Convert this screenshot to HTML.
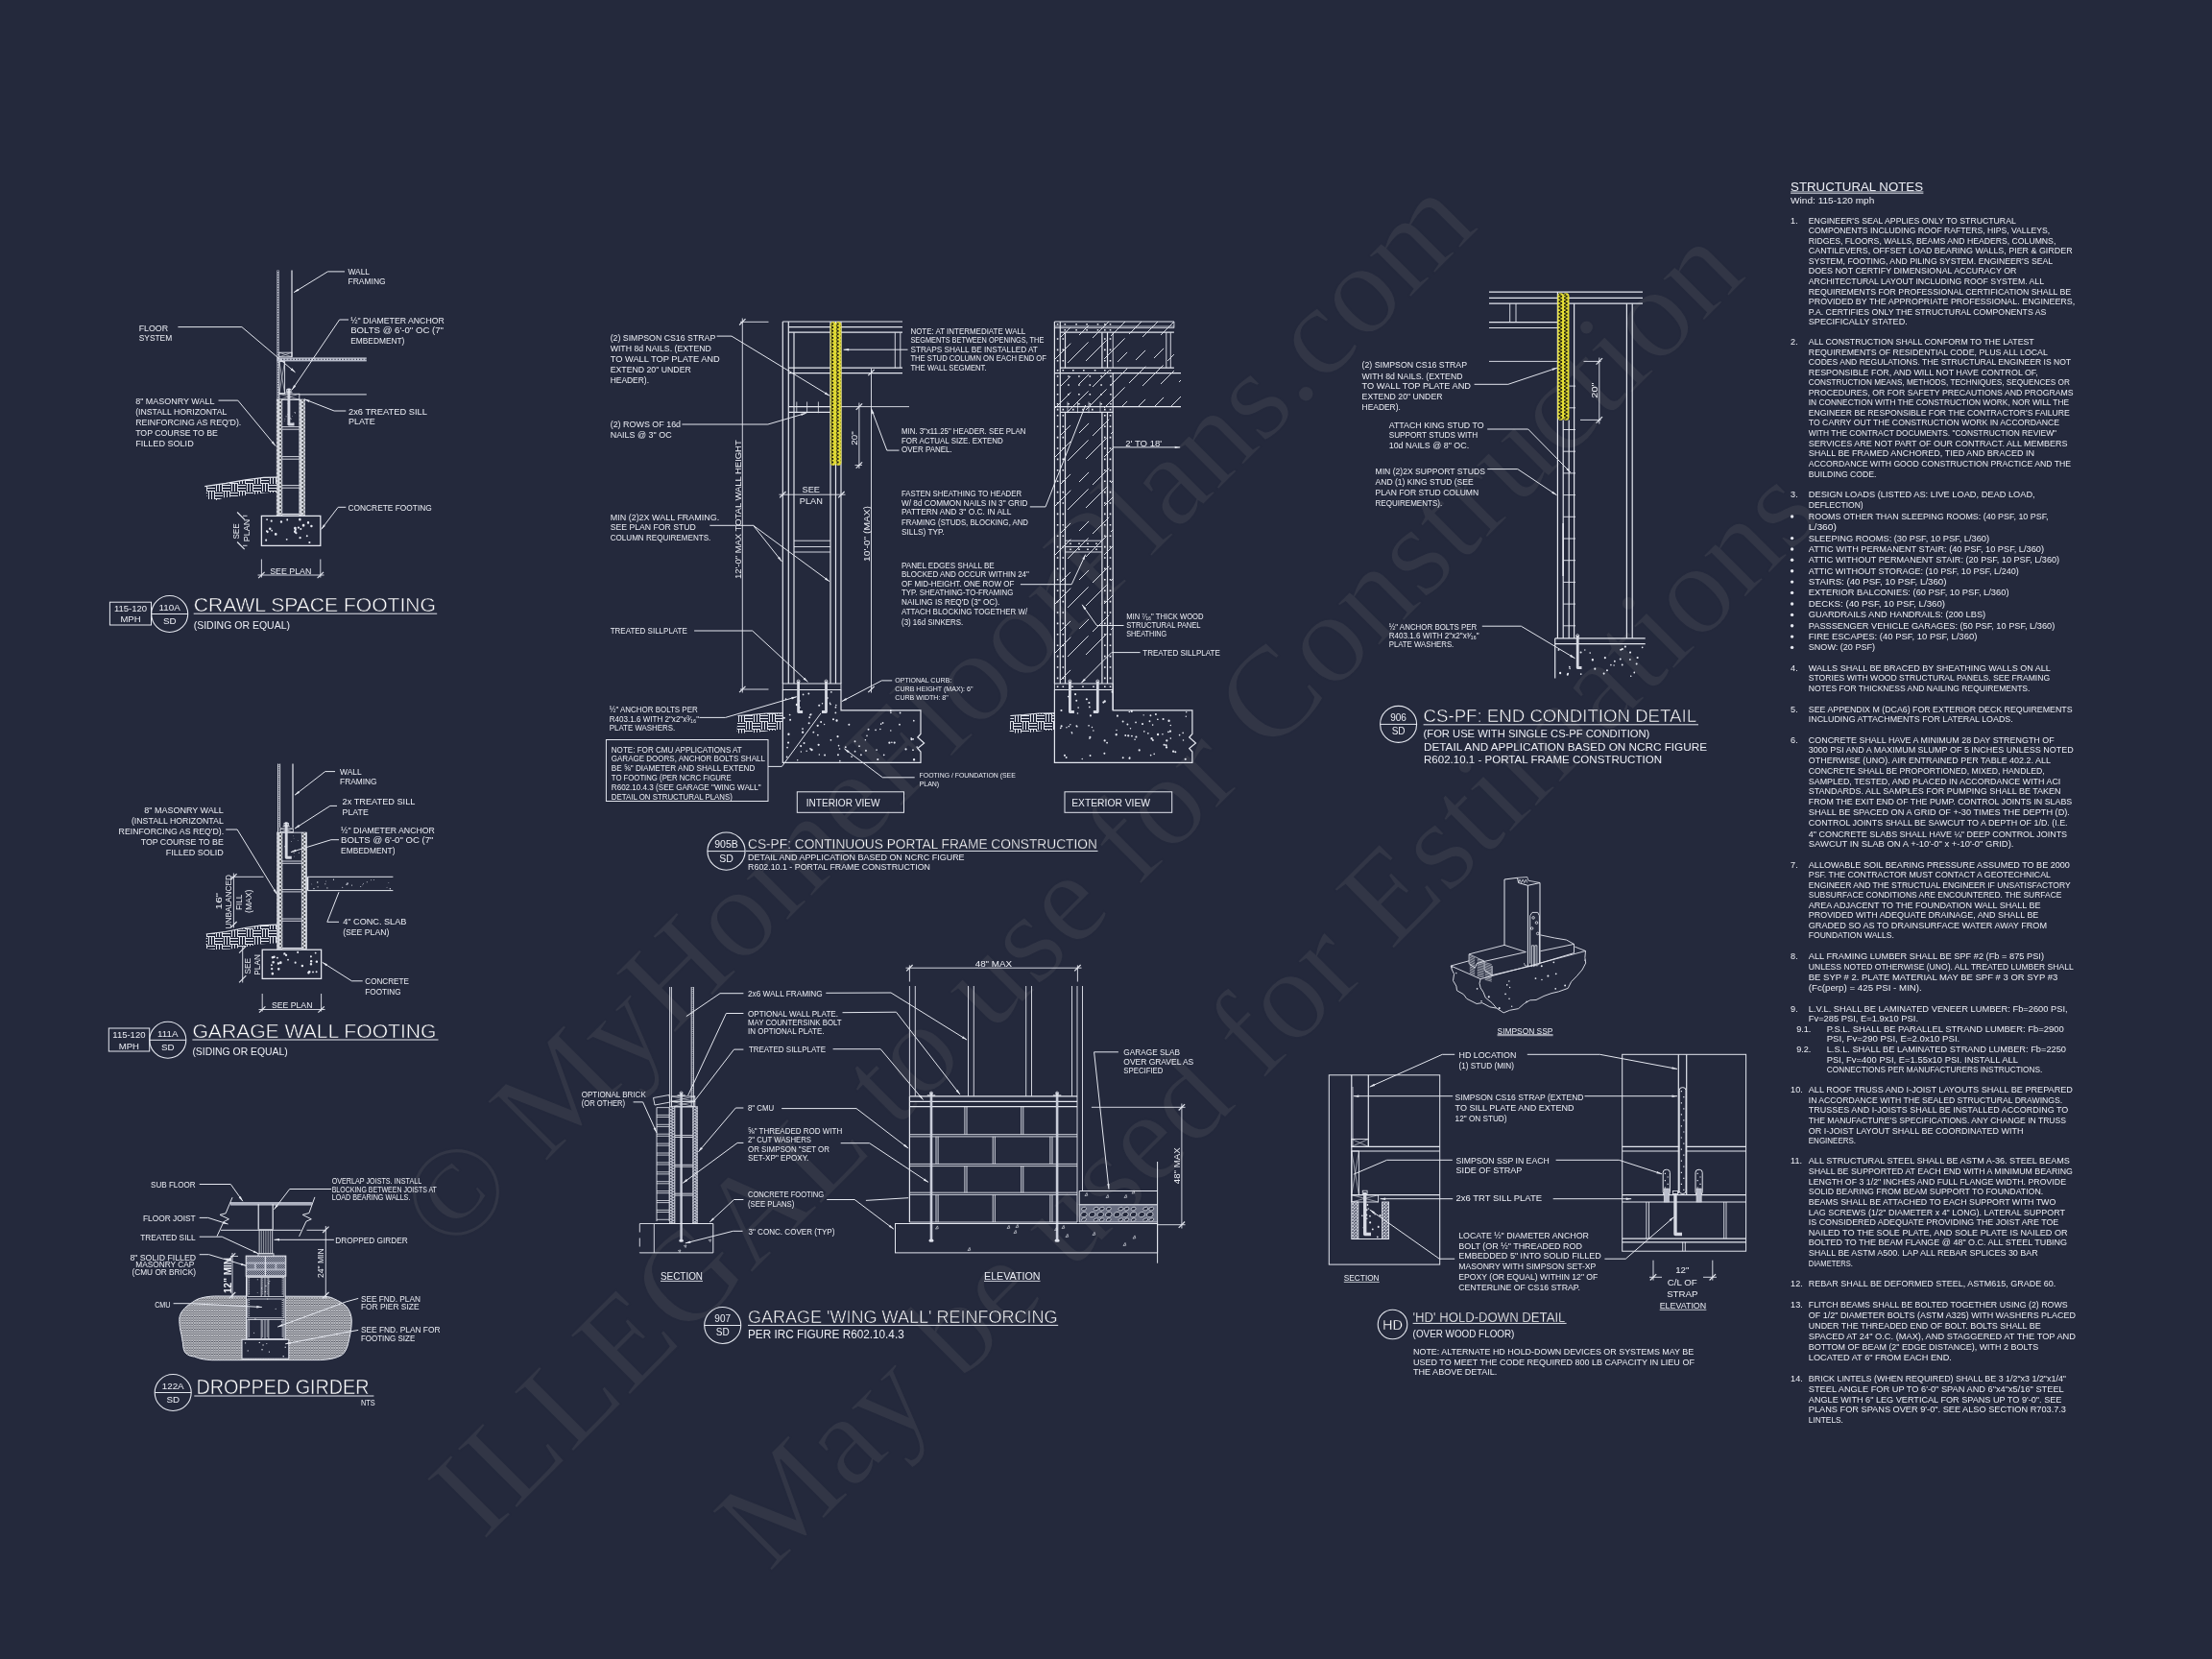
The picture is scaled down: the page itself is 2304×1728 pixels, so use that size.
<!DOCTYPE html>
<html lang="en"><head><meta charset="utf-8"><title>Structural Details</title>
<style>
html,body{margin:0;padding:0;background:#24293c;}
body{width:2304px;height:1728px;overflow:hidden;}
svg{display:block;transform:translateZ(0);will-change:transform;}
svg text{font-family:"Liberation Sans",sans-serif;fill:#eceef5;}
.ti{fill:#ffffff;stroke:#24293c;stroke-width:0.5px;paint-order:fill stroke;}
.ti2{fill:#ffffff;stroke:#24293c;stroke-width:0.28px;paint-order:fill stroke;}
.wm{font-family:"Liberation Serif",serif;fill:#323646;stroke:#24293c;stroke-width:1.5px;}
</style></head><body>
<svg width="2304" height="1728" viewBox="0 0 2304 1728" stroke-linecap="butt" stroke-linejoin="miter">
<rect x="0" y="0" width="2304" height="1728" style="fill:#24293c" stroke="none"/>
<text class="wm" transform="translate(469.5 1309.5) rotate(-45)" x="0" y="0" font-size="134" textLength="1517" lengthAdjust="spacingAndGlyphs">© MyHomeFloorPlans.com</text>
<text class="wm" transform="translate(503 1606) rotate(-45)" x="0" y="0" font-size="134" textLength="1864" lengthAdjust="spacingAndGlyphs">ILLEGAL to use for Construction</text>
<text class="wm" transform="translate(801 1639) rotate(-45)" x="0" y="0" font-size="134" textLength="1555" lengthAdjust="spacingAndGlyphs">May be used for Estimations</text>
<defs>
<pattern id="cmu" width="5.8" height="4" patternUnits="userSpaceOnUse"><rect width="5.8" height="4" fill="#d2d5dc"/><circle cx="2.1" cy="1" r="0.88" fill="#2d3036"/><circle cx="4.1" cy="3" r="0.88" fill="#2d3036"/></pattern>
<pattern id="cmu2" width="5" height="3" patternUnits="userSpaceOnUse"><rect width="5" height="3" fill="#b9bdcb"/><path d="M1.4 -0.2L2.6 0.75L1.4 1.7L0.2 0.75ZM3.7 1.3L4.9 2.25L3.7 3.2L2.5 2.25Z" fill="#24293c"/></pattern>
<pattern id="earth" width="16" height="16" patternUnits="userSpaceOnUse"><path d="M0 1.5H8M0 4.5H8M0 7.5H8M8 9.5H16M8 12.5H16M8 15.5H16M9.5 0V8M12.5 0V8M15.5 0V8M1.5 8V16M4.5 8V16M7.5 8V16" stroke="#e3e6ee" stroke-width="1" fill="none" shape-rendering="crispEdges"/></pattern>
<pattern id="xh" width="2.6" height="2.6" patternUnits="userSpaceOnUse"><rect width="2.6" height="2.6" fill="#2a2c38"/><path d="M0 0L2.6 2.6M2.6 0L0 2.6" stroke="#c4c6cc" stroke-width="0.98"/></pattern>
<pattern id="xh2" width="3.3" height="3.3" patternUnits="userSpaceOnUse"><rect width="3.3" height="3.3" fill="#30354a"/><path d="M0 0L3.3 3.3M3.3 0L0 3.3" stroke="#d5d8e2" stroke-width="0.9"/></pattern>
<pattern id="brickh" width="2" height="2" patternUnits="userSpaceOnUse"><rect width="2" height="2" fill="#3d4256"/><path d="M-0.5 2.5L2.5 -0.5M-0.5 0.5L0.5 -0.5M1.5 2.5L2.5 1.5" stroke="#c9cdd9" stroke-width="0.75"/></pattern>
<pattern id="strap" width="5.5" height="3.6" patternUnits="userSpaceOnUse"><rect width="5.5" height="3.6" fill="#ece534"/><circle cx="1.9" cy="0.9" r="1.2" fill="#17180f"/><circle cx="3.6" cy="2.7" r="1.2" fill="#17180f"/></pattern>
</defs>
<rect x="288.4" y="281.5" width="2.3" height="135" fill="#b9bdcb" stroke="none"/>
<path d="M289.55 282V416" stroke="#24293c" stroke-width="1.1" stroke-dasharray="1 1.6" fill="none"/>
<path d="M304 281.5L304 371.8" stroke="#e4e7ef" stroke-width="1.2"/>
<rect x="290.8" y="367.2" width="13.2" height="4.6" fill="none" stroke="#e4e7ef" stroke-width="0.9"/>
<path d="M290.8 367.2L304 371.8" stroke="#e4e7ef" stroke-width="0.6"/>
<path d="M290.8 371.8L304 367.2" stroke="#e4e7ef" stroke-width="0.6"/>
<rect x="288.4" y="372.4" width="93.4" height="4" fill="#b9bdcb" stroke="none"/>
<path d="M291 374.4H381.5" stroke="#24293c" stroke-width="1.1" stroke-dasharray="0.9 2.3" fill="none"/>
<rect x="290.9" y="376.6" width="5.7" height="33" fill="none" stroke="#e4e7ef" stroke-width="0.9"/>
<path d="M290.9 376.6L296.6 409.6" stroke="#e4e7ef" stroke-width="0.6"/>
<path d="M296.6 376.6L290.9 409.6" stroke="#e4e7ef" stroke-width="0.6"/>
<path d="M311.8 410.9L381.8 410.9" stroke="#e4e7ef" stroke-width="1.0"/>
<rect x="290.9" y="410.3" width="20.9" height="6" fill="none" stroke="#e4e7ef" stroke-width="0.9"/>
<path d="M290.9 410.3L311.8 416.3" stroke="#e4e7ef" stroke-width="0.6"/>
<path d="M290.9 416.3L311.8 410.3" stroke="#e4e7ef" stroke-width="0.6"/>
<rect x="288.2" y="416" width="5.7" height="120.8" fill="url(#cmu)" stroke="#e4e7ef" stroke-width="0.6"/>
<rect x="311.8" y="416" width="5.8" height="120.8" fill="url(#cmu)" stroke="#e4e7ef" stroke-width="0.6"/>
<path d="M293.9 444.6L311.8 444.6" stroke="#e4e7ef" stroke-width="0.9"/>
<path d="M293.9 447.2L311.8 447.2" stroke="#e4e7ef" stroke-width="0.9"/>
<path d="M293.9 475.6L311.8 475.6" stroke="#e4e7ef" stroke-width="0.9"/>
<path d="M293.9 478.2L311.8 478.2" stroke="#e4e7ef" stroke-width="0.9"/>
<path d="M293.9 505.6L311.8 505.6" stroke="#e4e7ef" stroke-width="0.9"/>
<path d="M293.9 508.2L311.8 508.2" stroke="#e4e7ef" stroke-width="0.9"/>
<path d="M293.9 416.2L311.8 416.2" stroke="#e4e7ef" stroke-width="0.9"/>
<path d="M293.9 535.6L311.8 535.6" stroke="#e4e7ef" stroke-width="1.4"/>
<path d="M298.88 431.75a0.40 0.40 0 1 0 0.80 0a0.40 0.40 0 1 0 -0.80 0zM303.99 433.58a0.34 0.34 0 1 0 0.69 0a0.34 0.34 0 1 0 -0.69 0zM295.80 438.34a0.38 0.38 0 1 0 0.76 0a0.38 0.38 0 1 0 -0.76 0zM298.81 441.90a0.42 0.42 0 1 0 0.84 0a0.42 0.42 0 1 0 -0.84 0zM307.09 430.22a0.45 0.45 0 1 0 0.91 0a0.45 0.45 0 1 0 -0.91 0zM297.58 433.78a0.50 0.50 0 1 0 0.99 0a0.50 0.50 0 1 0 -0.99 0zM302.76 436.18a0.46 0.46 0 1 0 0.92 0a0.46 0.46 0 1 0 -0.92 0zM296.44 436.56a0.44 0.44 0 1 0 0.89 0a0.44 0.44 0 1 0 -0.89 0zM299.66 420.20a0.50 0.50 0 1 0 0.99 0a0.50 0.50 0 1 0 -0.99 0zM302.02 435.67a0.50 0.50 0 1 0 1.00 0a0.50 0.50 0 1 0 -1.00 0zM305.45 440.22a0.41 0.41 0 1 0 0.81 0a0.41 0.41 0 1 0 -0.81 0zM306.54 429.50a0.51 0.51 0 1 0 1.02 0a0.51 0.51 0 1 0 -1.02 0z" fill="#e6e9f2" stroke="none"/>
<path d="M300.9 404.4V442H306.5" fill="none" stroke="#d5d8e2" stroke-width="2.9" stroke-linejoin="round"/>
<rect x="298.7" y="405.6" width="4.4" height="2.4" fill="none" stroke="#e4e7ef" stroke-width="0.8"/>
<path d="M297.3 408.8L304.5 408.8" stroke="#e4e7ef" stroke-width="0.9"/>
<rect x="272.4" y="537.4" width="61.4" height="31" fill="none" stroke="#e4e7ef" stroke-width="1.3"/>
<path d="M291.76 543.57a1.20 1.20 0 1 0 2.40 0a1.20 1.20 0 1 0 -2.40 0zM277.57 553.97a1.06 1.06 0 1 0 2.11 0a1.06 1.06 0 1 0 -2.11 0zM276.92 553.20a0.89 0.89 0 1 0 1.78 0a0.89 0.89 0 1 0 -1.78 0zM298.30 541.39a0.92 0.92 0 1 0 1.83 0a0.92 0.92 0 1 0 -1.83 0zM297.76 561.83a0.93 0.93 0 1 0 1.87 0a0.93 0.93 0 1 0 -1.87 0zM285.87 556.44a1.35 1.35 0 1 0 2.70 0a1.35 1.35 0 1 0 -2.70 0zM306.03 550.21a1.37 1.37 0 1 0 2.73 0a1.37 1.37 0 1 0 -2.73 0zM276.14 562.68a1.02 1.02 0 1 0 2.03 0a1.02 1.02 0 1 0 -2.03 0zM281.70 542.68a1.03 1.03 0 1 0 2.05 0a1.03 1.03 0 1 0 -2.05 0zM319.85 544.38a1.17 1.17 0 1 0 2.33 0a1.17 1.17 0 1 0 -2.33 0zM309.77 549.55a1.15 1.15 0 1 0 2.30 0a1.15 1.15 0 1 0 -2.30 0zM277.10 541.11a0.97 0.97 0 1 0 1.95 0a0.97 0.97 0 1 0 -1.95 0zM312.25 551.04a1.03 1.03 0 1 0 2.06 0a1.03 1.03 0 1 0 -2.06 0zM306.85 551.74a1.02 1.02 0 1 0 2.04 0a1.02 1.02 0 1 0 -2.04 0zM318.79 558.37a0.99 0.99 0 1 0 1.99 0a0.99 0.99 0 1 0 -1.99 0zM305.93 553.68a1.31 1.31 0 1 0 2.63 0a1.31 1.31 0 1 0 -2.63 0zM314.71 547.27a1.37 1.37 0 1 0 2.73 0a1.37 1.37 0 1 0 -2.73 0zM279.98 550.79a1.25 1.25 0 1 0 2.51 0a1.25 1.25 0 1 0 -2.51 0zM282.27 552.70a0.89 0.89 0 1 0 1.78 0a0.89 0.89 0 1 0 -1.78 0zM311.43 560.14a1.16 1.16 0 1 0 2.32 0a1.16 1.16 0 1 0 -2.32 0zM323.18 547.97a1.22 1.22 0 1 0 2.45 0a1.22 1.22 0 1 0 -2.45 0zM307.28 555.16a1.10 1.10 0 1 0 2.20 0a1.10 1.10 0 1 0 -2.20 0zM321.27 565.01a1.11 1.11 0 1 0 2.22 0a1.11 1.11 0 1 0 -2.22 0zM311.13 541.14a1.23 1.23 0 1 0 2.45 0a1.23 1.23 0 1 0 -2.45 0z" fill="#e6e9f2" stroke="none"/>
<path d="M213.2 506.6 L235.4 503.4 L255.6 499.9 L274.6 497.4 L288.2 497.1 L288.2 512.9 L276.5 513.2 L260.7 515.6 L246 517 L233.5 518.2 L226 521 L216.4 520.5Z" fill="url(#earth)" stroke="none"/>
<path d="M213.2 506.6 L235.4 503.4 L255.6 499.9 L274.6 497.4 L288.2 497.1" fill="none" stroke="#e4e7ef" stroke-width="1.2"/>
<path d="M247.1 533.5L254.7 541.1" stroke="#e4e7ef" stroke-width="1.2"/>
<path d="M247.1 564.5L254.7 572.1" stroke="#e4e7ef" stroke-width="1.2"/>
<path d="M253 537.3L257.5 537.3" stroke="#e4e7ef" stroke-width="0.9"/>
<path d="M253 568.3L257.5 568.3" stroke="#e4e7ef" stroke-width="0.9"/>
<text transform="translate(245.6 561.6) rotate(-90)" x="0" y="3.3" font-size="9.2" textLength="16.4" lengthAdjust="spacingAndGlyphs">SEE</text>
<text transform="translate(256.4 564.2) rotate(-90)" x="0" y="3.3" font-size="9.2" textLength="23.4" lengthAdjust="spacingAndGlyphs">PLAN</text>
<path d="M272.4 582.5L272.4 601.5" stroke="#e4e7ef" stroke-width="0.9"/>
<path d="M333.8 582.5L333.8 601.5" stroke="#e4e7ef" stroke-width="0.9"/>
<path d="M268.5 599L337.5 599" stroke="#e4e7ef" stroke-width="0.9"/>
<path d="M269.2 602.2L275.6 595.8" stroke="#e4e7ef" stroke-width="1.2"/>
<path d="M330.6 602.2L337 595.8" stroke="#e4e7ef" stroke-width="1.2"/>
<text x="281.2" y="598.1" font-size="9.8" textLength="43.1" lengthAdjust="spacingAndGlyphs">SEE PLAN</text>
<text x="362.5" y="285.8" font-size="9.8" textLength="22.5" lengthAdjust="spacingAndGlyphs">WALL</text>
<text x="362.5" y="296.4" font-size="9.8" textLength="39.1" lengthAdjust="spacingAndGlyphs">FRAMING</text>
<text x="365.2" y="337.1" font-size="9.8" textLength="97.6" lengthAdjust="spacingAndGlyphs">½" DIAMETER ANCHOR</text>
<text x="365.2" y="347.4" font-size="9.8" textLength="96.8" lengthAdjust="spacingAndGlyphs">BOLTS @ 6'-0" OC (7"</text>
<text x="365.2" y="358.2" font-size="9.8" textLength="56.2" lengthAdjust="spacingAndGlyphs">EMBEDMENT)</text>
<text x="144.7" y="344.7" font-size="9.8" textLength="30.4" lengthAdjust="spacingAndGlyphs">FLOOR</text>
<text x="144.7" y="354.7" font-size="9.8" textLength="34.5" lengthAdjust="spacingAndGlyphs">SYSTEM</text>
<text x="141.2" y="420.6" font-size="9.8" textLength="82.2" lengthAdjust="spacingAndGlyphs">8" MASONRY WALL</text>
<text x="141.2" y="432" font-size="9.8" textLength="95.2" lengthAdjust="spacingAndGlyphs">(INSTALL HORIZONTAL</text>
<text x="141.2" y="443.1" font-size="9.8" textLength="110.1" lengthAdjust="spacingAndGlyphs">REINFORCING AS REQ'D).</text>
<text x="141.2" y="454" font-size="9.8" textLength="85.7" lengthAdjust="spacingAndGlyphs">TOP COURSE TO BE</text>
<text x="141.2" y="464.5" font-size="9.8" textLength="60.5" lengthAdjust="spacingAndGlyphs">FILLED SOLID</text>
<text x="363" y="431.5" font-size="9.8" textLength="81.9" lengthAdjust="spacingAndGlyphs">2x6 TREATED SILL</text>
<text x="363" y="441.8" font-size="9.8" textLength="27.7" lengthAdjust="spacingAndGlyphs">PLATE</text>
<text x="362.5" y="531.8" font-size="9.8" textLength="87.3" lengthAdjust="spacingAndGlyphs">CONCRETE FOOTING</text>
<path d="M359 282.9 L341.4 282.9 L306.1 304.6" fill="none" stroke="#e4e7ef" stroke-width="1.0"/>
<path d="M306.1 304.6L310.2 300.7L311.4 302.7Z" fill="#e4e7ef" stroke="none"/>
<path d="M363 333 L353.6 333 L304 406.3" fill="none" stroke="#e4e7ef" stroke-width="1.0"/>
<path d="M304 406.3L306.1 401.1L308.1 402.4Z" fill="#e4e7ef" stroke="none"/>
<path d="M185.4 340.6 L251.9 340.6 L307.5 387.8" fill="none" stroke="#e4e7ef" stroke-width="1.0"/>
<path d="M307.5 387.8L302.5 385.2L304.1 383.3Z" fill="#e4e7ef" stroke="none"/>
<path d="M227.5 417.1 L247.8 417.1 L287.1 464.6" fill="none" stroke="#e4e7ef" stroke-width="1.0"/>
<path d="M287.1 464.6L282.7 461.1L284.5 459.6Z" fill="#e4e7ef" stroke="none"/>
<path d="M360.3 428 L348.1 428 L317 415.8" fill="none" stroke="#e4e7ef" stroke-width="1.0"/>
<path d="M317 415.8L322.6 416.7L321.7 418.9Z" fill="#e4e7ef" stroke="none"/>
<path d="M360.3 528.3 L352.2 528.3 L334.6 551.4" fill="none" stroke="#e4e7ef" stroke-width="1.0"/>
<path d="M334.6 551.4L337 546.3L338.9 547.8Z" fill="#e4e7ef" stroke="none"/>
<rect x="114.4" y="627.2" width="43.1" height="23.8" fill="none" stroke="#e4e7ef" stroke-width="1.0"/>
<text x="136" y="637.4" font-size="9.5" text-anchor="middle">115-120</text>
<text x="136" y="648.4" font-size="9.5" text-anchor="middle">MPH</text>
<circle cx="176.7" cy="639.5" r="19" fill="none" stroke="#e4e7ef" stroke-width="1.1"/>
<path d="M157.7 639.5L195.7 639.5" stroke="#e4e7ef" stroke-width="1.0"/>
<text x="176.7" y="636.2" font-size="9.8" text-anchor="middle">110A</text>
<text x="176.7" y="650.2" font-size="9.8" text-anchor="middle">SD</text>
<text x="201.7" y="637" font-size="21" textLength="252.3" lengthAdjust="spacingAndGlyphs" class="ti">CRAWL SPACE FOOTING</text>
<path d="M201.7 639.2L455.2 639.2" stroke="#e4e7ef" stroke-width="1.0"/>
<text x="201.7" y="655" font-size="10.2" textLength="100.3" lengthAdjust="spacingAndGlyphs">(SIDING OR EQUAL)</text>
<path d="M289.5 795.5L289.5 867" stroke="#e4e7ef" stroke-width="0.9"/>
<path d="M291.6 795.5L291.6 862" stroke="#e4e7ef" stroke-width="0.9"/>
<path d="M305 795.5L305 862" stroke="#e4e7ef" stroke-width="1.2"/>
<path d="M290.5 796V866" stroke="#e4e7ef" stroke-width="1.6" stroke-dasharray="0.7 1.5" fill="none" opacity="0.6"/>
<rect x="292" y="863" width="13.3" height="3.9" fill="none" stroke="#e4e7ef" stroke-width="0.9"/>
<path d="M292 863L305.3 866.9" stroke="#e4e7ef" stroke-width="0.6"/>
<path d="M292 866.9L305.3 863" stroke="#e4e7ef" stroke-width="0.6"/>
<rect x="288.6" y="867" width="5.4" height="121.5" fill="url(#cmu)" stroke="#e4e7ef" stroke-width="0.6"/>
<rect x="314.2" y="867" width="5.4" height="121.5" fill="url(#cmu)" stroke="#e4e7ef" stroke-width="0.6"/>
<path d="M294 867.2L314.2 867.2" stroke="#e4e7ef" stroke-width="0.9"/>
<path d="M294 897L314.2 897" stroke="#e4e7ef" stroke-width="0.9"/>
<path d="M294 899.3L314.2 899.3" stroke="#e4e7ef" stroke-width="0.9"/>
<path d="M294 926.6L314.2 926.6" stroke="#e4e7ef" stroke-width="0.9"/>
<path d="M294 928.9L314.2 928.9" stroke="#e4e7ef" stroke-width="0.9"/>
<path d="M294 957L314.2 957" stroke="#e4e7ef" stroke-width="0.9"/>
<path d="M294 959.3L314.2 959.3" stroke="#e4e7ef" stroke-width="0.9"/>
<path d="M294 987.6L314.2 987.6" stroke="#e4e7ef" stroke-width="1.3"/>
<path d="M305.67 888.30a0.48 0.48 0 1 0 0.97 0a0.48 0.48 0 1 0 -0.97 0zM310.85 888.26a0.51 0.51 0 1 0 1.02 0a0.51 0.51 0 1 0 -1.02 0zM295.96 881.67a0.51 0.51 0 1 0 1.02 0a0.51 0.51 0 1 0 -1.02 0zM306.23 892.12a0.35 0.35 0 1 0 0.70 0a0.35 0.35 0 1 0 -0.70 0zM303.21 876.42a0.43 0.43 0 1 0 0.87 0a0.43 0.43 0 1 0 -0.87 0zM304.98 870.81a0.37 0.37 0 1 0 0.74 0a0.37 0.37 0 1 0 -0.74 0zM300.08 892.49a0.48 0.48 0 1 0 0.95 0a0.48 0.48 0 1 0 -0.95 0zM298.24 889.63a0.36 0.36 0 1 0 0.71 0a0.36 0.36 0 1 0 -0.71 0zM305.73 873.54a0.33 0.33 0 1 0 0.66 0a0.33 0.33 0 1 0 -0.66 0zM309.83 875.53a0.37 0.37 0 1 0 0.74 0a0.37 0.37 0 1 0 -0.74 0z" fill="#e6e9f2" stroke="none"/>
<path d="M298.2 856.3V893.2H303.8" fill="none" stroke="#d5d8e2" stroke-width="2.9" stroke-linejoin="round"/>
<rect x="296" y="857.5" width="4.4" height="2.4" fill="none" stroke="#e4e7ef" stroke-width="0.8"/>
<path d="M294.6 860.7L301.8 860.7" stroke="#e4e7ef" stroke-width="0.9"/>
<path d="M320.5 913.3L409.4 913.3" stroke="#e4e7ef" stroke-width="1.0"/>
<path d="M320.5 927.6L409.4 927.6" stroke="#e4e7ef" stroke-width="1.0"/>
<path d="M320.5 913.3L320.5 927.6" stroke="#e4e7ef" stroke-width="1.6"/>
<path d="M360.40 921.27a0.65 0.65 0 1 0 1.29 0a0.65 0.65 0 1 0 -1.29 0zM361.59 920.73a0.56 0.56 0 1 0 1.13 0a0.56 0.56 0 1 0 -1.13 0zM338.25 920.77a0.57 0.57 0 1 0 1.15 0a0.57 0.57 0 1 0 -1.15 0zM388.82 916.47a0.49 0.49 0 1 0 0.99 0a0.49 0.49 0 1 0 -0.99 0zM330.44 923.84a0.59 0.59 0 1 0 1.18 0a0.59 0.59 0 1 0 -1.18 0zM326.32 925.62a0.66 0.66 0 1 0 1.31 0a0.66 0.66 0 1 0 -1.31 0zM377.32 921.84a0.46 0.46 0 1 0 0.92 0a0.46 0.46 0 1 0 -0.92 0zM324.31 920.94a0.43 0.43 0 1 0 0.87 0a0.43 0.43 0 1 0 -0.87 0zM338.86 917.99a0.43 0.43 0 1 0 0.85 0a0.43 0.43 0 1 0 -0.85 0zM361.38 920.04a0.63 0.63 0 1 0 1.25 0a0.63 0.63 0 1 0 -1.25 0zM366.04 922.10a0.54 0.54 0 1 0 1.08 0a0.54 0.54 0 1 0 -1.08 0zM378.00 920.21a0.49 0.49 0 1 0 0.98 0a0.49 0.49 0 1 0 -0.98 0zM405.68 925.76a0.63 0.63 0 1 0 1.25 0a0.63 0.63 0 1 0 -1.25 0zM381.77 918.75a0.48 0.48 0 1 0 0.95 0a0.48 0.48 0 1 0 -0.95 0zM346.88 916.22a0.61 0.61 0 1 0 1.22 0a0.61 0.61 0 1 0 -1.22 0zM356.22 924.22a0.51 0.51 0 1 0 1.03 0a0.51 0.51 0 1 0 -1.03 0zM402.60 924.23a0.42 0.42 0 1 0 0.84 0a0.42 0.42 0 1 0 -0.84 0zM340.37 924.88a0.54 0.54 0 1 0 1.07 0a0.54 0.54 0 1 0 -1.07 0zM404.43 919.59a0.44 0.44 0 1 0 0.88 0a0.44 0.44 0 1 0 -0.88 0zM375.26 923.52a0.49 0.49 0 1 0 0.97 0a0.49 0.49 0 1 0 -0.97 0zM330.08 918.93a0.66 0.66 0 1 0 1.31 0a0.66 0.66 0 1 0 -1.31 0zM385.94 916.72a0.48 0.48 0 1 0 0.96 0a0.48 0.48 0 1 0 -0.96 0z" fill="#e6e9f2" stroke="none"/>
<rect x="273.2" y="989.2" width="61.4" height="30.2" fill="none" stroke="#e4e7ef" stroke-width="1.3"/>
<path d="M289.05 1009.32a1.22 1.22 0 1 0 2.43 0a1.22 1.22 0 1 0 -2.43 0zM322.93 996.33a0.99 0.99 0 1 0 1.97 0a0.99 0.99 0 1 0 -1.97 0zM282.65 997.35a1.24 1.24 0 1 0 2.49 0a1.24 1.24 0 1 0 -2.49 0zM281.94 1005.31a0.98 0.98 0 1 0 1.96 0a0.98 0.98 0 1 0 -1.96 0zM291.00 1002.72a1.30 1.30 0 1 0 2.59 0a1.30 1.30 0 1 0 -2.59 0zM309.17 991.88a1.01 1.01 0 1 0 2.02 0a1.01 1.01 0 1 0 -2.02 0zM282.58 1014.15a1.28 1.28 0 1 0 2.56 0a1.28 1.28 0 1 0 -2.56 0zM320.20 1012.99a1.25 1.25 0 1 0 2.50 0a1.25 1.25 0 1 0 -2.50 0zM328.61 1012.14a1.00 1.00 0 1 0 2.00 0a1.00 1.00 0 1 0 -2.00 0zM322.69 1004.16a1.25 1.25 0 1 0 2.51 0a1.25 1.25 0 1 0 -2.51 0zM306.60 1002.67a1.05 1.05 0 1 0 2.11 0a1.05 1.05 0 1 0 -2.11 0zM299.07 999.66a0.93 0.93 0 1 0 1.86 0a0.93 0.93 0 1 0 -1.86 0zM320.85 1012.25a1.37 1.37 0 1 0 2.74 0a1.37 1.37 0 1 0 -2.74 0zM313.63 1005.91a1.25 1.25 0 1 0 2.50 0a1.25 1.25 0 1 0 -2.50 0zM282.09 1009.10a1.10 1.10 0 1 0 2.19 0a1.10 1.10 0 1 0 -2.19 0zM284.43 996.77a1.14 1.14 0 1 0 2.27 0a1.14 1.14 0 1 0 -2.27 0zM288.76 1003.45a1.18 1.18 0 1 0 2.35 0a1.18 1.18 0 1 0 -2.35 0zM296.94 994.90a1.12 1.12 0 1 0 2.24 0a1.12 1.12 0 1 0 -2.24 0zM287.95 997.63a0.97 0.97 0 1 0 1.94 0a0.97 0.97 0 1 0 -1.94 0zM295.19 993.41a1.20 1.20 0 1 0 2.40 0a1.20 1.20 0 1 0 -2.40 0zM328.62 1001.63a1.23 1.23 0 1 0 2.47 0a1.23 1.23 0 1 0 -2.47 0zM327.74 992.62a0.94 0.94 0 1 0 1.88 0a0.94 0.94 0 1 0 -1.88 0zM320.25 1013.29a1.19 1.19 0 1 0 2.39 0a1.19 1.19 0 1 0 -2.39 0zM283.30 1002.25a1.31 1.31 0 1 0 2.62 0a1.31 1.31 0 1 0 -2.62 0zM325.04 1012.38a0.97 0.97 0 1 0 1.95 0a0.97 0.97 0 1 0 -1.95 0zM322.92 1001.24a1.23 1.23 0 1 0 2.47 0a1.23 1.23 0 1 0 -2.47 0z" fill="#e6e9f2" stroke="none"/>
<path d="M214.7 973 L235 970.5 L255 966.5 L272 963.8 L288.6 963.2 L288.6 982.2 L270 983.5 L255 986.5 L240 988.5 L225 989 L214.7 988Z" fill="url(#earth)" stroke="none"/>
<path d="M214.7 973 L235 970.5 L255 966.5 L272 963.8 L288.6 963.2" fill="none" stroke="#e4e7ef" stroke-width="1.2"/>
<path d="M243.4 909.5L243.4 966.5" stroke="#e4e7ef" stroke-width="0.9"/>
<path d="M240.2 916.5L246.6 910.1" stroke="#e4e7ef" stroke-width="1.2"/>
<path d="M240.2 966.4L246.6 960" stroke="#e4e7ef" stroke-width="1.2"/>
<path d="M240.5 913.3L274.5 913.3" stroke="#e4e7ef" stroke-width="0.9"/>
<text transform="translate(227.2 947.5) rotate(-90)" x="0" y="3.4" font-size="9.6" textLength="17.5" lengthAdjust="spacingAndGlyphs">16"</text>
<text transform="translate(237.3 967.5) rotate(-90)" x="0" y="3.4" font-size="9.6" textLength="56.5" lengthAdjust="spacingAndGlyphs">UNBALANCED</text>
<text transform="translate(248.6 948) rotate(-90)" x="0" y="3.4" font-size="9.6" textLength="16.4" lengthAdjust="spacingAndGlyphs">FILL</text>
<text transform="translate(258.8 951) rotate(-90)" x="0" y="3.4" font-size="9.6" textLength="24.5" lengthAdjust="spacingAndGlyphs">(MAX)</text>
<path d="M249.1 992.6L256.3 985.4" stroke="#e4e7ef" stroke-width="1.2"/>
<path d="M249.1 1023.4L256.3 1016.2" stroke="#e4e7ef" stroke-width="1.2"/>
<path d="M252.7 985.5L252.7 1023.5" stroke="#e4e7ef" stroke-width="0.9"/>
<text transform="translate(257.8 1014.6) rotate(-90)" x="0" y="3.4" font-size="9.4" textLength="16.6" lengthAdjust="spacingAndGlyphs">SEE</text>
<text transform="translate(268 1015.7) rotate(-90)" x="0" y="3.4" font-size="9.4" textLength="21.7" lengthAdjust="spacingAndGlyphs">PLAN</text>
<path d="M273.2 1035L273.2 1053.5" stroke="#e4e7ef" stroke-width="0.9"/>
<path d="M334.6 1035L334.6 1053.5" stroke="#e4e7ef" stroke-width="0.9"/>
<path d="M269.5 1051.5L338.5 1051.5" stroke="#e4e7ef" stroke-width="0.9"/>
<path d="M270 1054.7L276.4 1048.3" stroke="#e4e7ef" stroke-width="1.2"/>
<path d="M331.4 1054.7L337.8 1048.3" stroke="#e4e7ef" stroke-width="1.2"/>
<text x="283" y="1049.8" font-size="9.8" textLength="42.4" lengthAdjust="spacingAndGlyphs">SEE PLAN</text>
<text x="354.1" y="807.1" font-size="9.8" textLength="22.5" lengthAdjust="spacingAndGlyphs">WALL</text>
<text x="354.1" y="816.9" font-size="9.8" textLength="38.5" lengthAdjust="spacingAndGlyphs">FRAMING</text>
<text x="356.6" y="838.4" font-size="9.8" textLength="75.8" lengthAdjust="spacingAndGlyphs">2x TREATED SILL</text>
<text x="356.6" y="848.7" font-size="9.8" textLength="27.2" lengthAdjust="spacingAndGlyphs">PLATE</text>
<text x="355.1" y="867.9" font-size="9.8" textLength="97.8" lengthAdjust="spacingAndGlyphs">½" DIAMETER ANCHOR</text>
<text x="355.1" y="878.2" font-size="9.8" textLength="96.3" lengthAdjust="spacingAndGlyphs">BOLTS @ 6'-0" OC (7"</text>
<text x="355.1" y="889" font-size="9.8" textLength="56.4" lengthAdjust="spacingAndGlyphs">EMBEDMENT)</text>
<text x="150.2" y="847" font-size="9.8" textLength="82.6" lengthAdjust="spacingAndGlyphs">8" MASONRY WALL</text>
<text x="136.9" y="858.3" font-size="9.8" textLength="95.9" lengthAdjust="spacingAndGlyphs">(INSTALL HORIZONTAL</text>
<text x="123.6" y="869.2" font-size="9.8" textLength="109.6" lengthAdjust="spacingAndGlyphs">REINFORCING AS REQ'D).</text>
<text x="146.7" y="879.8" font-size="9.8" textLength="86.1" lengthAdjust="spacingAndGlyphs">TOP COURSE TO BE</text>
<text x="172.7" y="890.5" font-size="9.8" textLength="60.1" lengthAdjust="spacingAndGlyphs">FILLED SOLID</text>
<text x="357.2" y="962.8" font-size="9.8" textLength="66.2" lengthAdjust="spacingAndGlyphs">4" CONC. SLAB</text>
<text x="357.2" y="974.1" font-size="9.8" textLength="48.1" lengthAdjust="spacingAndGlyphs">(SEE PLAN)</text>
<text x="380.3" y="1025.3" font-size="9.8" textLength="45.5" lengthAdjust="spacingAndGlyphs">CONCRETE</text>
<text x="380.3" y="1035.5" font-size="9.8" textLength="37.3" lengthAdjust="spacingAndGlyphs">FOOTING</text>
<path d="M349 803.6 L338.7 803.6 L307 828.2" fill="none" stroke="#e4e7ef" stroke-width="1.0"/>
<path d="M307 828.2L310.6 823.9L312.1 825.8Z" fill="#e4e7ef" stroke="none"/>
<path d="M351 839.4 L343.9 839.4 L307 863" fill="none" stroke="#e4e7ef" stroke-width="1.0"/>
<path d="M307 863L311 859L312.3 861Z" fill="#e4e7ef" stroke="none"/>
<path d="M353 874.7 L344.9 874.7 L302.9 887.6" fill="none" stroke="#e4e7ef" stroke-width="1.0"/>
<path d="M302.9 887.6L307.8 884.8L308.5 887.1Z" fill="#e4e7ef" stroke="none"/>
<path d="M235.2 864 L247.1 864 L288.5 931.6" fill="none" stroke="#e4e7ef" stroke-width="1.0"/>
<path d="M288.5 931.6L284.6 927.5L286.7 926.3Z" fill="#e4e7ef" stroke="none"/>
<path d="M353 960.3 L340.8 960.3 L353 929.2" fill="none" stroke="#e4e7ef" stroke-width="1.0"/>
<path d="M377.7 1021.8 L366.4 1021.8 L335.7 1002.3" fill="none" stroke="#e4e7ef" stroke-width="1.0"/>
<path d="M335.7 1002.3L341 1004.2L339.7 1006.3Z" fill="#e4e7ef" stroke="none"/>
<rect x="113.3" y="1071" width="42.4" height="24" fill="none" stroke="#e4e7ef" stroke-width="1.0"/>
<text x="134.4" y="1080.6" font-size="9.5" text-anchor="middle">115-120</text>
<text x="134.4" y="1092.6" font-size="9.5" text-anchor="middle">MPH</text>
<circle cx="174.8" cy="1083.3" r="19" fill="none" stroke="#e4e7ef" stroke-width="1.1"/>
<path d="M155.8 1083.3L193.8 1083.3" stroke="#e4e7ef" stroke-width="1.0"/>
<text x="174.8" y="1080" font-size="9.8" text-anchor="middle">111A</text>
<text x="174.8" y="1094" font-size="9.8" text-anchor="middle">SD</text>
<text x="200.4" y="1080.5" font-size="20.5" textLength="254.1" lengthAdjust="spacingAndGlyphs" class="ti">GARAGE WALL FOOTING</text>
<path d="M200.4 1083L456.5 1083" stroke="#e4e7ef" stroke-width="1.0"/>
<text x="200.4" y="1098.8" font-size="10.2" textLength="99.4" lengthAdjust="spacingAndGlyphs">(SIDING OR EQUAL)</text>
<path d="M223.4 1350 L338.2 1350.3 C343 1350.6 345.5 1351.6 347.3 1352.5 C353 1355 358 1358 360.8 1360.7 C364.5 1365 366.3 1370.5 366.3 1376.1 C366.3 1385 364 1393 362.6 1399.6 C361.5 1404.5 359.5 1408.5 356.3 1411.3 C350 1415 342 1416.3 333.7 1416.6 L220.7 1416.7 C214 1416.4 208 1415.5 202.6 1413.1 C197 1412.5 193 1410.5 191.8 1406.8 C190.8 1404 190.6 1401.5 190.4 1398.7 C189.8 1395.8 189.4 1393.2 189 1390.5 C187.6 1385 186.8 1380 186.8 1374.2 C186.8 1367.5 192 1361.5 200.8 1356.2 C205 1352.6 213 1350.4 223.4 1350 Z" fill="url(#xh)" stroke="#e4e7ef" stroke-width="1"/>
<rect x="239.9" y="1252" width="85" height="3.6" fill="#aeb2c1" stroke="none"/>
<path d="M229.9 1281.3L313.4 1281.3" stroke="#e4e7ef" stroke-width="1.0"/>
<path d="M319.5 1281.3L338.4 1281.3" stroke="#e4e7ef" stroke-width="0.9"/>
<path d="M242 1247.2 L235.1 1263.8 L229 1265.3 L238.4 1269.8 L233 1272.6 L226 1287.6" fill="none" stroke="#e4e7ef" stroke-width="1.0"/>
<path d="M327.9 1246.9 L321.9 1263.5 L315.2 1265.3 L324.3 1269.8 L318.9 1272.2 L311.6 1287.9" fill="none" stroke="#e4e7ef" stroke-width="1.0"/>
<path d="M269.2 1254.3L269.2 1280.8" stroke="#e4e7ef" stroke-width="1.2"/>
<path d="M284.2 1254.3L284.2 1280.8" stroke="#e4e7ef" stroke-width="1.2"/>
<rect x="270.1" y="1280.8" width="13.6" height="25" fill="none" stroke="#e4e7ef" stroke-width="0.9"/>
<path d="M272.3 1281.5L272.3 1305.2" stroke="#e4e7ef" stroke-width="0.6"/>
<path d="M274.6 1281.5L274.6 1305.2" stroke="#e4e7ef" stroke-width="0.6"/>
<path d="M276.9 1281.5L276.9 1305.2" stroke="#e4e7ef" stroke-width="0.6"/>
<path d="M279.2 1281.5L279.2 1305.2" stroke="#e4e7ef" stroke-width="0.6"/>
<path d="M281.5 1281.5L281.5 1305.2" stroke="#e4e7ef" stroke-width="0.6"/>
<rect x="269" y="1305.8" width="16" height="2.7" fill="none" stroke="#e4e7ef" stroke-width="0.9"/>
<rect x="256.2" y="1308.1" width="41.6" height="21.1" fill="#aeb2c1" stroke="#e4e7ef" stroke-width="1.0"/>
<rect x="257.2" y="1309.2" width="18.5" height="5.4" fill="url(#brickh)"/>
<rect x="257.2" y="1323.4" width="18.5" height="4.8" fill="url(#brickh)"/>
<rect x="277.1" y="1309.2" width="19.7" height="5.4" fill="url(#brickh)"/>
<rect x="277.1" y="1323.4" width="19.7" height="4.8" fill="url(#brickh)"/>
<rect x="257.2" y="1316.6" width="7.6" height="4.8" fill="url(#brickh)"/>
<rect x="267" y="1316.6" width="8.4" height="4.8" fill="url(#brickh)"/>
<rect x="277.5" y="1316.6" width="8.8" height="4.8" fill="url(#brickh)"/>
<rect x="288.4" y="1316.6" width="8.4" height="4.8" fill="url(#brickh)"/>
<path d="M276.4 1308.1L276.4 1329.2" stroke="#e4e7ef" stroke-width="0.9"/>
<rect x="256.5" y="1329.3" width="40.7" height="66" fill="#24293c" stroke="#e4e7ef" stroke-width="1.0"/>
<rect x="257.8" y="1330.5" width="38.1" height="20" fill="none" stroke="#e4e7ef" stroke-width="0.8"/>
<path d="M259.4 1331.5V1349.5M294.3 1331.5V1349.5" stroke="#e4e7ef" stroke-width="1.4" stroke-dasharray="0.8 1.2" fill="none"/>
<path d="M272.2 1330.5L272.2 1350.5" stroke="#e4e7ef" stroke-width="0.8"/>
<path d="M276 1330.5L276 1350.5" stroke="#e4e7ef" stroke-width="0.8"/>
<path d="M279.8 1330.5L279.8 1350.5" stroke="#e4e7ef" stroke-width="0.8"/>
<path d="M273.6 1331.5V1349.5M278.3 1331.5V1349.5" stroke="#e4e7ef" stroke-width="1.1" stroke-dasharray="0.8 1.2" fill="none"/>
<rect x="257.8" y="1353" width="38.1" height="19.8" fill="none" stroke="#e4e7ef" stroke-width="0.8"/>
<path d="M259.4 1354V1371.8M294.3 1354V1371.8" stroke="#e4e7ef" stroke-width="1.4" stroke-dasharray="0.8 1.2" fill="none"/>
<rect x="257.8" y="1374.6" width="38.1" height="19.9" fill="none" stroke="#e4e7ef" stroke-width="0.8"/>
<path d="M259.4 1375.6V1393.5M294.3 1375.6V1393.5" stroke="#e4e7ef" stroke-width="1.4" stroke-dasharray="0.8 1.2" fill="none"/>
<path d="M272.2 1374.6L272.2 1394.5" stroke="#e4e7ef" stroke-width="0.8"/>
<path d="M276 1374.6L276 1394.5" stroke="#e4e7ef" stroke-width="0.8"/>
<path d="M279.8 1374.6L279.8 1394.5" stroke="#e4e7ef" stroke-width="0.8"/>
<path d="M273.6 1375.6V1393.5M278.3 1375.6V1393.5" stroke="#e4e7ef" stroke-width="1.1" stroke-dasharray="0.8 1.2" fill="none"/>
<path d="M265.37 1373.89a0.58 0.58 0 1 0 1.15 0a0.58 0.58 0 1 0 -1.15 0zM275.70 1345.46a0.61 0.61 0 1 0 1.23 0a0.61 0.61 0 1 0 -1.23 0zM286.62 1363.25a0.54 0.54 0 1 0 1.09 0a0.54 0.54 0 1 0 -1.09 0zM267.78 1332.69a0.51 0.51 0 1 0 1.02 0a0.51 0.51 0 1 0 -1.02 0zM279.20 1336.66a0.61 0.61 0 1 0 1.23 0a0.61 0.61 0 1 0 -1.23 0zM267.73 1346.46a0.43 0.43 0 1 0 0.86 0a0.43 0.43 0 1 0 -0.86 0zM292.79 1376.82a0.63 0.63 0 1 0 1.27 0a0.63 0.63 0 1 0 -1.27 0zM280.32 1334.54a0.50 0.50 0 1 0 1.00 0a0.50 0.50 0 1 0 -1.00 0zM276.27 1339.45a0.65 0.65 0 1 0 1.31 0a0.65 0.65 0 1 0 -1.31 0zM272.04 1341.79a0.62 0.62 0 1 0 1.24 0a0.62 0.62 0 1 0 -1.24 0zM264.09 1388.18a0.53 0.53 0 1 0 1.06 0a0.53 0.53 0 1 0 -1.06 0zM278.18 1353.08a0.54 0.54 0 1 0 1.08 0a0.54 0.54 0 1 0 -1.08 0z" fill="#e6e9f2" stroke="none"/>
<rect x="252" y="1395.3" width="48.8" height="19.9" fill="#24293c" stroke="#e4e7ef" stroke-width="1.0"/>
<path d="M294.46 1412.68a0.73 0.73 0 1 0 1.46 0a0.73 0.73 0 1 0 -1.46 0zM257.58 1406.97a0.60 0.60 0 1 0 1.20 0a0.60 0.60 0 1 0 -1.20 0zM277.29 1399.58a0.53 0.53 0 1 0 1.07 0a0.53 0.53 0 1 0 -1.07 0zM273.45 1401.04a0.61 0.61 0 1 0 1.21 0a0.61 0.61 0 1 0 -1.21 0zM254.91 1398.87a0.68 0.68 0 1 0 1.36 0a0.68 0.68 0 1 0 -1.36 0zM272.35 1405.70a0.69 0.69 0 1 0 1.37 0a0.69 0.69 0 1 0 -1.37 0zM269.60 1398.42a0.70 0.70 0 1 0 1.40 0a0.70 0.70 0 1 0 -1.40 0zM279.77 1408.03a0.65 0.65 0 1 0 1.31 0a0.65 0.65 0 1 0 -1.31 0zM296.52 1403.30a0.69 0.69 0 1 0 1.39 0a0.69 0.69 0 1 0 -1.39 0z" fill="#e6e9f2" stroke="none"/>
<path d="M242 1305L242 1352.5" stroke="#e4e7ef" stroke-width="0.9"/>
<path d="M238.8 1311.7L245.2 1305.3" stroke="#e4e7ef" stroke-width="1.2"/>
<path d="M238.8 1352.4L245.2 1346" stroke="#e4e7ef" stroke-width="1.2"/>
<path d="M240 1308.5L248 1308.5" stroke="#e4e7ef" stroke-width="0.8"/>
<text transform="translate(237.6 1347) rotate(-90)" x="0" y="3.6" font-size="10" font-weight="bold" textLength="37" lengthAdjust="spacingAndGlyphs">12" MIN</text>
<path d="M339.3 1277L339.3 1352.5" stroke="#e4e7ef" stroke-width="0.9"/>
<path d="M336.1 1284L342.5 1277.6" stroke="#e4e7ef" stroke-width="1.2"/>
<path d="M336.1 1352.4L342.5 1346" stroke="#e4e7ef" stroke-width="1.2"/>
<text transform="translate(333.4 1331) rotate(-90)" x="0" y="3.5" font-size="9.8" textLength="30.6" lengthAdjust="spacingAndGlyphs">24" MIN</text>
<text x="157.1" y="1237" font-size="9.8" textLength="46.6" lengthAdjust="spacingAndGlyphs">SUB FLOOR</text>
<text x="148.9" y="1272.2" font-size="9.8" textLength="54.8" lengthAdjust="spacingAndGlyphs">FLOOR JOIST</text>
<text x="146.2" y="1292.1" font-size="9.8" textLength="57.5" lengthAdjust="spacingAndGlyphs">TREATED SILL</text>
<text x="135.4" y="1312.5" font-size="9.8" textLength="68.7" lengthAdjust="spacingAndGlyphs">8" SOLID FILLED</text>
<text x="141.3" y="1320.3" font-size="9.8" textLength="61" lengthAdjust="spacingAndGlyphs">MASONRY CAP</text>
<text x="137.5" y="1328.3" font-size="9.8" textLength="66.6" lengthAdjust="spacingAndGlyphs">(CMU OR BRICK)</text>
<text x="161.2" y="1361.7" font-size="9.8" textLength="16.3" lengthAdjust="spacingAndGlyphs">CMU</text>
<text x="345.7" y="1233.3" font-size="8.7" textLength="93.5" lengthAdjust="spacingAndGlyphs">OVERLAP JOISTS. INSTALL</text>
<text x="345.7" y="1241.6" font-size="8.7" textLength="109.2" lengthAdjust="spacingAndGlyphs">BLOCKING BETWEEN JOISTS AT</text>
<text x="345.7" y="1250.1" font-size="8.7" textLength="81.7" lengthAdjust="spacingAndGlyphs">LOAD BEARING WALLS.</text>
<text x="349.3" y="1294.5" font-size="9.8" textLength="75.4" lengthAdjust="spacingAndGlyphs">DROPPED GIRDER</text>
<text x="375.9" y="1355.8" font-size="9.8" textLength="62" lengthAdjust="spacingAndGlyphs">SEE FND. PLAN</text>
<text x="375.9" y="1363.5" font-size="9.8" textLength="60.6" lengthAdjust="spacingAndGlyphs">FOR PIER SIZE</text>
<text x="375.9" y="1388.3" font-size="9.8" textLength="82.6" lengthAdjust="spacingAndGlyphs">SEE FND. PLAN FOR</text>
<text x="375.9" y="1396.6" font-size="9.8" textLength="56.4" lengthAdjust="spacingAndGlyphs">FOOTING SIZE</text>
<path d="M207.7 1233.5 L240.3 1233.5 L252.9 1251.2" fill="none" stroke="#e4e7ef" stroke-width="1.0"/>
<path d="M252.9 1251.2L248.7 1247.4L250.7 1246Z" fill="#e4e7ef" stroke="none"/>
<path d="M345.1 1238.5 L301.7 1238.5 L285.5 1259.7" fill="none" stroke="#e4e7ef" stroke-width="1.0"/>
<path d="M285.5 1259.7L287.9 1254.6L289.8 1256.1Z" fill="#e4e7ef" stroke="none"/>
<path d="M207.7 1268.4 L216.7 1268.4 L237.5 1275" fill="none" stroke="#e4e7ef" stroke-width="1.0"/>
<path d="M237.5 1275L231.9 1274.5L232.6 1272.2Z" fill="#e4e7ef" stroke="none"/>
<path d="M207.7 1288.2 L231.2 1288.2 L269.2 1305.8" fill="none" stroke="#e4e7ef" stroke-width="1.0"/>
<path d="M269.2 1305.8L263.7 1304.6L264.7 1302.4Z" fill="#e4e7ef" stroke="none"/>
<path d="M347.9 1291.3 L285.5 1291.3" fill="none" stroke="#e4e7ef" stroke-width="1.0"/>
<path d="M285.5 1291.3L291 1290.1L291 1292.5Z" fill="#e4e7ef" stroke="none"/>
<path d="M207.7 1306.7 L217.6 1306.7 L256.5 1318.4" fill="none" stroke="#e4e7ef" stroke-width="1.0"/>
<path d="M256.5 1318.4L250.9 1318L251.6 1315.7Z" fill="#e4e7ef" stroke="none"/>
<path d="M180.6 1357.7 L197.8 1357.7 L272.8 1361.5" fill="none" stroke="#e4e7ef" stroke-width="1.0"/>
<path d="M272.8 1361.5L267.2 1362.4L267.4 1360Z" fill="#e4e7ef" stroke="none"/>
<path d="M373.2 1352.4 L360.5 1355.9 L289.1 1382.1" fill="none" stroke="#e4e7ef" stroke-width="1.0"/>
<path d="M289.1 1382.1L293.8 1379.1L294.7 1381.3Z" fill="#e4e7ef" stroke="none"/>
<path d="M373.2 1385.4 L358.7 1388 L297.2 1399.8" fill="none" stroke="#e4e7ef" stroke-width="1.0"/>
<path d="M297.2 1399.8L302.4 1397.6L302.8 1399.9Z" fill="#e4e7ef" stroke="none"/>
<circle cx="180.2" cy="1450.5" r="19" fill="none" stroke="#e4e7ef" stroke-width="1.1"/>
<path d="M161.2 1450.5L199.2 1450.5" stroke="#e4e7ef" stroke-width="1.0"/>
<text x="180.2" y="1447.2" font-size="9.8" text-anchor="middle">122A</text>
<text x="180.2" y="1461.2" font-size="9.8" text-anchor="middle">SD</text>
<text x="204.4" y="1452.3" font-size="21.5" textLength="180.2" lengthAdjust="spacingAndGlyphs" class="ti">DROPPED GIRDER</text>
<path d="M202.3 1454L389.4 1454" stroke="#e4e7ef" stroke-width="1.0"/>
<text x="375.9" y="1463.5" font-size="8.6" textLength="14.8" lengthAdjust="spacingAndGlyphs">NTS</text>
<path d="M815.3 335L940 335" stroke="#e4e7ef" stroke-width="1.2"/>
<path d="M821.3 340.7L940 340.7" stroke="#e4e7ef" stroke-width="1.2"/>
<path d="M821.3 346.2L940 346.2" stroke="#e4e7ef" stroke-width="1.2"/>
<path d="M821.3 383.2L940 383.2" stroke="#e4e7ef" stroke-width="1.2"/>
<path d="M821.3 388.7L940 388.7" stroke="#e4e7ef" stroke-width="1.2"/>
<path d="M932.3 346.2L932.3 383.2" stroke="#e4e7ef" stroke-width="0.9"/>
<path d="M937.8 346.2L937.8 383.2" stroke="#e4e7ef" stroke-width="0.9"/>
<path d="M815.3 335L815.3 712" stroke="#e4e7ef" stroke-width="1.2"/>
<path d="M821.3 335L821.3 712" stroke="#e4e7ef" stroke-width="1.2"/>
<path d="M827 346.2L827 712" stroke="#e4e7ef" stroke-width="1.2"/>
<path d="M821.3 423.6L865 423.6" stroke="#e4e7ef" stroke-width="1.2"/>
<path d="M821.3 429.4L865 429.4" stroke="#e4e7ef" stroke-width="1.2"/>
<path d="M876 423.6L947 423.6" stroke="#e4e7ef" stroke-width="0.9"/>
<path d="M829.8 418.5L829.8 430.2" stroke="#e4e7ef" stroke-width="0.8"/>
<path d="M840.6 418.5L840.6 430.2" stroke="#e4e7ef" stroke-width="0.8"/>
<path d="M852.4 418.5L852.4 430.2" stroke="#e4e7ef" stroke-width="0.8"/>
<path d="M865 335L865 712" stroke="#e4e7ef" stroke-width="1.2"/>
<path d="M870.5 335L870.5 712" stroke="#e4e7ef" stroke-width="1.2"/>
<path d="M876 335L876 712" stroke="#e4e7ef" stroke-width="1.2"/>
<rect x="865.2" y="335.6" width="5.2" height="148.9" rx="2.4" fill="url(#strap)" stroke="#e9e23a" stroke-width="0.9"/>
<rect x="870.7" y="335.6" width="5.2" height="148.9" rx="2.4" fill="url(#strap)" stroke="#e9e23a" stroke-width="0.9"/>
<path d="M827 563.2L865 563.2" stroke="#e4e7ef" stroke-width="0.9"/>
<path d="M827 569.5L865 569.5" stroke="#e4e7ef" stroke-width="0.9"/>
<path d="M827 575L865 575" stroke="#e4e7ef" stroke-width="0.9"/>
<rect x="815.3" y="712" width="60.7" height="6.5" fill="none" stroke="#e4e7ef" stroke-width="1.0"/>
<path d="M815.3 718.5 L815.3 794.4 L959 794.4 L959 783 L955.8 779.5 L962.6 774 L955.8 768 L959 764.5 L959 739.8 L876 739.8 L876 718.5" fill="none" stroke="#e4e7ef" stroke-width="1.2"/>
<path d="M817.64 728.19a0.88 0.88 0 1 0 1.77 0a0.88 0.88 0 1 0 -1.77 0zM831.58 736.90a1.04 1.04 0 1 0 2.08 0a1.04 1.04 0 1 0 -2.08 0zM836.54 773.99a1.00 1.00 0 1 0 2.00 0a1.00 1.00 0 1 0 -2.00 0zM835.11 759.05a0.91 0.91 0 1 0 1.82 0a0.91 0.91 0 1 0 -1.82 0zM874.09 792.63a0.76 0.76 0 1 0 1.52 0a0.76 0.76 0 1 0 -1.52 0zM818.78 788.51a0.89 0.89 0 1 0 1.78 0a0.89 0.89 0 1 0 -1.78 0zM843.86 744.08a0.87 0.87 0 1 0 1.75 0a0.87 0.87 0 1 0 -1.75 0zM846.37 762.64a0.95 0.95 0 1 0 1.90 0a0.95 0.95 0 1 0 -1.90 0zM950.12 781.14a0.87 0.87 0 1 0 1.74 0a0.87 0.87 0 1 0 -1.74 0zM844.35 780.97a1.14 1.14 0 1 0 2.27 0a1.14 1.14 0 1 0 -2.27 0zM819.99 773.58a1.08 1.08 0 1 0 2.17 0a1.08 1.08 0 1 0 -2.17 0zM928.08 773.20a0.80 0.80 0 1 0 1.60 0a0.80 0.80 0 1 0 -1.60 0zM821.77 744.50a0.86 0.86 0 1 0 1.72 0a0.86 0.86 0 1 0 -1.72 0zM871.47 767.15a1.07 1.07 0 1 0 2.14 0a1.07 1.07 0 1 0 -2.14 0zM950.92 791.18a1.14 1.14 0 1 0 2.27 0a1.14 1.14 0 1 0 -2.27 0zM927.14 742.33a0.79 0.79 0 1 0 1.59 0a0.79 0.79 0 1 0 -1.59 0zM903.56 759.79a1.00 1.00 0 1 0 2.01 0a1.00 1.00 0 1 0 -2.01 0zM828.85 734.05a1.11 1.11 0 1 0 2.21 0a1.11 1.11 0 1 0 -2.21 0zM900.66 770.69a0.76 0.76 0 1 0 1.52 0a0.76 0.76 0 1 0 -1.52 0zM871.97 786.35a0.99 0.99 0 1 0 1.99 0a0.99 0.99 0 1 0 -1.99 0zM879.88 778.36a0.91 0.91 0 1 0 1.81 0a0.91 0.91 0 1 0 -1.81 0zM927.03 760.95a0.77 0.77 0 1 0 1.54 0a0.77 0.77 0 1 0 -1.54 0zM829.94 791.66a0.77 0.77 0 1 0 1.54 0a0.77 0.77 0 1 0 -1.54 0zM843.09 744.44a1.02 1.02 0 1 0 2.04 0a1.02 1.02 0 1 0 -2.04 0zM936.04 754.68a0.93 0.93 0 1 0 1.86 0a0.93 0.93 0 1 0 -1.86 0zM926.86 740.27a0.88 0.88 0 1 0 1.75 0a0.88 0.88 0 1 0 -1.75 0zM902.27 766.38a0.74 0.74 0 1 0 1.47 0a0.74 0.74 0 1 0 -1.47 0zM831.54 730.06a1.02 1.02 0 1 0 2.05 0a1.02 1.02 0 1 0 -2.05 0zM913.25 790.94a1.04 1.04 0 1 0 2.08 0a1.04 1.04 0 1 0 -2.08 0zM851.51 775.80a1.13 1.13 0 1 0 2.27 0a1.13 1.13 0 1 0 -2.27 0zM864.98 720.82a0.88 0.88 0 1 0 1.76 0a0.88 0.88 0 1 0 -1.76 0zM855.81 732.84a0.74 0.74 0 1 0 1.48 0a0.74 0.74 0 1 0 -1.48 0zM833.63 783.07a0.74 0.74 0 1 0 1.48 0a0.74 0.74 0 1 0 -1.48 0zM843.15 779.83a0.85 0.85 0 1 0 1.69 0a0.85 0.85 0 1 0 -1.69 0zM841.65 753.16a1.01 1.01 0 1 0 2.02 0a1.01 1.01 0 1 0 -2.02 0zM889.69 782.67a0.89 0.89 0 1 0 1.78 0a0.89 0.89 0 1 0 -1.78 0zM889.62 772.28a0.91 0.91 0 1 0 1.83 0a0.91 0.91 0 1 0 -1.83 0zM916.91 754.04a0.78 0.78 0 1 0 1.55 0a0.78 0.78 0 1 0 -1.55 0zM833.14 777.09a1.03 1.03 0 1 0 2.07 0a1.03 1.03 0 1 0 -2.07 0zM948.48 770.31a0.96 0.96 0 1 0 1.93 0a0.96 0.96 0 1 0 -1.93 0zM839.41 782.19a0.77 0.77 0 1 0 1.54 0a0.77 0.77 0 1 0 -1.54 0zM869.47 742.39a0.90 0.90 0 1 0 1.80 0a0.90 0.90 0 1 0 -1.80 0zM916.03 759.48a0.82 0.82 0 1 0 1.64 0a0.82 0.82 0 1 0 -1.64 0zM925.31 773.59a1.07 1.07 0 1 0 2.13 0a1.07 1.07 0 1 0 -2.13 0zM820.34 764.81a1.10 1.10 0 1 0 2.19 0a1.10 1.10 0 1 0 -2.19 0zM852.16 734.74a1.06 1.06 0 1 0 2.12 0a1.06 1.06 0 1 0 -2.12 0zM866.94 749.25a1.06 1.06 0 1 0 2.13 0a1.06 1.06 0 1 0 -2.13 0zM870.04 734.47a0.81 0.81 0 1 0 1.62 0a0.81 0.81 0 1 0 -1.62 0zM864.55 770.87a0.87 0.87 0 1 0 1.75 0a0.87 0.87 0 1 0 -1.75 0zM850.92 765.56a0.92 0.92 0 1 0 1.84 0a0.92 0.92 0 1 0 -1.84 0zM886.29 788.19a0.84 0.84 0 1 0 1.67 0a0.84 0.84 0 1 0 -1.67 0zM841.42 722.46a0.92 0.92 0 1 0 1.85 0a0.92 0.92 0 1 0 -1.85 0zM857.89 754.54a0.72 0.72 0 1 0 1.44 0a0.72 0.72 0 1 0 -1.44 0zM815.79 747.68a1.04 1.04 0 1 0 2.08 0a1.04 1.04 0 1 0 -2.08 0zM858.11 786.53a0.96 0.96 0 1 0 1.93 0a0.96 0.96 0 1 0 -1.93 0zM872.75 776.65a0.82 0.82 0 1 0 1.64 0a0.82 0.82 0 1 0 -1.64 0zM901.00 781.71a0.95 0.95 0 1 0 1.89 0a0.95 0.95 0 1 0 -1.89 0zM860.83 727.00a0.96 0.96 0 1 0 1.92 0a0.96 0.96 0 1 0 -1.92 0zM842.25 747.21a0.95 0.95 0 1 0 1.90 0a0.95 0.95 0 1 0 -1.90 0zM948.28 769.09a0.94 0.94 0 1 0 1.88 0a0.94 0.94 0 1 0 -1.88 0zM936.69 742.50a0.88 0.88 0 1 0 1.77 0a0.88 0.88 0 1 0 -1.77 0zM911.27 760.40a0.81 0.81 0 1 0 1.63 0a0.81 0.81 0 1 0 -1.63 0zM873.76 780.03a0.82 0.82 0 1 0 1.64 0a0.82 0.82 0 1 0 -1.64 0zM950.26 769.87a0.86 0.86 0 1 0 1.71 0a0.86 0.86 0 1 0 -1.71 0zM954.39 778.07a0.75 0.75 0 1 0 1.49 0a0.75 0.75 0 1 0 -1.49 0zM850.59 755.84a1.14 1.14 0 1 0 2.28 0a1.14 1.14 0 1 0 -2.28 0zM835.74 723.47a0.85 0.85 0 1 0 1.70 0a0.85 0.85 0 1 0 -1.70 0zM822.16 749.81a0.95 0.95 0 1 0 1.89 0a0.95 0.95 0 1 0 -1.89 0zM819.15 778.53a0.90 0.90 0 1 0 1.81 0a0.90 0.90 0 1 0 -1.81 0zM883.33 754.85a1.01 1.01 0 1 0 2.02 0a1.01 1.01 0 1 0 -2.02 0zM942.51 780.30a1.03 1.03 0 1 0 2.05 0a1.03 1.03 0 1 0 -2.05 0zM863.72 732.30a0.76 0.76 0 1 0 1.52 0a0.76 0.76 0 1 0 -1.52 0zM896.04 786.32a0.86 0.86 0 1 0 1.71 0a0.86 0.86 0 1 0 -1.71 0zM870.44 750.47a1.12 1.12 0 1 0 2.23 0a1.12 1.12 0 1 0 -2.23 0zM912.33 781.15a0.74 0.74 0 1 0 1.47 0a0.74 0.74 0 1 0 -1.47 0zM918.68 752.88a0.89 0.89 0 1 0 1.78 0a0.89 0.89 0 1 0 -1.78 0zM930.59 773.60a1.10 1.10 0 1 0 2.20 0a1.10 1.10 0 1 0 -2.20 0zM919.81 786.34a0.90 0.90 0 1 0 1.80 0a0.90 0.90 0 1 0 -1.80 0zM894.13 777.21a0.91 0.91 0 1 0 1.82 0a0.91 0.91 0 1 0 -1.82 0zM835.03 762.68a1.09 1.09 0 1 0 2.17 0a1.09 1.09 0 1 0 -2.17 0zM869.56 736.66a0.86 0.86 0 1 0 1.73 0a0.86 0.86 0 1 0 -1.73 0zM950.95 750.70a0.85 0.85 0 1 0 1.70 0a0.85 0.85 0 1 0 -1.70 0zM854.15 752.10a1.00 1.00 0 1 0 2.00 0a1.00 1.00 0 1 0 -2.00 0zM864.18 733.58a0.81 0.81 0 1 0 1.63 0a0.81 0.81 0 1 0 -1.63 0zM852.58 786.06a0.79 0.79 0 1 0 1.58 0a0.79 0.79 0 1 0 -1.58 0z" fill="#e6e9f2" stroke="none"/>
<path d="M831.6 709.6V741.5H836.1" fill="none" stroke="#d5d8e2" stroke-width="2.8" stroke-linejoin="round"/>
<circle cx="831.6" cy="709.6" r="1.5" fill="none" stroke="#e4e7ef" stroke-width="0.8"/>
<path d="M860.5 709.6V741.5H856" fill="none" stroke="#d5d8e2" stroke-width="2.8" stroke-linejoin="round"/>
<circle cx="860.5" cy="709.6" r="1.5" fill="none" stroke="#e4e7ef" stroke-width="0.8"/>
<path d="M768.5 745.5 L782.5 744.5 L798.5 743 L815.3 742.9 L815.3 760.5 L802.5 761 L788.5 763 L767.5 763.7Z" fill="url(#earth)" stroke="none"/>
<path d="M768.5 745.5 L782.5 744.5 L798.5 743 L815.3 742.9" fill="none" stroke="#e4e7ef" stroke-width="1.1"/>
<path d="M773.3 331.5L773.3 721.5" stroke="#e4e7ef" stroke-width="0.9"/>
<path d="M770.1 338.5L776.5 332.1" stroke="#e4e7ef" stroke-width="1.2"/>
<path d="M770.1 721.2L776.5 714.8" stroke="#e4e7ef" stroke-width="1.2"/>
<path d="M771 335.3L800.5 335.3" stroke="#e4e7ef" stroke-width="0.9"/>
<path d="M771 718L800.5 718" stroke="#e4e7ef" stroke-width="0.9"/>
<text transform="translate(768.3 603) rotate(-90)" x="0" y="3.5" font-size="9.8" textLength="144.7" lengthAdjust="spacingAndGlyphs">12'-0" MAX TOTAL WALL HEIGHT</text>
<path d="M907.5 384L907.5 721.5" stroke="#e4e7ef" stroke-width="0.9"/>
<path d="M904.3 391.2L910.7 384.8" stroke="#e4e7ef" stroke-width="1.2"/>
<path d="M904.3 721.2L910.7 714.8" stroke="#e4e7ef" stroke-width="1.2"/>
<text transform="translate(902.1 584.9) rotate(-90)" x="0" y="3.5" font-size="9.8" textLength="57.9" lengthAdjust="spacingAndGlyphs">10'-0" (MAX)</text>
<path d="M894.9 419.5L894.9 488" stroke="#e4e7ef" stroke-width="0.9"/>
<path d="M891.7 426.8L898.1 420.4" stroke="#e4e7ef" stroke-width="1.2"/>
<path d="M891.7 487.7L898.1 481.3" stroke="#e4e7ef" stroke-width="1.2"/>
<path d="M890.5 484.5L898 484.5" stroke="#e4e7ef" stroke-width="0.8"/>
<text transform="translate(889.6 463.7) rotate(-90)" x="0" y="3.5" font-size="9.8" textLength="14.5" lengthAdjust="spacingAndGlyphs">20"</text>
<path d="M811.5 515.2L880.5 515.2" stroke="#e4e7ef" stroke-width="0.9"/>
<path d="M812.1 518.4L818.5 512" stroke="#e4e7ef" stroke-width="1.2"/>
<path d="M873.2 518.4L879.6 512" stroke="#e4e7ef" stroke-width="1.2"/>
<text x="844.8" y="513.1" font-size="9.2" text-anchor="middle">SEE</text>
<text x="844.8" y="524.7" font-size="9.2" text-anchor="middle">PLAN</text>
<text x="635.7" y="355.1" font-size="9.8" textLength="109.6" lengthAdjust="spacingAndGlyphs">(2) SIMPSON CS16 STRAP</text>
<text x="635.7" y="366.3" font-size="9.8" textLength="105.1" lengthAdjust="spacingAndGlyphs">WITH 8d NAILS. (EXTEND</text>
<text x="635.7" y="376.8" font-size="9.8" textLength="114.1" lengthAdjust="spacingAndGlyphs">TO WALL TOP PLATE AND</text>
<text x="635.7" y="387.6" font-size="9.8" textLength="84.1" lengthAdjust="spacingAndGlyphs">EXTEND 20" UNDER</text>
<text x="635.7" y="398.5" font-size="9.8" textLength="40.3" lengthAdjust="spacingAndGlyphs">HEADER).</text>
<text x="635.7" y="445.1" font-size="9.8" textLength="73.4" lengthAdjust="spacingAndGlyphs">(2) ROWS OF 16d</text>
<text x="635.7" y="456.4" font-size="9.8" textLength="63.9" lengthAdjust="spacingAndGlyphs">NAILS @ 3" OC</text>
<text x="635.7" y="541.7" font-size="9.8" textLength="113.6" lengthAdjust="spacingAndGlyphs">MIN (2)2X WALL FRAMING.</text>
<text x="635.7" y="552.2" font-size="9.8" textLength="89.2" lengthAdjust="spacingAndGlyphs">SEE PLAN FOR STUD</text>
<text x="635.7" y="563" font-size="9.8" textLength="104.6" lengthAdjust="spacingAndGlyphs">COLUMN REQUIREMENTS.</text>
<text x="635.7" y="660.2" font-size="8.8" textLength="80.1" lengthAdjust="spacingAndGlyphs">TREATED SILLPLATE</text>
<text x="634.8" y="742.1" font-size="8.8" textLength="91.9" lengthAdjust="spacingAndGlyphs">½" ANCHOR BOLTS PER</text>
<text x="634.8" y="751.8" font-size="8.8" textLength="93.3" lengthAdjust="spacingAndGlyphs">R403.1.6 WITH 2"x2"x³⁄₁₆"</text>
<text x="634.8" y="760.5" font-size="8.8" textLength="68.4" lengthAdjust="spacingAndGlyphs">PLATE WASHERS.</text>
<path d="M746.6 350.1 L762 350.1 L864.1 412.2" fill="none" stroke="#e4e7ef" stroke-width="1.0"/>
<path d="M864.1 412.2L858.8 410.4L860 408.3Z" fill="#e4e7ef" stroke="none"/>
<path d="M710.4 442 L799.9 442 L839.7 430.3" fill="none" stroke="#e4e7ef" stroke-width="1.0"/>
<path d="M839.7 430.3L834.8 433L834.1 430.7Z" fill="#e4e7ef" stroke="none"/>
<path d="M739.3 547.3 L784.6 547.3 L814.4 584.9" fill="none" stroke="#e4e7ef" stroke-width="1.0"/>
<path d="M814.4 584.9L810 581.3L811.9 579.8Z" fill="#e4e7ef" stroke="none"/>
<path d="M784.6 547.3 L864.1 605.7" fill="none" stroke="#e4e7ef" stroke-width="1.0"/>
<path d="M864.1 605.7L859 603.4L860.4 601.5Z" fill="#e4e7ef" stroke="none"/>
<path d="M945.5 364.2 L878.6 364.2" fill="none" stroke="#e4e7ef" stroke-width="1.0"/>
<path d="M878.6 364.2L884.1 363L884.1 365.4Z" fill="#e4e7ef" stroke="none"/>
<path d="M936.5 469.1 L923.8 469.1 L907.5 425.7" fill="none" stroke="#e4e7ef" stroke-width="1.0"/>
<path d="M907.5 425.7L910.6 430.4L908.3 431.3Z" fill="#e4e7ef" stroke="none"/>
<path d="M723.1 657 L783.7 657 L841.5 710.3" fill="none" stroke="#e4e7ef" stroke-width="1.0"/>
<path d="M841.5 710.3L836.6 707.5L838.3 705.7Z" fill="#e4e7ef" stroke="none"/>
<path d="M728.5 747.4 L755.6 747.4 L829.8 725.7" fill="none" stroke="#e4e7ef" stroke-width="1.0"/>
<path d="M829.8 725.7L824.9 728.4L824.2 726.1Z" fill="#e4e7ef" stroke="none"/>
<path d="M929.2 708.9 L918.4 708.9 L876.8 730.6" fill="none" stroke="#e4e7ef" stroke-width="1.0"/>
<path d="M876.8 730.6L881.1 727L882.2 729.1Z" fill="#e4e7ef" stroke="none"/>
<path d="M952.7 809.8 L919.3 809.8 L879.5 779.9" fill="none" stroke="#e4e7ef" stroke-width="1.0"/>
<path d="M879.5 779.9L884.6 782.2L883.2 784.2Z" fill="#e4e7ef" stroke="none"/>
<rect x="631.4" y="770.5" width="168.6" height="64" fill="none" stroke="#e4e7ef" stroke-width="1.0"/>
<text x="636.8" y="783.5" font-size="8.8" textLength="136" lengthAdjust="spacingAndGlyphs">NOTE: FOR CMU APPLICATIONS AT</text>
<text x="636.8" y="793.1" font-size="8.8" textLength="160.1" lengthAdjust="spacingAndGlyphs">GARAGE DOORS, ANCHOR BOLTS SHALL</text>
<text x="636.8" y="803.4" font-size="8.8" textLength="149.6" lengthAdjust="spacingAndGlyphs">BE ⅝" DIAMETER AND SHALL EXTEND</text>
<text x="636.8" y="813" font-size="8.8" textLength="124.8" lengthAdjust="spacingAndGlyphs">TO FOOTING (PER NCRC FIGURE</text>
<text x="636.8" y="823.3" font-size="8.8" textLength="155.9" lengthAdjust="spacingAndGlyphs">R602.10.4.3 (SEE GARAGE "WING WALL"</text>
<text x="636.8" y="833.4" font-size="8.8" textLength="126.1" lengthAdjust="spacingAndGlyphs">DETAIL ON STRUCTURAL PLANS)</text>
<path d="M800 798.4 L814.4 798.4 L855 742.9" fill="none" stroke="#e4e7ef" stroke-width="1.0"/>
<text x="948.4" y="347.6" font-size="8.8" textLength="119.9" lengthAdjust="spacingAndGlyphs">NOTE: AT INTERMEDIATE WALL</text>
<text x="948.4" y="357.1" font-size="8.8" textLength="138.9" lengthAdjust="spacingAndGlyphs">SEGMENTS BETWEEN OPENINGS, THE</text>
<text x="948.4" y="366.5" font-size="8.8" textLength="132.5" lengthAdjust="spacingAndGlyphs">STRAPS SHALL BE INSTALLED AT</text>
<text x="948.4" y="376.1" font-size="8.8" textLength="141.6" lengthAdjust="spacingAndGlyphs">THE STUD COLUMN ON EACH END OF</text>
<text x="948.4" y="385.9" font-size="8.8" textLength="79.2" lengthAdjust="spacingAndGlyphs">THE WALL SEGMENT.</text>
<text x="939" y="451.9" font-size="8.8" textLength="129.3" lengthAdjust="spacingAndGlyphs">MIN. 3"x11.25" HEADER. SEE PLAN</text>
<text x="939" y="461.5" font-size="8.8" textLength="105.8" lengthAdjust="spacingAndGlyphs">FOR ACTUAL SIZE. EXTEND</text>
<text x="939" y="470.9" font-size="8.8" textLength="52.8" lengthAdjust="spacingAndGlyphs">OVER PANEL.</text>
<text x="939" y="517" font-size="8.8" textLength="125.1" lengthAdjust="spacingAndGlyphs">FASTEN SHEATHING TO HEADER</text>
<text x="939" y="526.6" font-size="8.8" textLength="131.5" lengthAdjust="spacingAndGlyphs">W/ 8d COMMON NAILS IN 3" GRID</text>
<text x="939" y="536.2" font-size="8.8" textLength="114.3" lengthAdjust="spacingAndGlyphs">PATTERN AND 3" O.C. IN ALL</text>
<text x="939" y="546.5" font-size="8.8" textLength="132" lengthAdjust="spacingAndGlyphs">FRAMING (STUDS, BLOCKING, AND</text>
<text x="939" y="557" font-size="8.8" textLength="44.7" lengthAdjust="spacingAndGlyphs">SILLS) TYP.</text>
<text x="939" y="591.7" font-size="8.8" textLength="96.7" lengthAdjust="spacingAndGlyphs">PANEL EDGES SHALL BE</text>
<text x="939" y="601.1" font-size="8.8" textLength="132.9" lengthAdjust="spacingAndGlyphs">BLOCKED AND OCCUR WITHIN 24"</text>
<text x="939" y="610.7" font-size="8.8" textLength="117.5" lengthAdjust="spacingAndGlyphs">OF MID-HEIGHT.  ONE ROW OF</text>
<text x="939" y="620.4" font-size="8.8" textLength="116.3" lengthAdjust="spacingAndGlyphs">TYP. SHEATHING-TO-FRAMING</text>
<text x="939" y="630.3" font-size="8.8" textLength="102.2" lengthAdjust="spacingAndGlyphs">NAILING IS REQ'D (3" OC).</text>
<text x="939" y="640.3" font-size="8.8" textLength="131.1" lengthAdjust="spacingAndGlyphs">ATTACH BLOCKING TOGETHER W/</text>
<text x="939" y="650.6" font-size="8.8" textLength="64.2" lengthAdjust="spacingAndGlyphs">(3) 16d SINKERS.</text>
<text x="932.3" y="711.2" font-size="7.6" textLength="58.8" lengthAdjust="spacingAndGlyphs">OPTIONAL CURB:</text>
<text x="932.3" y="720.2" font-size="7.6" textLength="81.2" lengthAdjust="spacingAndGlyphs">CURB HEIGHT (MAX): 6"</text>
<text x="932.3" y="728.9" font-size="7.6" textLength="55.5" lengthAdjust="spacingAndGlyphs">CURB WIDTH: 8"</text>
<text x="957.6" y="810.3" font-size="7.6" textLength="100.2" lengthAdjust="spacingAndGlyphs">FOOTING / FOUNDATION (SEE</text>
<text x="957.6" y="819.3" font-size="7.6" textLength="20.6" lengthAdjust="spacingAndGlyphs">PLAN)</text>
<rect x="830.3" y="824.8" width="111.2" height="21.5" fill="none" stroke="#e4e7ef" stroke-width="1.0"/>
<text x="839.7" y="839.9" font-size="10.9" textLength="76.9" lengthAdjust="spacingAndGlyphs">INTERIOR VIEW</text>
<path d="M1098.4 335L1222.9 335" stroke="#e4e7ef" stroke-width="1.2"/>
<path d="M1098.4 340L1222.9 340" stroke="#e4e7ef" stroke-width="0.8"/>
<path d="M1098.4 341.6L1222.9 341.6" stroke="#e4e7ef" stroke-width="0.8"/>
<path d="M1104.3 346.2L1222.9 346.2" stroke="#e4e7ef" stroke-width="1.2"/>
<path d="M1104.3 383.2L1222.9 383.2" stroke="#e4e7ef" stroke-width="1.2"/>
<path d="M1098.4 388.7L1230 388.7" stroke="#e4e7ef" stroke-width="1.2"/>
<path d="M1214.8 346.2L1214.8 383.2" stroke="#e4e7ef" stroke-width="0.9"/>
<path d="M1219.3 346.2L1219.3 383.2" stroke="#e4e7ef" stroke-width="0.9"/>
<path d="M1222.9 335L1222.9 341.6" stroke="#e4e7ef" stroke-width="0.9"/>
<path d="M1098.4 423.6L1230 423.6" stroke="#e4e7ef" stroke-width="1.2"/>
<path d="M1104.3 429.3L1159.2 429.3" stroke="#e4e7ef" stroke-width="1.2"/>
<path d="M1098.4 335L1098.4 712" stroke="#e4e7ef" stroke-width="1.2"/>
<path d="M1104.3 335L1104.3 712" stroke="#e4e7ef" stroke-width="1.2"/>
<path d="M1109.5 346.2L1109.5 383.2" stroke="#e4e7ef" stroke-width="1.2"/>
<path d="M1109.5 429.3L1109.5 712" stroke="#e4e7ef" stroke-width="1.2"/>
<path d="M1147.9 346.2L1147.9 383.2" stroke="#e4e7ef" stroke-width="1.2"/>
<path d="M1153.5 346.2L1153.5 383.2" stroke="#e4e7ef" stroke-width="1.2"/>
<path d="M1159.2 346.2L1159.2 383.2" stroke="#e4e7ef" stroke-width="0.9"/>
<path d="M1147.9 429.3L1147.9 712" stroke="#e4e7ef" stroke-width="1.2"/>
<path d="M1153.5 429.3L1153.5 712" stroke="#e4e7ef" stroke-width="1.2"/>
<path d="M1159.2 388.7L1159.2 739.8" stroke="#e4e7ef" stroke-width="1.2"/>
<path d="M1109.5 563.2L1147.9 563.2" stroke="#e4e7ef" stroke-width="0.9"/>
<path d="M1109.5 569.5L1147.9 569.5" stroke="#e4e7ef" stroke-width="0.9"/>
<path d="M1109.5 575L1147.9 575" stroke="#e4e7ef" stroke-width="0.9"/>
<clipPath id="c1"><path d="M1098.4 335 L1222.9 335 L1222.9 388.7 L1230 388.7 L1230 423.6 L1159.2 423.6 L1159.2 712 L1098.4 712Z"/></clipPath><g clip-path="url(#c1)">
<path d="M1105 708L1115.1 697.9" stroke="#e4e7ef" stroke-width="0.95"/>
<path d="M1131 682L1152.6 660.4" stroke="#e4e7ef" stroke-width="0.95"/>
<path d="M1157 656L1174.3 638.7" stroke="#e4e7ef" stroke-width="0.95"/>
<path d="M1183 630L1193.1 619.9" stroke="#e4e7ef" stroke-width="0.95"/>
<path d="M1209 604L1230.6 582.4" stroke="#e4e7ef" stroke-width="0.95"/>
<path d="M1235 578L1252.3 560.7" stroke="#e4e7ef" stroke-width="0.95"/>
<path d="M1112 684L1133.6 662.4" stroke="#e4e7ef" stroke-width="0.95"/>
<path d="M1138 658L1155.3 640.7" stroke="#e4e7ef" stroke-width="0.95"/>
<path d="M1164 632L1174.1 621.9" stroke="#e4e7ef" stroke-width="0.95"/>
<path d="M1190 606L1211.6 584.4" stroke="#e4e7ef" stroke-width="0.95"/>
<path d="M1216 580L1233.3 562.7" stroke="#e4e7ef" stroke-width="0.95"/>
<path d="M1242 554L1252.1 543.9" stroke="#e4e7ef" stroke-width="0.95"/>
<path d="M1098 681L1115.3 663.7" stroke="#e4e7ef" stroke-width="0.95"/>
<path d="M1124 655L1134.1 644.9" stroke="#e4e7ef" stroke-width="0.95"/>
<path d="M1150 629L1171.6 607.4" stroke="#e4e7ef" stroke-width="0.95"/>
<path d="M1176 603L1193.3 585.7" stroke="#e4e7ef" stroke-width="0.95"/>
<path d="M1202 577L1212.1 566.9" stroke="#e4e7ef" stroke-width="0.95"/>
<path d="M1228 551L1249.6 529.4" stroke="#e4e7ef" stroke-width="0.95"/>
<path d="M1105 657L1115.1 646.9" stroke="#e4e7ef" stroke-width="0.95"/>
<path d="M1131 631L1152.6 609.4" stroke="#e4e7ef" stroke-width="0.95"/>
<path d="M1157 605L1174.3 587.7" stroke="#e4e7ef" stroke-width="0.95"/>
<path d="M1183 579L1193.1 568.9" stroke="#e4e7ef" stroke-width="0.95"/>
<path d="M1209 553L1230.6 531.4" stroke="#e4e7ef" stroke-width="0.95"/>
<path d="M1235 527L1252.3 509.7" stroke="#e4e7ef" stroke-width="0.95"/>
<path d="M1112 633L1133.6 611.4" stroke="#e4e7ef" stroke-width="0.95"/>
<path d="M1138 607L1155.3 589.7" stroke="#e4e7ef" stroke-width="0.95"/>
<path d="M1164 581L1174.1 570.9" stroke="#e4e7ef" stroke-width="0.95"/>
<path d="M1190 555L1211.6 533.4" stroke="#e4e7ef" stroke-width="0.95"/>
<path d="M1216 529L1233.3 511.7" stroke="#e4e7ef" stroke-width="0.95"/>
<path d="M1242 503L1252.1 492.9" stroke="#e4e7ef" stroke-width="0.95"/>
<path d="M1098 630L1115.3 612.7" stroke="#e4e7ef" stroke-width="0.95"/>
<path d="M1124 604L1134.1 593.9" stroke="#e4e7ef" stroke-width="0.95"/>
<path d="M1150 578L1171.6 556.4" stroke="#e4e7ef" stroke-width="0.95"/>
<path d="M1176 552L1193.3 534.7" stroke="#e4e7ef" stroke-width="0.95"/>
<path d="M1202 526L1212.1 515.9" stroke="#e4e7ef" stroke-width="0.95"/>
<path d="M1228 500L1249.6 478.4" stroke="#e4e7ef" stroke-width="0.95"/>
<path d="M1105 606L1115.1 595.9" stroke="#e4e7ef" stroke-width="0.95"/>
<path d="M1131 580L1152.6 558.4" stroke="#e4e7ef" stroke-width="0.95"/>
<path d="M1157 554L1174.3 536.7" stroke="#e4e7ef" stroke-width="0.95"/>
<path d="M1183 528L1193.1 517.9" stroke="#e4e7ef" stroke-width="0.95"/>
<path d="M1209 502L1230.6 480.4" stroke="#e4e7ef" stroke-width="0.95"/>
<path d="M1235 476L1252.3 458.7" stroke="#e4e7ef" stroke-width="0.95"/>
<path d="M1112 582L1133.6 560.4" stroke="#e4e7ef" stroke-width="0.95"/>
<path d="M1138 556L1155.3 538.7" stroke="#e4e7ef" stroke-width="0.95"/>
<path d="M1164 530L1174.1 519.9" stroke="#e4e7ef" stroke-width="0.95"/>
<path d="M1190 504L1211.6 482.4" stroke="#e4e7ef" stroke-width="0.95"/>
<path d="M1216 478L1233.3 460.7" stroke="#e4e7ef" stroke-width="0.95"/>
<path d="M1242 452L1252.1 441.9" stroke="#e4e7ef" stroke-width="0.95"/>
<path d="M1098 579L1115.3 561.7" stroke="#e4e7ef" stroke-width="0.95"/>
<path d="M1124 553L1134.1 542.9" stroke="#e4e7ef" stroke-width="0.95"/>
<path d="M1150 527L1171.6 505.4" stroke="#e4e7ef" stroke-width="0.95"/>
<path d="M1176 501L1193.3 483.7" stroke="#e4e7ef" stroke-width="0.95"/>
<path d="M1202 475L1212.1 464.9" stroke="#e4e7ef" stroke-width="0.95"/>
<path d="M1228 449L1249.6 427.4" stroke="#e4e7ef" stroke-width="0.95"/>
<path d="M1105 555L1115.1 544.9" stroke="#e4e7ef" stroke-width="0.95"/>
<path d="M1131 529L1152.6 507.4" stroke="#e4e7ef" stroke-width="0.95"/>
<path d="M1157 503L1174.3 485.7" stroke="#e4e7ef" stroke-width="0.95"/>
<path d="M1183 477L1193.1 466.9" stroke="#e4e7ef" stroke-width="0.95"/>
<path d="M1209 451L1230.6 429.4" stroke="#e4e7ef" stroke-width="0.95"/>
<path d="M1235 425L1252.3 407.7" stroke="#e4e7ef" stroke-width="0.95"/>
<path d="M1112 531L1133.6 509.4" stroke="#e4e7ef" stroke-width="0.95"/>
<path d="M1138 505L1155.3 487.7" stroke="#e4e7ef" stroke-width="0.95"/>
<path d="M1164 479L1174.1 468.9" stroke="#e4e7ef" stroke-width="0.95"/>
<path d="M1190 453L1211.6 431.4" stroke="#e4e7ef" stroke-width="0.95"/>
<path d="M1216 427L1233.3 409.7" stroke="#e4e7ef" stroke-width="0.95"/>
<path d="M1242 401L1252.1 390.9" stroke="#e4e7ef" stroke-width="0.95"/>
<path d="M1098 528L1115.3 510.7" stroke="#e4e7ef" stroke-width="0.95"/>
<path d="M1124 502L1134.1 491.9" stroke="#e4e7ef" stroke-width="0.95"/>
<path d="M1150 476L1171.6 454.4" stroke="#e4e7ef" stroke-width="0.95"/>
<path d="M1176 450L1193.3 432.7" stroke="#e4e7ef" stroke-width="0.95"/>
<path d="M1202 424L1212.1 413.9" stroke="#e4e7ef" stroke-width="0.95"/>
<path d="M1228 398L1249.6 376.4" stroke="#e4e7ef" stroke-width="0.95"/>
<path d="M1105 504L1115.1 493.9" stroke="#e4e7ef" stroke-width="0.95"/>
<path d="M1131 478L1152.6 456.4" stroke="#e4e7ef" stroke-width="0.95"/>
<path d="M1157 452L1174.3 434.7" stroke="#e4e7ef" stroke-width="0.95"/>
<path d="M1183 426L1193.1 415.9" stroke="#e4e7ef" stroke-width="0.95"/>
<path d="M1209 400L1230.6 378.4" stroke="#e4e7ef" stroke-width="0.95"/>
<path d="M1235 374L1252.3 356.7" stroke="#e4e7ef" stroke-width="0.95"/>
<path d="M1112 480L1133.6 458.4" stroke="#e4e7ef" stroke-width="0.95"/>
<path d="M1138 454L1155.3 436.7" stroke="#e4e7ef" stroke-width="0.95"/>
<path d="M1164 428L1174.1 417.9" stroke="#e4e7ef" stroke-width="0.95"/>
<path d="M1190 402L1211.6 380.4" stroke="#e4e7ef" stroke-width="0.95"/>
<path d="M1216 376L1233.3 358.7" stroke="#e4e7ef" stroke-width="0.95"/>
<path d="M1242 350L1252.1 339.9" stroke="#e4e7ef" stroke-width="0.95"/>
<path d="M1098 477L1115.3 459.7" stroke="#e4e7ef" stroke-width="0.95"/>
<path d="M1124 451L1134.1 440.9" stroke="#e4e7ef" stroke-width="0.95"/>
<path d="M1150 425L1171.6 403.4" stroke="#e4e7ef" stroke-width="0.95"/>
<path d="M1176 399L1193.3 381.7" stroke="#e4e7ef" stroke-width="0.95"/>
<path d="M1202 373L1212.1 362.9" stroke="#e4e7ef" stroke-width="0.95"/>
<path d="M1228 347L1249.6 325.4" stroke="#e4e7ef" stroke-width="0.95"/>
<path d="M1105 453L1115.1 442.9" stroke="#e4e7ef" stroke-width="0.95"/>
<path d="M1131 427L1152.6 405.4" stroke="#e4e7ef" stroke-width="0.95"/>
<path d="M1157 401L1174.3 383.7" stroke="#e4e7ef" stroke-width="0.95"/>
<path d="M1183 375L1193.1 364.9" stroke="#e4e7ef" stroke-width="0.95"/>
<path d="M1209 349L1230.6 327.4" stroke="#e4e7ef" stroke-width="0.95"/>
<path d="M1112 429L1133.6 407.4" stroke="#e4e7ef" stroke-width="0.95"/>
<path d="M1138 403L1155.3 385.7" stroke="#e4e7ef" stroke-width="0.95"/>
<path d="M1164 377L1174.1 366.9" stroke="#e4e7ef" stroke-width="0.95"/>
<path d="M1190 351L1211.6 329.4" stroke="#e4e7ef" stroke-width="0.95"/>
<path d="M1098 426L1115.3 408.7" stroke="#e4e7ef" stroke-width="0.95"/>
<path d="M1124 400L1134.1 389.9" stroke="#e4e7ef" stroke-width="0.95"/>
<path d="M1150 374L1171.6 352.4" stroke="#e4e7ef" stroke-width="0.95"/>
<path d="M1176 348L1193.3 330.7" stroke="#e4e7ef" stroke-width="0.95"/>
<path d="M1105 402L1115.1 391.9" stroke="#e4e7ef" stroke-width="0.95"/>
<path d="M1131 376L1152.6 354.4" stroke="#e4e7ef" stroke-width="0.95"/>
<path d="M1157 350L1174.3 332.7" stroke="#e4e7ef" stroke-width="0.95"/>
<path d="M1112 378L1133.6 356.4" stroke="#e4e7ef" stroke-width="0.95"/>
<path d="M1138 352L1155.3 334.7" stroke="#e4e7ef" stroke-width="0.95"/>
<path d="M1098 375L1115.3 357.7" stroke="#e4e7ef" stroke-width="0.95"/>
<path d="M1124 349L1134.1 338.9" stroke="#e4e7ef" stroke-width="0.95"/>
<path d="M1105 351L1115.1 340.9" stroke="#e4e7ef" stroke-width="0.95"/>
</g>
<path d="M1100.8 352.2h1.6v1.6h-1.6zM1106.5 352.2h1.6v1.6h-1.6zM1150 352.2h1.6v1.6h-1.6zM1155.7 352.2h1.6v1.6h-1.6zM1100.8 363.6h1.6v1.6h-1.6zM1106.5 363.6h1.6v1.6h-1.6zM1150 363.6h1.6v1.6h-1.6zM1155.7 363.6h1.6v1.6h-1.6zM1100.8 375h1.6v1.6h-1.6zM1106.5 375h1.6v1.6h-1.6zM1150 375h1.6v1.6h-1.6zM1155.7 375h1.6v1.6h-1.6zM1100.8 432h1.6v1.6h-1.6zM1106.5 432h1.6v1.6h-1.6zM1150 432h1.6v1.6h-1.6zM1155.7 432h1.6v1.6h-1.6zM1100.8 443.4h1.6v1.6h-1.6zM1106.5 443.4h1.6v1.6h-1.6zM1150 443.4h1.6v1.6h-1.6zM1155.7 443.4h1.6v1.6h-1.6zM1100.8 454.8h1.6v1.6h-1.6zM1106.5 454.8h1.6v1.6h-1.6zM1150 454.8h1.6v1.6h-1.6zM1155.7 454.8h1.6v1.6h-1.6zM1100.8 466.2h1.6v1.6h-1.6zM1106.5 466.2h1.6v1.6h-1.6zM1150 466.2h1.6v1.6h-1.6zM1155.7 466.2h1.6v1.6h-1.6zM1100.8 477.6h1.6v1.6h-1.6zM1106.5 477.6h1.6v1.6h-1.6zM1150 477.6h1.6v1.6h-1.6zM1155.7 477.6h1.6v1.6h-1.6zM1100.8 489h1.6v1.6h-1.6zM1106.5 489h1.6v1.6h-1.6zM1150 489h1.6v1.6h-1.6zM1155.7 489h1.6v1.6h-1.6zM1100.8 500.4h1.6v1.6h-1.6zM1106.5 500.4h1.6v1.6h-1.6zM1150 500.4h1.6v1.6h-1.6zM1155.7 500.4h1.6v1.6h-1.6zM1100.8 511.8h1.6v1.6h-1.6zM1106.5 511.8h1.6v1.6h-1.6zM1150 511.8h1.6v1.6h-1.6zM1155.7 511.8h1.6v1.6h-1.6zM1100.8 523.2h1.6v1.6h-1.6zM1106.5 523.2h1.6v1.6h-1.6zM1150 523.2h1.6v1.6h-1.6zM1155.7 523.2h1.6v1.6h-1.6zM1100.8 534.6h1.6v1.6h-1.6zM1106.5 534.6h1.6v1.6h-1.6zM1150 534.6h1.6v1.6h-1.6zM1155.7 534.6h1.6v1.6h-1.6zM1100.8 546h1.6v1.6h-1.6zM1106.5 546h1.6v1.6h-1.6zM1150 546h1.6v1.6h-1.6zM1155.7 546h1.6v1.6h-1.6zM1100.8 557.4h1.6v1.6h-1.6zM1106.5 557.4h1.6v1.6h-1.6zM1150 557.4h1.6v1.6h-1.6zM1155.7 557.4h1.6v1.6h-1.6zM1100.8 568.8h1.6v1.6h-1.6zM1106.5 568.8h1.6v1.6h-1.6zM1150 568.8h1.6v1.6h-1.6zM1155.7 568.8h1.6v1.6h-1.6zM1100.8 580.2h1.6v1.6h-1.6zM1106.5 580.2h1.6v1.6h-1.6zM1150 580.2h1.6v1.6h-1.6zM1155.7 580.2h1.6v1.6h-1.6zM1100.8 591.6h1.6v1.6h-1.6zM1106.5 591.6h1.6v1.6h-1.6zM1150 591.6h1.6v1.6h-1.6zM1155.7 591.6h1.6v1.6h-1.6zM1100.8 603h1.6v1.6h-1.6zM1106.5 603h1.6v1.6h-1.6zM1150 603h1.6v1.6h-1.6zM1155.7 603h1.6v1.6h-1.6zM1100.8 614.4h1.6v1.6h-1.6zM1106.5 614.4h1.6v1.6h-1.6zM1150 614.4h1.6v1.6h-1.6zM1155.7 614.4h1.6v1.6h-1.6zM1100.8 625.8h1.6v1.6h-1.6zM1106.5 625.8h1.6v1.6h-1.6zM1150 625.8h1.6v1.6h-1.6zM1155.7 625.8h1.6v1.6h-1.6zM1100.8 637.2h1.6v1.6h-1.6zM1106.5 637.2h1.6v1.6h-1.6zM1150 637.2h1.6v1.6h-1.6zM1155.7 637.2h1.6v1.6h-1.6zM1100.8 648.6h1.6v1.6h-1.6zM1106.5 648.6h1.6v1.6h-1.6zM1150 648.6h1.6v1.6h-1.6zM1155.7 648.6h1.6v1.6h-1.6zM1100.8 660h1.6v1.6h-1.6zM1106.5 660h1.6v1.6h-1.6zM1150 660h1.6v1.6h-1.6zM1155.7 660h1.6v1.6h-1.6zM1100.8 671.4h1.6v1.6h-1.6zM1106.5 671.4h1.6v1.6h-1.6zM1150 671.4h1.6v1.6h-1.6zM1155.7 671.4h1.6v1.6h-1.6zM1100.8 682.8h1.6v1.6h-1.6zM1106.5 682.8h1.6v1.6h-1.6zM1150 682.8h1.6v1.6h-1.6zM1155.7 682.8h1.6v1.6h-1.6zM1100.8 694.2h1.6v1.6h-1.6zM1106.5 694.2h1.6v1.6h-1.6zM1150 694.2h1.6v1.6h-1.6zM1155.7 694.2h1.6v1.6h-1.6zM1100.8 705.6h1.6v1.6h-1.6zM1106.5 705.6h1.6v1.6h-1.6zM1150 705.6h1.6v1.6h-1.6zM1155.7 705.6h1.6v1.6h-1.6zM1100.8 336.9h1.6v1.6h-1.6zM1108.5 336.9h1.6v1.6h-1.6zM1120.3 336.9h1.6v1.6h-1.6zM1131.3 336.9h1.6v1.6h-1.6zM1142.7 336.9h1.6v1.6h-1.6zM1150 336.9h1.6v1.6h-1.6zM1155.7 336.9h1.6v1.6h-1.6zM1108.5 343h1.6v1.6h-1.6zM1120.3 343h1.6v1.6h-1.6zM1131.3 343h1.6v1.6h-1.6zM1142.7 343h1.6v1.6h-1.6zM1150 343h1.6v1.6h-1.6zM1155.7 343h1.6v1.6h-1.6zM1100.8 384.9h1.6v1.6h-1.6zM1106.5 384.9h1.6v1.6h-1.6zM1117 384.9h1.6v1.6h-1.6zM1128 384.9h1.6v1.6h-1.6zM1139.8 384.9h1.6v1.6h-1.6zM1150 384.9h1.6v1.6h-1.6zM1155.7 384.9h1.6v1.6h-1.6zM1100.8 391.2h1.6v1.6h-1.6zM1112.2 391.2h1.6v1.6h-1.6zM1123.1 391.2h1.6v1.6h-1.6zM1134.5 391.2h1.6v1.6h-1.6zM1146.3 391.2h1.6v1.6h-1.6zM1156.1 391.2h1.6v1.6h-1.6zM1100.8 400.2h1.6v1.6h-1.6zM1112.2 400.2h1.6v1.6h-1.6zM1123.1 400.2h1.6v1.6h-1.6zM1134.5 400.2h1.6v1.6h-1.6zM1146.3 400.2h1.6v1.6h-1.6zM1156.1 400.2h1.6v1.6h-1.6zM1100.8 409.9h1.6v1.6h-1.6zM1112.2 409.9h1.6v1.6h-1.6zM1123.1 409.9h1.6v1.6h-1.6zM1134.5 409.9h1.6v1.6h-1.6zM1146.3 409.9h1.6v1.6h-1.6zM1156.1 409.9h1.6v1.6h-1.6zM1100.8 419.9h1.6v1.6h-1.6zM1112.2 419.9h1.6v1.6h-1.6zM1123.1 419.9h1.6v1.6h-1.6zM1134.5 419.9h1.6v1.6h-1.6zM1146.3 419.9h1.6v1.6h-1.6zM1156.1 419.9h1.6v1.6h-1.6zM1100.8 425.8h1.6v1.6h-1.6zM1106.5 425.8h1.6v1.6h-1.6zM1117 425.8h1.6v1.6h-1.6zM1127.2 425.8h1.6v1.6h-1.6zM1137 425.8h1.6v1.6h-1.6zM1150 425.8h1.6v1.6h-1.6zM1155.7 425.8h1.6v1.6h-1.6zM1114.2 565.5h1.6v1.6h-1.6zM1123.2 565.5h1.6v1.6h-1.6zM1132.2 565.5h1.6v1.6h-1.6zM1141.2 565.5h1.6v1.6h-1.6zM1114.2 571.4h1.6v1.6h-1.6zM1123.2 571.4h1.6v1.6h-1.6zM1132.2 571.4h1.6v1.6h-1.6zM1141.2 571.4h1.6v1.6h-1.6zM1100.8 714.4h1.6v1.6h-1.6zM1106.5 714.4h1.6v1.6h-1.6zM1116.2 714.4h1.6v1.6h-1.6zM1127.2 714.4h1.6v1.6h-1.6zM1138.2 714.4h1.6v1.6h-1.6zM1150 714.4h1.6v1.6h-1.6zM1155.7 714.4h1.6v1.6h-1.6z" fill="#eef0f6" stroke="none"/>
<path d="M1112 418.5L1112 430.2" stroke="#e4e7ef" stroke-width="0.7"/>
<path d="M1122.5 418.5L1122.5 430.2" stroke="#e4e7ef" stroke-width="0.7"/>
<path d="M1134 418.5L1134 430.2" stroke="#e4e7ef" stroke-width="0.7"/>
<path d="M1146 418.5L1146 430.2" stroke="#e4e7ef" stroke-width="0.7"/>
<rect x="1098.4" y="712" width="60.8" height="6.5" fill="none" stroke="#e4e7ef" stroke-width="1.0"/>
<path d="M1098.4 718.5 L1098.4 794.4 L1241.9 794.4 L1241.9 783 L1238.7 779.5 L1245.5 774 L1238.7 768 L1241.9 764.5 L1241.9 739.8 L1159.2 739.8 L1159.2 718.5" fill="none" stroke="#e4e7ef" stroke-width="1.2"/>
<path d="M1185.63 781.38a1.07 1.07 0 1 0 2.14 0a1.07 1.07 0 1 0 -2.14 0zM1171.38 766.00a0.88 0.88 0 1 0 1.75 0a0.88 0.88 0 1 0 -1.75 0zM1195.02 763.79a0.84 0.84 0 1 0 1.68 0a0.84 0.84 0 1 0 -1.68 0zM1152.18 773.66a0.91 0.91 0 1 0 1.81 0a0.91 0.91 0 1 0 -1.81 0zM1233.65 790.80a1.07 1.07 0 1 0 2.14 0a1.07 1.07 0 1 0 -2.14 0zM1111.85 725.48a0.84 0.84 0 1 0 1.68 0a0.84 0.84 0 1 0 -1.68 0zM1149.57 771.39a1.07 1.07 0 1 0 2.13 0a1.07 1.07 0 1 0 -2.13 0zM1177.99 766.60a0.96 0.96 0 1 0 1.92 0a0.96 0.96 0 1 0 -1.92 0zM1103.88 758.39a0.81 0.81 0 1 0 1.62 0a0.81 0.81 0 1 0 -1.62 0zM1157.49 720.64a1.00 1.00 0 1 0 1.99 0a1.00 1.00 0 1 0 -1.99 0zM1148.26 731.61a1.08 1.08 0 1 0 2.16 0a1.08 1.08 0 1 0 -2.16 0zM1201.38 785.36a0.81 0.81 0 1 0 1.62 0a0.81 0.81 0 1 0 -1.62 0zM1199.97 770.99a0.93 0.93 0 1 0 1.87 0a0.93 0.93 0 1 0 -1.87 0zM1227.79 765.56a0.84 0.84 0 1 0 1.68 0a0.84 0.84 0 1 0 -1.68 0zM1199.84 755.08a0.81 0.81 0 1 0 1.62 0a0.81 0.81 0 1 0 -1.62 0zM1162.27 760.59a0.72 0.72 0 1 0 1.44 0a0.72 0.72 0 1 0 -1.44 0zM1190.46 744.87a0.73 0.73 0 1 0 1.46 0a0.73 0.73 0 1 0 -1.46 0zM1121.04 756.87a0.82 0.82 0 1 0 1.65 0a0.82 0.82 0 1 0 -1.65 0zM1173.46 754.56a0.96 0.96 0 1 0 1.92 0a0.96 0.96 0 1 0 -1.92 0zM1175.47 741.45a0.81 0.81 0 1 0 1.62 0a0.81 0.81 0 1 0 -1.62 0zM1196.55 751.27a0.94 0.94 0 1 0 1.88 0a0.94 0.94 0 1 0 -1.88 0zM1138.12 761.07a0.74 0.74 0 1 0 1.49 0a0.74 0.74 0 1 0 -1.49 0zM1204.98 749.26a0.85 0.85 0 1 0 1.71 0a0.85 0.85 0 1 0 -1.71 0zM1126.48 790.48a0.74 0.74 0 1 0 1.48 0a0.74 0.74 0 1 0 -1.48 0zM1214.22 771.36a1.10 1.10 0 1 0 2.19 0a1.10 1.10 0 1 0 -2.19 0zM1197.47 745.29a0.95 0.95 0 1 0 1.90 0a0.95 0.95 0 1 0 -1.90 0zM1218.52 769.09a0.80 0.80 0 1 0 1.61 0a0.80 0.80 0 1 0 -1.61 0zM1235.01 741.84a0.72 0.72 0 1 0 1.44 0a0.72 0.72 0 1 0 -1.44 0zM1136.75 757.56a0.73 0.73 0 1 0 1.46 0a0.73 0.73 0 1 0 -1.46 0zM1182.18 752.41a0.86 0.86 0 1 0 1.72 0a0.86 0.86 0 1 0 -1.72 0zM1204.95 765.08a1.13 1.13 0 1 0 2.25 0a1.13 1.13 0 1 0 -2.25 0zM1220.98 782.70a1.11 1.11 0 1 0 2.22 0a1.11 1.11 0 1 0 -2.22 0zM1218.57 755.48a0.75 0.75 0 1 0 1.50 0a0.75 0.75 0 1 0 -1.50 0zM1161.59 765.17a1.13 1.13 0 1 0 2.25 0a1.13 1.13 0 1 0 -2.25 0zM1191.02 761.86a0.76 0.76 0 1 0 1.51 0a0.76 0.76 0 1 0 -1.51 0zM1119.03 723.15a1.03 1.03 0 1 0 2.06 0a1.03 1.03 0 1 0 -2.06 0zM1231.40 763.32a0.76 0.76 0 1 0 1.51 0a0.76 0.76 0 1 0 -1.51 0zM1198.46 769.31a1.12 1.12 0 1 0 2.23 0a1.12 1.12 0 1 0 -2.23 0zM1122.29 737.00a0.85 0.85 0 1 0 1.71 0a0.85 0.85 0 1 0 -1.71 0zM1109.67 788.92a0.98 0.98 0 1 0 1.96 0a0.98 0.98 0 1 0 -1.96 0zM1114.07 754.84a0.76 0.76 0 1 0 1.52 0a0.76 0.76 0 1 0 -1.52 0zM1234.57 746.21a0.72 0.72 0 1 0 1.44 0a0.72 0.72 0 1 0 -1.44 0zM1202.91 744.10a0.99 0.99 0 1 0 1.99 0a0.99 0.99 0 1 0 -1.99 0zM1175.85 789.27a0.82 0.82 0 1 0 1.63 0a0.82 0.82 0 1 0 -1.63 0zM1134.20 769.13a0.74 0.74 0 1 0 1.49 0a0.74 0.74 0 1 0 -1.49 0zM1213.97 778.47a1.12 1.12 0 1 0 2.24 0a1.12 1.12 0 1 0 -2.24 0zM1216.06 762.31a0.91 0.91 0 1 0 1.83 0a0.91 0.91 0 1 0 -1.83 0zM1174.09 766.37a1.13 1.13 0 1 0 2.26 0a1.13 1.13 0 1 0 -2.26 0zM1120.40 756.05a0.91 0.91 0 1 0 1.82 0a0.91 0.91 0 1 0 -1.82 0zM1133.36 731.95a1.05 1.05 0 1 0 2.10 0a1.05 1.05 0 1 0 -2.10 0zM1181.26 770.25a0.83 0.83 0 1 0 1.66 0a0.83 0.83 0 1 0 -1.66 0zM1120.25 729.83a0.99 0.99 0 1 0 1.99 0a0.99 0.99 0 1 0 -1.99 0zM1217.94 761.65a1.05 1.05 0 1 0 2.10 0a1.05 1.05 0 1 0 -2.10 0zM1110.18 757.78a0.78 0.78 0 1 0 1.56 0a0.78 0.78 0 1 0 -1.56 0zM1134.61 786.97a0.95 0.95 0 1 0 1.90 0a0.95 0.95 0 1 0 -1.90 0zM1133.23 755.73a0.84 0.84 0 1 0 1.68 0a0.84 0.84 0 1 0 -1.68 0zM1210.52 748.98a1.07 1.07 0 1 0 2.15 0a1.07 1.07 0 1 0 -2.15 0zM1182.45 767.49a0.98 0.98 0 1 0 1.95 0a0.98 0.98 0 1 0 -1.95 0zM1210.13 764.77a0.81 0.81 0 1 0 1.63 0a0.81 0.81 0 1 0 -1.63 0zM1168.73 789.34a0.99 0.99 0 1 0 1.99 0a0.99 0.99 0 1 0 -1.99 0zM1176.74 758.67a0.75 0.75 0 1 0 1.50 0a0.75 0.75 0 1 0 -1.50 0zM1168.65 751.56a0.99 0.99 0 1 0 1.98 0a0.99 0.99 0 1 0 -1.98 0zM1149.69 730.50a1.08 1.08 0 1 0 2.15 0a1.08 1.08 0 1 0 -2.15 0zM1133.91 736.44a0.90 0.90 0 1 0 1.81 0a0.90 0.90 0 1 0 -1.81 0zM1231.73 770.99a0.78 0.78 0 1 0 1.56 0a0.78 0.78 0 1 0 -1.56 0zM1112.58 756.48a0.75 0.75 0 1 0 1.49 0a0.75 0.75 0 1 0 -1.49 0zM1130.77 728.26a1.08 1.08 0 1 0 2.17 0a1.08 1.08 0 1 0 -2.17 0zM1223.32 783.35a0.99 0.99 0 1 0 1.99 0a0.99 0.99 0 1 0 -1.99 0zM1104.40 740.05a1.07 1.07 0 1 0 2.14 0a1.07 1.07 0 1 0 -2.14 0zM1104.58 756.33a1.05 1.05 0 1 0 2.11 0a1.05 1.05 0 1 0 -2.11 0zM1134.95 745.29a0.99 0.99 0 1 0 1.97 0a0.99 0.99 0 1 0 -1.97 0zM1121.67 742.96a0.80 0.80 0 1 0 1.61 0a0.80 0.80 0 1 0 -1.61 0zM1162.91 745.63a1.02 1.02 0 1 0 2.05 0a1.02 1.02 0 1 0 -2.05 0zM1213.54 776.26a1.08 1.08 0 1 0 2.16 0a1.08 1.08 0 1 0 -2.16 0zM1134.34 767.90a1.05 1.05 0 1 0 2.10 0a1.05 1.05 0 1 0 -2.10 0zM1216.47 750.68a1.10 1.10 0 1 0 2.19 0a1.10 1.10 0 1 0 -2.19 0zM1149.36 784.86a1.00 1.00 0 1 0 2.00 0a1.00 1.00 0 1 0 -2.00 0zM1107.92 786.84a1.04 1.04 0 1 0 2.09 0a1.04 1.04 0 1 0 -2.09 0zM1175.44 789.81a1.09 1.09 0 1 0 2.18 0a1.09 1.09 0 1 0 -2.18 0zM1211.52 775.68a1.02 1.02 0 1 0 2.04 0a1.02 1.02 0 1 0 -2.04 0zM1115.52 762.74a0.72 0.72 0 1 0 1.45 0a0.72 0.72 0 1 0 -1.45 0zM1197.83 786.70a0.81 0.81 0 1 0 1.61 0a0.81 0.81 0 1 0 -1.61 0zM1177.61 740.88a1.13 1.13 0 1 0 2.26 0a1.13 1.13 0 1 0 -2.26 0zM1189.09 753.99a0.94 0.94 0 1 0 1.87 0a0.94 0.94 0 1 0 -1.87 0zM1115.84 763.84a0.77 0.77 0 1 0 1.55 0a0.77 0.77 0 1 0 -1.55 0z" fill="#e6e9f2" stroke="none"/>
<path d="M1114.4 709.6V741.5H1118.9" fill="none" stroke="#d5d8e2" stroke-width="2.8" stroke-linejoin="round"/>
<circle cx="1114.4" cy="709.6" r="1.5" fill="none" stroke="#e4e7ef" stroke-width="0.8"/>
<path d="M1143.3 709.6V741.5H1138.8" fill="none" stroke="#d5d8e2" stroke-width="2.8" stroke-linejoin="round"/>
<circle cx="1143.3" cy="709.6" r="1.5" fill="none" stroke="#e4e7ef" stroke-width="0.8"/>
<path d="M1052.5 745.5 L1066.5 744.5 L1082.5 743 L1098.4 742.9 L1098.4 760.5 L1086.5 761 L1072.5 763 L1051.5 763.7Z" fill="url(#earth)" stroke="none"/>
<path d="M1052.5 745.5 L1066.5 744.5 L1082.5 743 L1098.4 742.9" fill="none" stroke="#e4e7ef" stroke-width="1.1"/>
<path d="M1159.2 465.9 L1229.2 465.9" fill="none" stroke="#e4e7ef" stroke-width="1.0"/>
<path d="M1229.2 465.9L1223.7 467.1L1223.7 464.7Z" fill="#e4e7ef" stroke="none"/>
<text x="1172.3" y="464.5" font-size="9.8" textLength="37.9" lengthAdjust="spacingAndGlyphs">2' TO 18'</text>
<text x="1173.2" y="645.3" font-size="8.8" textLength="80.4" lengthAdjust="spacingAndGlyphs">MIN ⁷⁄₁₆" THICK WOOD</text>
<text x="1173.2" y="654.4" font-size="8.8" textLength="77.4" lengthAdjust="spacingAndGlyphs">STRUCTURAL PANEL</text>
<text x="1173.2" y="663.2" font-size="8.8" textLength="41.9" lengthAdjust="spacingAndGlyphs">SHEATHING</text>
<text x="1190.3" y="683.1" font-size="8.8" textLength="80.5" lengthAdjust="spacingAndGlyphs">TREATED SILLPLATE</text>
<path d="M1072.8 527.9 L1089 527.9 L1130.7 422" fill="none" stroke="#e4e7ef" stroke-width="1.0"/>
<path d="M1062.9 608.7 L1116.2 608.7 L1130.7 577.6" fill="none" stroke="#e4e7ef" stroke-width="1.0"/>
<path d="M1130.7 577.6L1129.5 583.1L1127.3 582.1Z" fill="#e4e7ef" stroke="none"/>
<path d="M1170.5 651.5 L1142.4 651.5 L1127.1 629.8" fill="none" stroke="#e4e7ef" stroke-width="1.0"/>
<path d="M1127.1 629.8L1131.3 633.6L1129.3 635Z" fill="#e4e7ef" stroke="none"/>
<path d="M1187.6 679.6 L1157.8 679.6 L1126.1 711.4" fill="none" stroke="#e4e7ef" stroke-width="1.0"/>
<path d="M1126.1 711.4L1129.1 706.7L1130.8 708.4Z" fill="#e4e7ef" stroke="none"/>
<rect x="1109" y="824.8" width="111.7" height="21.5" fill="none" stroke="#e4e7ef" stroke-width="1.0"/>
<text x="1116.2" y="839.9" font-size="10.9" textLength="81.9" lengthAdjust="spacingAndGlyphs">EXTERIOR VIEW</text>
<circle cx="756.5" cy="886.6" r="19.6" fill="none" stroke="#e4e7ef" stroke-width="1.1"/>
<path d="M736.9 886.6L776.1 886.6" stroke="#e4e7ef" stroke-width="1.0"/>
<text x="756.5" y="883.3" font-size="10.5" text-anchor="middle">905B</text>
<text x="756.5" y="897.8" font-size="10.5" text-anchor="middle">SD</text>
<text x="779" y="884.4" font-size="14.4" textLength="363.8" lengthAdjust="spacingAndGlyphs" class="ti2">CS-PF: CONTINUOUS PORTAL FRAME CONSTRUCTION</text>
<path d="M777 886.4L1143.5 886.4" stroke="#e4e7ef" stroke-width="1.0"/>
<text x="779.1" y="896.4" font-size="9.6" textLength="225.5" lengthAdjust="spacingAndGlyphs">DETAIL AND APPLICATION BASED ON NCRC FIGURE</text>
<text x="779.1" y="906.4" font-size="9.6" textLength="189.9" lengthAdjust="spacingAndGlyphs">R602.10.1 - PORTAL FRAME CONSTRUCTION</text>
<path d="M1551 304.1L1711 304.1" stroke="#e4e7ef" stroke-width="1.2"/>
<path d="M1551 310.3L1711 310.3" stroke="#e4e7ef" stroke-width="1.2"/>
<path d="M1551 316.2L1711 316.2" stroke="#e4e7ef" stroke-width="1.2"/>
<path d="M1551 335.7L1622.4 335.7" stroke="#e4e7ef" stroke-width="1.2"/>
<path d="M1551 341.5L1622.4 341.5" stroke="#e4e7ef" stroke-width="1.2"/>
<path d="M1572.7 316.2L1572.7 335.7" stroke="#e4e7ef" stroke-width="0.9"/>
<path d="M1579 316.2L1579 335.7" stroke="#e4e7ef" stroke-width="0.9"/>
<path d="M1551 376.4L1622.4 376.4" stroke="#e4e7ef" stroke-width="0.9"/>
<path d="M1622.4 304.1L1622.4 664.9" stroke="#e4e7ef" stroke-width="1.2"/>
<path d="M1628.2 437.4L1628.2 664.9" stroke="#e4e7ef" stroke-width="1.2"/>
<path d="M1634.2 437.4L1634.2 664.9" stroke="#e4e7ef" stroke-width="1.2"/>
<path d="M1639.6 316.2L1639.6 664.9" stroke="#e4e7ef" stroke-width="1.2"/>
<path d="M1694.4 316.2L1694.4 664.9" stroke="#e4e7ef" stroke-width="1.2"/>
<path d="M1700.2 316.2L1700.2 664.9" stroke="#e4e7ef" stroke-width="1.2"/>
<rect x="1622.8" y="305.6" width="5.5" height="131.8" rx="2.4" fill="url(#strap)" stroke="#e9e23a" stroke-width="0.9"/>
<rect x="1628.5" y="305.6" width="5.5" height="131.8" rx="2.4" fill="url(#strap)" stroke="#e9e23a" stroke-width="0.9"/>
<path d="M1634.2 402.1L1641 402.1" stroke="#e4e7ef" stroke-width="0.9"/>
<path d="M1634.2 424.8L1641 424.8" stroke="#e4e7ef" stroke-width="0.9"/>
<path d="M1628.2 447.5L1641 447.5" stroke="#e4e7ef" stroke-width="0.9"/>
<path d="M1628.2 470.2L1641 470.2" stroke="#e4e7ef" stroke-width="0.9"/>
<path d="M1628.2 492.9L1641 492.9" stroke="#e4e7ef" stroke-width="0.9"/>
<path d="M1628.2 515.6L1641 515.6" stroke="#e4e7ef" stroke-width="0.9"/>
<path d="M1628.2 538.3L1641 538.3" stroke="#e4e7ef" stroke-width="0.9"/>
<path d="M1628.2 561L1641 561" stroke="#e4e7ef" stroke-width="0.9"/>
<path d="M1628.2 583.7L1641 583.7" stroke="#e4e7ef" stroke-width="0.9"/>
<path d="M1628.2 606.4L1641 606.4" stroke="#e4e7ef" stroke-width="0.9"/>
<path d="M1628.2 629.1L1641 629.1" stroke="#e4e7ef" stroke-width="0.9"/>
<path d="M1628.2 651.8L1641 651.8" stroke="#e4e7ef" stroke-width="0.9"/>
<path d="M1628.2 545L1628.2 600" stroke="#e4e7ef" stroke-width="1.6"/>
<path d="M1649.5 376.4L1667.5 376.4" stroke="#e4e7ef" stroke-width="0.9"/>
<path d="M1646 437.4L1667.5 437.4" stroke="#e4e7ef" stroke-width="0.9"/>
<path d="M1665.8 372.5L1665.8 441.5" stroke="#e4e7ef" stroke-width="0.9"/>
<path d="M1662.6 379.6L1669 373.2" stroke="#e4e7ef" stroke-width="1.2"/>
<path d="M1662.6 440.6L1669 434.2" stroke="#e4e7ef" stroke-width="1.2"/>
<text transform="translate(1660.4 414.8) rotate(-90)" x="0" y="3.5" font-size="9.8" textLength="16.3" lengthAdjust="spacingAndGlyphs">20"</text>
<path d="M1619.7 664.9L1713.7 664.9" stroke="#e4e7ef" stroke-width="1.2"/>
<path d="M1619.7 670.7L1713.7 670.7" stroke="#e4e7ef" stroke-width="1.2"/>
<path d="M1619.7 664.9L1619.7 706.5" stroke="#e4e7ef" stroke-width="1.2"/>
<path d="M1655.38 680.11a0.79 0.79 0 1 0 1.58 0a0.79 0.79 0 1 0 -1.58 0zM1703.65 691.57a1.01 1.01 0 1 0 2.02 0a1.01 1.01 0 1 0 -2.02 0zM1670.80 685.16a1.03 1.03 0 1 0 2.05 0a1.03 1.03 0 1 0 -2.05 0zM1672.96 698.28a1.00 1.00 0 1 0 2.00 0a1.00 1.00 0 1 0 -2.00 0zM1697.09 687.00a0.79 0.79 0 1 0 1.57 0a0.79 0.79 0 1 0 -1.57 0zM1634.34 696.36a0.79 0.79 0 1 0 1.58 0a0.79 0.79 0 1 0 -1.58 0zM1680.33 692.99a0.74 0.74 0 1 0 1.49 0a0.74 0.74 0 1 0 -1.49 0zM1691.79 673.59a1.08 1.08 0 1 0 2.17 0a1.08 1.08 0 1 0 -2.17 0zM1697.01 679.62a1.03 1.03 0 1 0 2.05 0a1.03 1.03 0 1 0 -2.05 0zM1687.14 676.63a1.00 1.00 0 1 0 2.00 0a1.00 1.00 0 1 0 -2.00 0zM1631.75 702.64a1.01 1.01 0 1 0 2.02 0a1.01 1.01 0 1 0 -2.02 0zM1709.83 674.27a0.85 0.85 0 1 0 1.71 0a0.85 0.85 0 1 0 -1.71 0zM1677.11 692.57a0.80 0.80 0 1 0 1.59 0a0.80 0.80 0 1 0 -1.59 0zM1701.44 700.44a0.85 0.85 0 1 0 1.69 0a0.85 0.85 0 1 0 -1.69 0zM1633.89 694.53a0.89 0.89 0 1 0 1.78 0a0.89 0.89 0 1 0 -1.78 0zM1680.98 688.78a0.89 0.89 0 1 0 1.77 0a0.89 0.89 0 1 0 -1.77 0zM1622.56 676.95a0.91 0.91 0 1 0 1.83 0a0.91 0.91 0 1 0 -1.83 0zM1686.73 686.55a1.03 1.03 0 1 0 2.07 0a1.03 1.03 0 1 0 -2.07 0zM1669.63 701.55a1.00 1.00 0 1 0 1.99 0a1.00 1.00 0 1 0 -1.99 0zM1650.04 677.08a0.75 0.75 0 1 0 1.50 0a0.75 0.75 0 1 0 -1.50 0zM1624.02 700.96a1.09 1.09 0 1 0 2.17 0a1.09 1.09 0 1 0 -2.17 0zM1688.88 676.11a1.00 1.00 0 1 0 1.99 0a1.00 1.00 0 1 0 -1.99 0zM1632.12 701.84a1.00 1.00 0 1 0 1.99 0a1.00 1.00 0 1 0 -1.99 0zM1688.82 692.60a0.90 0.90 0 1 0 1.79 0a0.90 0.90 0 1 0 -1.79 0zM1697.88 704.24a0.82 0.82 0 1 0 1.64 0a0.82 0.82 0 1 0 -1.64 0zM1660.30 696.70a1.01 1.01 0 1 0 2.01 0a1.01 1.01 0 1 0 -2.01 0zM1657.74 687.35a1.13 1.13 0 1 0 2.25 0a1.13 1.13 0 1 0 -2.25 0zM1645.60 679.48a1.01 1.01 0 1 0 2.02 0a1.01 1.01 0 1 0 -2.02 0zM1645.85 702.12a0.86 0.86 0 1 0 1.71 0a0.86 0.86 0 1 0 -1.71 0zM1704.55 685.03a1.09 1.09 0 1 0 2.18 0a1.09 1.09 0 1 0 -2.18 0z" fill="#e6e9f2" stroke="none"/>
<path d="M1643.2 662V695.5H1647.5" fill="none" stroke="#d5d8e2" stroke-width="2.8" stroke-linejoin="round"/>
<circle cx="1643.2" cy="662.2" r="1.5" fill="none" stroke="#e4e7ef" stroke-width="0.8"/>
<text x="1418.6" y="383.4" font-size="9.8" textLength="109.4" lengthAdjust="spacingAndGlyphs">(2) SIMPSON CS16 STRAP</text>
<text x="1418.6" y="394.8" font-size="9.8" textLength="104.9" lengthAdjust="spacingAndGlyphs">WITH 8d NAILS. (EXTEND</text>
<text x="1418.6" y="405.3" font-size="9.8" textLength="113.4" lengthAdjust="spacingAndGlyphs">TO WALL TOP PLATE AND</text>
<text x="1418.6" y="416.1" font-size="9.8" textLength="83.9" lengthAdjust="spacingAndGlyphs">EXTEND 20" UNDER</text>
<text x="1418.6" y="427.3" font-size="9.8" textLength="40.2" lengthAdjust="spacingAndGlyphs">HEADER).</text>
<text x="1446.7" y="445.8" font-size="9.8" textLength="98.9" lengthAdjust="spacingAndGlyphs">ATTACH KING STUD TO</text>
<text x="1446.7" y="456.2" font-size="9.8" textLength="92.5" lengthAdjust="spacingAndGlyphs">SUPPORT STUDS WITH</text>
<text x="1446.7" y="467.1" font-size="9.8" textLength="83.5" lengthAdjust="spacingAndGlyphs">10d NAILS @ 8" OC.</text>
<text x="1432.5" y="493.9" font-size="9.8" textLength="114.5" lengthAdjust="spacingAndGlyphs">MIN (2)2X SUPPORT STUDS</text>
<text x="1432.5" y="505.1" font-size="9.8" textLength="102.2" lengthAdjust="spacingAndGlyphs">AND (1) KING STUD (SEE</text>
<text x="1432.5" y="515.6" font-size="9.8" textLength="107.6" lengthAdjust="spacingAndGlyphs">PLAN FOR STUD COLUMN</text>
<text x="1432.5" y="527.1" font-size="9.8" textLength="69.7" lengthAdjust="spacingAndGlyphs">REQUIREMENTS).</text>
<text x="1446.7" y="655.6" font-size="8.5" textLength="91.6" lengthAdjust="spacingAndGlyphs">½" ANCHOR BOLTS PER</text>
<text x="1446.7" y="665.2" font-size="8.5" textLength="94" lengthAdjust="spacingAndGlyphs">R403.1.6 WITH 2"x2"x³⁄₁₆"</text>
<text x="1446.7" y="673.7" font-size="8.5" textLength="67.6" lengthAdjust="spacingAndGlyphs">PLATE WASHERS.</text>
<path d="M1535.6 400.3 L1570.9 400.3 L1622.1 383.1" fill="none" stroke="#e4e7ef" stroke-width="1.0"/>
<path d="M1622.1 383.1L1617.3 386L1616.5 383.7Z" fill="#e4e7ef" stroke="none"/>
<path d="M1549.2 447 L1591.7 447 L1636 492.2" fill="none" stroke="#e4e7ef" stroke-width="1.0"/>
<path d="M1636 492.2L1631.3 489.1L1633 487.4Z" fill="#e4e7ef" stroke="none"/>
<path d="M1549.2 488.6 L1580.8 488.6 L1621.5 515.7" fill="none" stroke="#e4e7ef" stroke-width="1.0"/>
<path d="M1621.5 515.7L1616.3 513.7L1617.6 511.7Z" fill="#e4e7ef" stroke="none"/>
<path d="M1543.8 652.2 L1584.4 652.2 L1640.5 685.7" fill="none" stroke="#e4e7ef" stroke-width="1.0"/>
<path d="M1640.5 685.7L1635.2 683.9L1636.4 681.8Z" fill="#e4e7ef" stroke="none"/>
<circle cx="1456.6" cy="754.4" r="19" fill="none" stroke="#e4e7ef" stroke-width="1.1"/>
<path d="M1437.6 754.4L1475.6 754.4" stroke="#e4e7ef" stroke-width="1.0"/>
<text x="1456.6" y="751.1" font-size="10" text-anchor="middle">906</text>
<text x="1456.6" y="765.2" font-size="10" text-anchor="middle">SD</text>
<text x="1482.6" y="751.9" font-size="18.2" textLength="284.4" lengthAdjust="spacingAndGlyphs" class="ti">CS-PF: END CONDITION DETAIL</text>
<path d="M1482.6 754.8L1769 754.8" stroke="#e4e7ef" stroke-width="1.0"/>
<text x="1482.6" y="768.3" font-size="11" textLength="235.7" lengthAdjust="spacingAndGlyphs">(FOR USE WITH SINGLE CS-PF CONDITION)</text>
<text x="1483" y="782.1" font-size="11" textLength="295" lengthAdjust="spacingAndGlyphs">DETAIL AND APPLICATION BASED ON NCRC FIGURE</text>
<text x="1483" y="795.2" font-size="11" textLength="248" lengthAdjust="spacingAndGlyphs">R602.10.1 - PORTAL FRAME CONSTRUCTION</text>
<path d="M697.6 1028L697.6 1152.7" stroke="#e4e7ef" stroke-width="0.9"/>
<path d="M699.4 1028L699.4 1152.7" stroke="#e4e7ef" stroke-width="0.9"/>
<path d="M720.2 1028L720.2 1152.7" stroke="#e4e7ef" stroke-width="0.9"/>
<path d="M722.4 1028L722.4 1152.7" stroke="#e4e7ef" stroke-width="0.9"/>
<path d="M721.3 1028V1150" stroke="#e4e7ef" stroke-width="1.4" stroke-dasharray="0.7 1.4" fill="none" opacity="0.55"/>
<rect x="699.4" y="1141.9" width="24.4" height="5.4" fill="none" stroke="#e4e7ef" stroke-width="0.9"/>
<rect x="699.4" y="1147.3" width="24.4" height="5.4" fill="none" stroke="#e4e7ef" stroke-width="0.9"/>
<path d="M699.4 1141.9L723.8 1147.3" stroke="#e4e7ef" stroke-width="0.6"/>
<path d="M699.4 1147.3L723.8 1141.9" stroke="#e4e7ef" stroke-width="0.6"/>
<path d="M699.4 1147.3L723.8 1152.7" stroke="#e4e7ef" stroke-width="0.6"/>
<path d="M699.4 1152.7L723.8 1147.3" stroke="#e4e7ef" stroke-width="0.6"/>
<path d="M680.5 1143.5 L697 1140.5 L698 1148 L682 1151Z" fill="none" stroke="#e4e7ef" stroke-width="0.9"/>
<rect x="697.6" y="1152.7" width="5.4" height="121.2" fill="url(#cmu2)" stroke="#e4e7ef" stroke-width="0.6"/>
<rect x="721.6" y="1152.7" width="5" height="121.2" fill="url(#cmu2)" stroke="#e4e7ef" stroke-width="0.6"/>
<path d="M703 1152.9L721.6 1152.9" stroke="#e4e7ef" stroke-width="0.9"/>
<path d="M703 1182.6L721.6 1182.6" stroke="#e4e7ef" stroke-width="0.9"/>
<path d="M703 1184.5L721.6 1184.5" stroke="#e4e7ef" stroke-width="0.9"/>
<path d="M703 1213.3L721.6 1213.3" stroke="#e4e7ef" stroke-width="0.9"/>
<path d="M703 1215.2L721.6 1215.2" stroke="#e4e7ef" stroke-width="0.9"/>
<path d="M703 1243.2L721.6 1243.2" stroke="#e4e7ef" stroke-width="0.9"/>
<path d="M703 1245.1L721.6 1245.1" stroke="#e4e7ef" stroke-width="0.9"/>
<path d="M684 1153.6L684 1272" stroke="#e4e7ef" stroke-width="0.9"/>
<path d="M697 1153.6L697 1272" stroke="#e4e7ef" stroke-width="0.7"/>
<path d="M684 1153.6L697 1153.6" stroke="#e4e7ef" stroke-width="0.8"/>
<path d="M684 1161.4L697 1161.4" stroke="#e4e7ef" stroke-width="0.8"/>
<path d="M684 1163.5L697 1163.5" stroke="#e4e7ef" stroke-width="0.8"/>
<path d="M684 1171.3L697 1171.3" stroke="#e4e7ef" stroke-width="0.8"/>
<path d="M684 1173.4L697 1173.4" stroke="#e4e7ef" stroke-width="0.8"/>
<path d="M684 1181.2L697 1181.2" stroke="#e4e7ef" stroke-width="0.8"/>
<path d="M684 1183.3L697 1183.3" stroke="#e4e7ef" stroke-width="0.8"/>
<path d="M684 1191.1L697 1191.1" stroke="#e4e7ef" stroke-width="0.8"/>
<path d="M684 1193.2L697 1193.2" stroke="#e4e7ef" stroke-width="0.8"/>
<path d="M684 1201L697 1201" stroke="#e4e7ef" stroke-width="0.8"/>
<path d="M684 1203.1L697 1203.1" stroke="#e4e7ef" stroke-width="0.8"/>
<path d="M684 1210.9L697 1210.9" stroke="#e4e7ef" stroke-width="0.8"/>
<path d="M684 1213L697 1213" stroke="#e4e7ef" stroke-width="0.8"/>
<path d="M684 1220.8L697 1220.8" stroke="#e4e7ef" stroke-width="0.8"/>
<path d="M684 1222.9L697 1222.9" stroke="#e4e7ef" stroke-width="0.8"/>
<path d="M684 1230.7L697 1230.7" stroke="#e4e7ef" stroke-width="0.8"/>
<path d="M684 1232.8L697 1232.8" stroke="#e4e7ef" stroke-width="0.8"/>
<path d="M684 1240.6L697 1240.6" stroke="#e4e7ef" stroke-width="0.8"/>
<path d="M684 1242.7L697 1242.7" stroke="#e4e7ef" stroke-width="0.8"/>
<path d="M684 1250.5L697 1250.5" stroke="#e4e7ef" stroke-width="0.8"/>
<path d="M684 1252.6L697 1252.6" stroke="#e4e7ef" stroke-width="0.8"/>
<path d="M684 1260.4L697 1260.4" stroke="#e4e7ef" stroke-width="0.8"/>
<path d="M684 1262.5L697 1262.5" stroke="#e4e7ef" stroke-width="0.8"/>
<path d="M684 1270.3L697 1270.3" stroke="#e4e7ef" stroke-width="0.8"/>
<path d="M709.6 1138V1291" stroke="#c9cdd9" stroke-width="2.4" fill="none"/>
<ellipse cx="709.6" cy="1292.2" rx="2.4" ry="1.5" fill="#dfe2ec"/>
<circle cx="709.6" cy="1138.5" r="1.5" fill="none" stroke="#e4e7ef" stroke-width="0.8"/>
<path d="M705.5 1141L713.7 1141" stroke="#e4e7ef" stroke-width="1.2"/>
<path d="M681.3 1274.5 L742.8 1274.5 L742.8 1304.9 L666.3 1304.9" fill="none" stroke="#e4e7ef" stroke-width="1.0"/>
<path d="M681.3 1274.5L681.3 1304.9" stroke="#e4e7ef" stroke-width="0.9"/>
<path d="M666.3 1274.5L681.3 1274.5" stroke="#e4e7ef" stroke-width="0.9"/>
<path d="M666.3 1274.5V1304.9" stroke="#e4e7ef" stroke-width="0.9" stroke-dasharray="9 6" fill="none"/>
<path d="M712.5 1297.5 L714.9 1297 L714.1 1299.5Z" fill="none" stroke="#e4e7ef" stroke-width="0.6"/>
<path d="M738.2 1291.5 L740.6 1291 L739.8 1293.5Z" fill="none" stroke="#e4e7ef" stroke-width="0.6"/>
<path d="M706.5 1302.5 L708.9 1302 L708.1 1304.5Z" fill="none" stroke="#e4e7ef" stroke-width="0.6"/>
<text x="779" y="1037.9" font-size="8.8" textLength="77.7" lengthAdjust="spacingAndGlyphs">2x6 WALL FRAMING</text>
<text x="779" y="1058.7" font-size="8.8" textLength="94" lengthAdjust="spacingAndGlyphs">OPTIONAL WALL PLATE.</text>
<text x="779" y="1067.9" font-size="8.8" textLength="97.6" lengthAdjust="spacingAndGlyphs">MAY COUNTERSINK BOLT</text>
<text x="779" y="1077.3" font-size="8.8" textLength="79.5" lengthAdjust="spacingAndGlyphs">IN OPTIONAL PLATE.</text>
<text x="779.9" y="1095.7" font-size="8.8" textLength="80.1" lengthAdjust="spacingAndGlyphs">TREATED SILLPLATE</text>
<text x="779" y="1157.2" font-size="8.8" textLength="27.1" lengthAdjust="spacingAndGlyphs">8" CMU</text>
<text x="779" y="1181.3" font-size="8.8" textLength="98.2" lengthAdjust="spacingAndGlyphs">⅝" THREADED ROD WITH</text>
<text x="779" y="1190.3" font-size="8.8" textLength="66" lengthAdjust="spacingAndGlyphs">2" CUT WASHERS</text>
<text x="779" y="1199.9" font-size="8.8" textLength="85" lengthAdjust="spacingAndGlyphs">OR SIMPSON "SET OR</text>
<text x="779" y="1209.3" font-size="8.8" textLength="63.3" lengthAdjust="spacingAndGlyphs">SET-XP" EPOXY.</text>
<text x="779" y="1246.9" font-size="8.8" textLength="79.2" lengthAdjust="spacingAndGlyphs">CONCRETE FOOTING</text>
<text x="779" y="1256.9" font-size="8.8" textLength="48.3" lengthAdjust="spacingAndGlyphs">(SEE PLANS)</text>
<text x="779.5" y="1286.1" font-size="8.8" textLength="89.9" lengthAdjust="spacingAndGlyphs">3" CONC. COVER (TYP)</text>
<text x="605.7" y="1142.7" font-size="8.8" textLength="67.1" lengthAdjust="spacingAndGlyphs">OPTIONAL BRICK</text>
<text x="605.7" y="1152.3" font-size="8.8" textLength="45.4" lengthAdjust="spacingAndGlyphs">(OR OTHER)</text>
<path d="M774.4 1034.7 L750 1034.7 L714.8 1058.7" fill="none" stroke="#e4e7ef" stroke-width="1.0"/>
<path d="M774.4 1055.5 L756.4 1055.5 L716.6 1141" fill="none" stroke="#e4e7ef" stroke-width="1.0"/>
<path d="M774.4 1093.1 L764.5 1093.1 L722.9 1147.3" fill="none" stroke="#e4e7ef" stroke-width="1.0"/>
<path d="M774.4 1154 L766.3 1154 L727.4 1199.8" fill="none" stroke="#e4e7ef" stroke-width="1.0"/>
<path d="M727.4 1199.8L730 1194.8L731.9 1196.4Z" fill="#e4e7ef" stroke="none"/>
<path d="M774.4 1190.4 L768.1 1190.4 L711.2 1232.3" fill="none" stroke="#e4e7ef" stroke-width="1.0"/>
<path d="M711.2 1232.3L714.9 1228.1L716.3 1230Z" fill="#e4e7ef" stroke="none"/>
<path d="M774.4 1249.5 L764.5 1249.5 L739.2 1273" fill="none" stroke="#e4e7ef" stroke-width="1.0"/>
<path d="M739.2 1273L742.4 1268.4L744 1270.1Z" fill="#e4e7ef" stroke="none"/>
<path d="M773.5 1282.3 L763.6 1282.3 L713.9 1294.9" fill="none" stroke="#e4e7ef" stroke-width="1.0"/>
<path d="M713.9 1294.9L718.9 1292.4L719.5 1294.7Z" fill="#e4e7ef" stroke="none"/>
<path d="M659.6 1147.9 L669.6 1147.9 L684 1179.9" fill="none" stroke="#e4e7ef" stroke-width="1.0"/>
<path d="M684 1179.9L680.6 1175.4L682.8 1174.4Z" fill="#e4e7ef" stroke="none"/>
<path d="M860.3 1034.3 L928 1034 L1007.1 1083.1" fill="none" stroke="#e4e7ef" stroke-width="1.0"/>
<path d="M1007.1 1083.1L1001.8 1081.2L1003.1 1079.2Z" fill="#e4e7ef" stroke="none"/>
<path d="M877.5 1054.7 L933.5 1054.2 L1000 1140.1" fill="none" stroke="#e4e7ef" stroke-width="1.0"/>
<path d="M1000 1140.1L995.7 1136.5L997.6 1135Z" fill="#e4e7ef" stroke="none"/>
<path d="M867.6 1092.7 L917.2 1092.7 L961.5 1145.5" fill="none" stroke="#e4e7ef" stroke-width="1.0"/>
<path d="M961.5 1145.5L957 1142.1L958.9 1140.5Z" fill="#e4e7ef" stroke="none"/>
<path d="M814.2 1154.6 L892 1154.6 L946.2 1196.1" fill="none" stroke="#e4e7ef" stroke-width="1.0"/>
<path d="M946.2 1196.1L941.1 1193.7L942.6 1191.8Z" fill="#e4e7ef" stroke="none"/>
<path d="M875.7 1190.7 L905.6 1190.7 L967 1231.4" fill="none" stroke="#e4e7ef" stroke-width="1.0"/>
<path d="M967 1231.4L961.8 1229.4L963.1 1227.4Z" fill="#e4e7ef" stroke="none"/>
<path d="M861.2 1249.5 L890.2 1249.5 L930.9 1280.2" fill="none" stroke="#e4e7ef" stroke-width="1.0"/>
<path d="M930.9 1280.2L925.8 1277.8L927.2 1275.9Z" fill="#e4e7ef" stroke="none"/>
<path d="M901.9 1250.4 L946.2 1247.7" fill="none" stroke="#e4e7ef" stroke-width="1.0"/>
<text x="688" y="1332.8" font-size="11" textLength="44" lengthAdjust="spacingAndGlyphs">SECTION</text>
<path d="M688 1334.4L732 1334.4" stroke="#e4e7ef" stroke-width="0.9"/>
<path d="M947.4 1005.4L947.4 1022.5" stroke="#e4e7ef" stroke-width="0.9"/>
<path d="M1122.4 1005.4L1122.4 1022.5" stroke="#e4e7ef" stroke-width="0.9"/>
<path d="M943.5 1008.2L1126.5 1008.2" stroke="#e4e7ef" stroke-width="0.9"/>
<path d="M944.2 1011.4L950.6 1005" stroke="#e4e7ef" stroke-width="1.2"/>
<path d="M1119.2 1011.4L1125.6 1005" stroke="#e4e7ef" stroke-width="1.2"/>
<text x="1015.7" y="1006.8" font-size="9.6" textLength="38.4" lengthAdjust="spacingAndGlyphs">48" MAX</text>
<path d="M947.4 1027L947.4 1141.9" stroke="#e4e7ef" stroke-width="0.9"/>
<path d="M953.3 1027L953.3 1141.9" stroke="#e4e7ef" stroke-width="0.9"/>
<path d="M1008.5 1027L1008.5 1141.9" stroke="#e4e7ef" stroke-width="0.9"/>
<path d="M1014.3 1027L1014.3 1141.9" stroke="#e4e7ef" stroke-width="0.9"/>
<path d="M1068.7 1027L1068.7 1141.9" stroke="#e4e7ef" stroke-width="0.9"/>
<path d="M1074.5 1027L1074.5 1141.9" stroke="#e4e7ef" stroke-width="0.9"/>
<path d="M1116.5 1027L1116.5 1141.9" stroke="#e4e7ef" stroke-width="0.9"/>
<path d="M1122 1027L1122 1273" stroke="#e4e7ef" stroke-width="0.9"/>
<path d="M1127.5 1027L1127.5 1240.5" stroke="#e4e7ef" stroke-width="0.9"/>
<path d="M947.4 1141.9L1122 1141.9" stroke="#e4e7ef" stroke-width="1.2"/>
<path d="M947.4 1147.3L1122 1147.3" stroke="#e4e7ef" stroke-width="1.2"/>
<path d="M947.4 1152.7L1122 1152.7" stroke="#e4e7ef" stroke-width="1.2"/>
<path d="M947.4 1141.9L947.4 1273" stroke="#e4e7ef" stroke-width="1.2"/>
<path d="M947.4 1181.7L1122 1181.7" stroke="#e4e7ef" stroke-width="0.9"/>
<path d="M947.4 1183.9L1122 1183.9" stroke="#e4e7ef" stroke-width="0.9"/>
<path d="M947.4 1212.4L1122 1212.4" stroke="#e4e7ef" stroke-width="0.9"/>
<path d="M947.4 1214.6L1122 1214.6" stroke="#e4e7ef" stroke-width="0.9"/>
<path d="M947.4 1242.2L1122 1242.2" stroke="#e4e7ef" stroke-width="0.9"/>
<path d="M947.4 1244.4L1122 1244.4" stroke="#e4e7ef" stroke-width="0.9"/>
<path d="M947.4 1273L1122 1273" stroke="#e4e7ef" stroke-width="0.9"/>
<path d="M1004.9 1152.7L1004.9 1181.7" stroke="#e4e7ef" stroke-width="0.9"/>
<path d="M1007 1152.7L1007 1181.7" stroke="#e4e7ef" stroke-width="0.9"/>
<path d="M1063.7 1152.7L1063.7 1181.7" stroke="#e4e7ef" stroke-width="0.9"/>
<path d="M1065.8 1152.7L1065.8 1181.7" stroke="#e4e7ef" stroke-width="0.9"/>
<path d="M975 1183.9L975 1212.4" stroke="#e4e7ef" stroke-width="0.9"/>
<path d="M977.1 1183.9L977.1 1212.4" stroke="#e4e7ef" stroke-width="0.9"/>
<path d="M1034.2 1183.9L1034.2 1212.4" stroke="#e4e7ef" stroke-width="0.9"/>
<path d="M1036.3 1183.9L1036.3 1212.4" stroke="#e4e7ef" stroke-width="0.9"/>
<path d="M1093.9 1183.9L1093.9 1212.4" stroke="#e4e7ef" stroke-width="0.9"/>
<path d="M1096 1183.9L1096 1212.4" stroke="#e4e7ef" stroke-width="0.9"/>
<path d="M1004.9 1214.6L1004.9 1242.2" stroke="#e4e7ef" stroke-width="0.9"/>
<path d="M1007 1214.6L1007 1242.2" stroke="#e4e7ef" stroke-width="0.9"/>
<path d="M1063.7 1214.6L1063.7 1242.2" stroke="#e4e7ef" stroke-width="0.9"/>
<path d="M1065.8 1214.6L1065.8 1242.2" stroke="#e4e7ef" stroke-width="0.9"/>
<path d="M975 1244.4L975 1273" stroke="#e4e7ef" stroke-width="0.9"/>
<path d="M977.1 1244.4L977.1 1273" stroke="#e4e7ef" stroke-width="0.9"/>
<path d="M1034.2 1244.4L1034.2 1273" stroke="#e4e7ef" stroke-width="0.9"/>
<path d="M1036.3 1244.4L1036.3 1273" stroke="#e4e7ef" stroke-width="0.9"/>
<path d="M1093.9 1244.4L1093.9 1273" stroke="#e4e7ef" stroke-width="0.9"/>
<path d="M1096 1244.4L1096 1273" stroke="#e4e7ef" stroke-width="0.9"/>
<path d="M970 1138V1291" stroke="#c9cdd9" stroke-width="2.6" fill="none"/>
<ellipse cx="970" cy="1292.2" rx="2.6" ry="1.6" fill="#dfe2ec"/>
<circle cx="970" cy="1138.6" r="1.5" fill="none" stroke="#e4e7ef" stroke-width="0.8"/>
<path d="M965.8 1141L974.2 1141" stroke="#e4e7ef" stroke-width="1.2"/>
<path d="M1101.1 1138V1291" stroke="#c9cdd9" stroke-width="2.6" fill="none"/>
<ellipse cx="1101.1" cy="1292.2" rx="2.6" ry="1.6" fill="#dfe2ec"/>
<circle cx="1101.1" cy="1138.6" r="1.5" fill="none" stroke="#e4e7ef" stroke-width="0.8"/>
<path d="M1096.9 1141L1105.3 1141" stroke="#e4e7ef" stroke-width="1.2"/>
<rect x="932.5" y="1274.5" width="273.1" height="30.4" fill="none" stroke="#e4e7ef" stroke-width="1.0"/>
<path d="M1205.6 1210L1205.6 1315.7" stroke="#e4e7ef" stroke-width="1.0"/>
<path d="M974.5 1280.1 L977.3 1279.7 L976.5 1276.9Z" fill="none" stroke="#e4e7ef" stroke-width="0.6"/>
<path d="M1049 1279.6 L1051.8 1279.2 L1051 1276.4Z" fill="none" stroke="#e4e7ef" stroke-width="0.6"/>
<path d="M1058 1278.6 L1060.8 1278.2 L1060 1275.4Z" fill="none" stroke="#e4e7ef" stroke-width="0.6"/>
<path d="M1056 1284.6 L1058.8 1284.2 L1058 1281.4Z" fill="none" stroke="#e4e7ef" stroke-width="0.6"/>
<path d="M1098.5 1281.6 L1101.3 1281.2 L1100.5 1278.4Z" fill="none" stroke="#e4e7ef" stroke-width="0.6"/>
<path d="M1110 1288.6 L1112.8 1288.2 L1112 1285.4Z" fill="none" stroke="#e4e7ef" stroke-width="0.6"/>
<path d="M1138 1286.6 L1140.8 1286.2 L1140 1283.4Z" fill="none" stroke="#e4e7ef" stroke-width="0.6"/>
<path d="M1180 1290.1 L1182.8 1289.7 L1182 1286.9Z" fill="none" stroke="#e4e7ef" stroke-width="0.6"/>
<path d="M1170 1297.6 L1172.8 1297.2 L1172 1294.4Z" fill="none" stroke="#e4e7ef" stroke-width="0.6"/>
<path d="M1008 1302.6 L1010.8 1302.2 L1010 1299.4Z" fill="none" stroke="#e4e7ef" stroke-width="0.6"/>
<path d="M1179 1243.1 L1181.8 1242.7 L1181 1239.9Z" fill="none" stroke="#e4e7ef" stroke-width="0.6"/>
<path d="M1152 1247.6 L1154.8 1247.2 L1154 1244.4Z" fill="none" stroke="#e4e7ef" stroke-width="0.6"/>
<path d="M1171 1247.6 L1173.8 1247.2 L1173 1244.4Z" fill="none" stroke="#e4e7ef" stroke-width="0.6"/>
<path d="M1130 1245.6 L1132.8 1245.2 L1132 1242.4Z" fill="none" stroke="#e4e7ef" stroke-width="0.6"/>
<path d="M1106 1279.6 L1108.8 1279.2 L1108 1276.4Z" fill="none" stroke="#e4e7ef" stroke-width="0.6"/>
<path d="M1205.6 1240.5 L1124.2 1240.5 L1124.2 1254.9 L1205.6 1254.9" fill="none" stroke="#e4e7ef" stroke-width="1.0"/>
<rect x="1124.2" y="1254.9" width="81.4" height="18.1" fill="#686d80" stroke="#e4e7ef" stroke-width="0.8"/>
<ellipse cx="1129" cy="1259.1" rx="2.6" ry="1.7" fill="#24293c" stroke="#dfe2ec" stroke-width="0.7" transform="rotate(-18 1129 1259.1)"/>
<ellipse cx="1129" cy="1265.1" rx="3.4" ry="2.6" fill="#24293c" stroke="#dfe2ec" stroke-width="0.7" transform="rotate(-18 1129 1265.1)"/>
<ellipse cx="1129" cy="1270.5" rx="2.6" ry="1.5" fill="#24293c" stroke="#dfe2ec" stroke-width="0.7" transform="rotate(-18 1129 1270.5)"/>
<ellipse cx="1141.6" cy="1259.1" rx="2.6" ry="1.7" fill="#24293c" stroke="#dfe2ec" stroke-width="0.7" transform="rotate(-18 1141.6 1259.1)"/>
<ellipse cx="1137.6" cy="1265.1" rx="3.4" ry="2.6" fill="#24293c" stroke="#dfe2ec" stroke-width="0.7" transform="rotate(-18 1137.6 1265.1)"/>
<ellipse cx="1141.6" cy="1270.5" rx="2.6" ry="1.5" fill="#24293c" stroke="#dfe2ec" stroke-width="0.7" transform="rotate(-18 1141.6 1270.5)"/>
<ellipse cx="1147.7" cy="1259.1" rx="2.6" ry="1.7" fill="#24293c" stroke="#dfe2ec" stroke-width="0.7" transform="rotate(-18 1147.7 1259.1)"/>
<ellipse cx="1146.2" cy="1265.1" rx="3.4" ry="2.6" fill="#24293c" stroke="#dfe2ec" stroke-width="0.7" transform="rotate(-18 1146.2 1265.1)"/>
<ellipse cx="1147.7" cy="1270.5" rx="2.6" ry="1.5" fill="#24293c" stroke="#dfe2ec" stroke-width="0.7" transform="rotate(-18 1147.7 1270.5)"/>
<ellipse cx="1154.8" cy="1259.1" rx="2.6" ry="1.7" fill="#24293c" stroke="#dfe2ec" stroke-width="0.7" transform="rotate(-18 1154.8 1259.1)"/>
<ellipse cx="1154.8" cy="1265.1" rx="3.4" ry="2.6" fill="#24293c" stroke="#dfe2ec" stroke-width="0.7" transform="rotate(-18 1154.8 1265.1)"/>
<ellipse cx="1154.8" cy="1270.5" rx="2.6" ry="1.5" fill="#24293c" stroke="#dfe2ec" stroke-width="0.7" transform="rotate(-18 1154.8 1270.5)"/>
<ellipse cx="1167.4" cy="1259.1" rx="2.6" ry="1.7" fill="#24293c" stroke="#dfe2ec" stroke-width="0.7" transform="rotate(-18 1167.4 1259.1)"/>
<ellipse cx="1163.4" cy="1265.1" rx="3.4" ry="2.6" fill="#24293c" stroke="#dfe2ec" stroke-width="0.7" transform="rotate(-18 1163.4 1265.1)"/>
<ellipse cx="1167.4" cy="1270.5" rx="2.6" ry="1.5" fill="#24293c" stroke="#dfe2ec" stroke-width="0.7" transform="rotate(-18 1167.4 1270.5)"/>
<ellipse cx="1173.5" cy="1259.1" rx="2.6" ry="1.7" fill="#24293c" stroke="#dfe2ec" stroke-width="0.7" transform="rotate(-18 1173.5 1259.1)"/>
<ellipse cx="1172" cy="1265.1" rx="3.4" ry="2.6" fill="#24293c" stroke="#dfe2ec" stroke-width="0.7" transform="rotate(-18 1172 1265.1)"/>
<ellipse cx="1173.5" cy="1270.5" rx="2.6" ry="1.5" fill="#24293c" stroke="#dfe2ec" stroke-width="0.7" transform="rotate(-18 1173.5 1270.5)"/>
<ellipse cx="1180.6" cy="1259.1" rx="2.6" ry="1.7" fill="#24293c" stroke="#dfe2ec" stroke-width="0.7" transform="rotate(-18 1180.6 1259.1)"/>
<ellipse cx="1180.6" cy="1265.1" rx="3.4" ry="2.6" fill="#24293c" stroke="#dfe2ec" stroke-width="0.7" transform="rotate(-18 1180.6 1265.1)"/>
<ellipse cx="1180.6" cy="1270.5" rx="2.6" ry="1.5" fill="#24293c" stroke="#dfe2ec" stroke-width="0.7" transform="rotate(-18 1180.6 1270.5)"/>
<ellipse cx="1193.2" cy="1259.1" rx="2.6" ry="1.7" fill="#24293c" stroke="#dfe2ec" stroke-width="0.7" transform="rotate(-18 1193.2 1259.1)"/>
<ellipse cx="1189.2" cy="1265.1" rx="3.4" ry="2.6" fill="#24293c" stroke="#dfe2ec" stroke-width="0.7" transform="rotate(-18 1189.2 1265.1)"/>
<ellipse cx="1193.2" cy="1270.5" rx="2.6" ry="1.5" fill="#24293c" stroke="#dfe2ec" stroke-width="0.7" transform="rotate(-18 1193.2 1270.5)"/>
<ellipse cx="1199.3" cy="1259.1" rx="2.6" ry="1.7" fill="#24293c" stroke="#dfe2ec" stroke-width="0.7" transform="rotate(-18 1199.3 1259.1)"/>
<ellipse cx="1197.8" cy="1265.1" rx="3.4" ry="2.6" fill="#24293c" stroke="#dfe2ec" stroke-width="0.7" transform="rotate(-18 1197.8 1265.1)"/>
<ellipse cx="1199.3" cy="1270.5" rx="2.6" ry="1.5" fill="#24293c" stroke="#dfe2ec" stroke-width="0.7" transform="rotate(-18 1199.3 1270.5)"/>
<path d="M1136.9 1153.3L1234.5 1153.3" stroke="#e4e7ef" stroke-width="0.9"/>
<path d="M1205.6 1275.7L1234.5 1275.7" stroke="#e4e7ef" stroke-width="0.9"/>
<path d="M1230.9 1149.5L1230.9 1279.5" stroke="#e4e7ef" stroke-width="0.9"/>
<path d="M1227.7 1156.5L1234.1 1150.1" stroke="#e4e7ef" stroke-width="1.2"/>
<path d="M1227.7 1278.9L1234.1 1272.5" stroke="#e4e7ef" stroke-width="1.2"/>
<text transform="translate(1225.5 1233.2) rotate(-90)" x="0" y="3.4" font-size="9.6" textLength="38" lengthAdjust="spacingAndGlyphs">48" MAX</text>
<text x="1170.3" y="1099" font-size="8.8" textLength="58.8" lengthAdjust="spacingAndGlyphs">GARAGE SLAB</text>
<text x="1170.3" y="1108.6" font-size="8.8" textLength="72.9" lengthAdjust="spacingAndGlyphs">OVER GRAVEL AS</text>
<text x="1170.3" y="1118" font-size="8.8" textLength="41.1" lengthAdjust="spacingAndGlyphs">SPECIFIED</text>
<path d="M1164.9 1095.8 L1139.6 1095.8 L1155 1238.6" fill="none" stroke="#e4e7ef" stroke-width="1.0"/>
<path d="M1155 1238.6L1153.2 1233.3L1155.6 1233Z" fill="#e4e7ef" stroke="none"/>
<text x="1025" y="1332.8" font-size="11" textLength="58.5" lengthAdjust="spacingAndGlyphs">ELEVATION</text>
<path d="M1025 1334.4L1083.5 1334.4" stroke="#e4e7ef" stroke-width="0.9"/>
<circle cx="752.7" cy="1380.5" r="19" fill="none" stroke="#e4e7ef" stroke-width="1.1"/>
<path d="M733.7 1380.5L771.7 1380.5" stroke="#e4e7ef" stroke-width="1.0"/>
<text x="752.7" y="1377.2" font-size="10" text-anchor="middle">907</text>
<text x="752.7" y="1391.3" font-size="10" text-anchor="middle">SD</text>
<text x="779" y="1378.2" font-size="17.8" textLength="322.6" lengthAdjust="spacingAndGlyphs" class="ti">GARAGE 'WING WALL' REINFORCING</text>
<path d="M779 1380.4L1102.2 1380.4" stroke="#e4e7ef" stroke-width="1.0"/>
<text x="779" y="1394" font-size="12" textLength="162.7" lengthAdjust="spacingAndGlyphs">PER IRC FIGURE R602.10.4.3</text>
<path d="M1511.2 1006 L1542.1 1019.7 L1651.5 990.5 L1640.3 986.1" fill="none" stroke="#e4e7ef" stroke-width="0.9"/>
<path d="M1511.2 1006 L1530.1 1000.8" fill="none" stroke="#e4e7ef" stroke-width="0.9"/>
<path d="M1511.2 1006 L1512.3 1010 L1514.6 1014.5 L1513.5 1021.4 L1516.9 1027.1 L1517.5 1031.7 L1524.4 1035.7 L1527.8 1040.3 L1538.1 1045.5 L1543.8 1044.6 L1551.9 1048.9 L1558.7 1050.1 L1566.2 1054.9 L1572.5 1052.3 L1581.6 1050.6 L1587.4 1045.5 L1593.7 1041.8 L1600 1041.5 L1608 1037.5 L1616 1034.6 L1623.4 1032.9 L1633.2 1029.4 L1636.6 1022.6 L1642.3 1016.8 L1648.1 1010 L1651.7 1003.1 L1650.9 997.4 L1651.5 990.5" fill="none" stroke="#e4e7ef" stroke-width="0.9"/>
<path d="M1542.1 1019.7 L1541 1024.3 L1542.1 1028.9 L1545 1033.4 L1547.3 1039.2 L1554.1 1044.6 L1558.7 1050.1" fill="none" stroke="#e4e7ef" stroke-width="0.9"/>
<path d="M1530.1 993.9 L1567 984.4" fill="none" stroke="#e4e7ef" stroke-width="0.9"/>
<path d="M1546.1 1001.4 L1589.4 991.6" fill="none" stroke="#e4e7ef" stroke-width="0.9"/>
<path d="M1554.1 1015.7 L1590.8 1007.1" fill="none" stroke="#e4e7ef" stroke-width="0.9"/>
<path d="M1604.5 1003.1 L1639.5 992.6 L1639.5 983.4 L1604.5 990.7" fill="none" stroke="#e4e7ef" stroke-width="0.9"/>
<path d="M1639.5 983.4 L1631.5 979 L1619.4 977 L1604.5 973.9" fill="none" stroke="#e4e7ef" stroke-width="0.9"/>
<path d="M1554.1 1006 L1554.1 1015.7" fill="none" stroke="#e4e7ef" stroke-width="0.9"/>
<path d="M1530.1 993.9 L1530.1 1003.7 L1536.4 1008.2 L1538.1 1003.7 L1546.1 1001.4 L1546.1 1010.5 L1554.1 1015.7" fill="none" stroke="#e4e7ef" stroke-width="0.9"/>
<path d="M1530.1 993.9 L1538.1 997.4 L1546.1 1001.4" fill="none" stroke="#e4e7ef" stroke-width="0.7"/>
<path d="M1530.8 995.6 L1536.3 997.7" fill="none" stroke="#e4e7ef" stroke-width="0.6"/>
<path d="M1538.6 999.1 L1545.7 1000.5" fill="none" stroke="#e4e7ef" stroke-width="0.6"/>
<path d="M1546.6 1002.5 L1553.7 1004.6" fill="none" stroke="#e4e7ef" stroke-width="0.6"/>
<path d="M1530.8 997.3 L1536.3 999.3" fill="none" stroke="#e4e7ef" stroke-width="0.6"/>
<path d="M1538.6 1000.7 L1545.7 1002.1" fill="none" stroke="#e4e7ef" stroke-width="0.6"/>
<path d="M1546.6 1004.1 L1553.7 1006.2" fill="none" stroke="#e4e7ef" stroke-width="0.6"/>
<path d="M1530.8 998.9 L1536.3 1000.9" fill="none" stroke="#e4e7ef" stroke-width="0.6"/>
<path d="M1538.6 1002.3 L1545.7 1003.7" fill="none" stroke="#e4e7ef" stroke-width="0.6"/>
<path d="M1546.6 1005.7 L1553.7 1007.8" fill="none" stroke="#e4e7ef" stroke-width="0.6"/>
<path d="M1530.8 1000.5 L1536.3 1002.5" fill="none" stroke="#e4e7ef" stroke-width="0.6"/>
<path d="M1538.6 1003.9 L1545.7 1005.3" fill="none" stroke="#e4e7ef" stroke-width="0.6"/>
<path d="M1546.6 1007.3 L1553.7 1009.4" fill="none" stroke="#e4e7ef" stroke-width="0.6"/>
<path d="M1530.8 1002.1 L1536.3 1004.1" fill="none" stroke="#e4e7ef" stroke-width="0.6"/>
<path d="M1538.6 1005.5 L1545.7 1006.9" fill="none" stroke="#e4e7ef" stroke-width="0.6"/>
<path d="M1546.6 1008.9 L1553.7 1011" fill="none" stroke="#e4e7ef" stroke-width="0.6"/>
<path d="M1530.8 1003.7 L1536.3 1005.7" fill="none" stroke="#e4e7ef" stroke-width="0.6"/>
<path d="M1538.6 1007.1 L1545.7 1008.5" fill="none" stroke="#e4e7ef" stroke-width="0.6"/>
<path d="M1546.6 1010.5 L1553.7 1012.6" fill="none" stroke="#e4e7ef" stroke-width="0.6"/>
<path d="M1530.8 1005.3 L1536.3 1007.3" fill="none" stroke="#e4e7ef" stroke-width="0.6"/>
<path d="M1538.6 1008.7 L1545.7 1010.1" fill="none" stroke="#e4e7ef" stroke-width="0.6"/>
<path d="M1546.6 1012.1 L1553.7 1014.2" fill="none" stroke="#e4e7ef" stroke-width="0.6"/>
<path d="M1530.8 1006.9 L1536.3 1008.9" fill="none" stroke="#e4e7ef" stroke-width="0.6"/>
<path d="M1538.6 1010.3 L1545.7 1011.7" fill="none" stroke="#e4e7ef" stroke-width="0.6"/>
<path d="M1546.6 1013.7 L1553.7 1015.8" fill="none" stroke="#e4e7ef" stroke-width="0.6"/>
<path d="M1530.8 1008.5 L1536.3 1010.5" fill="none" stroke="#e4e7ef" stroke-width="0.6"/>
<path d="M1538.6 1011.9 L1545.7 1013.3" fill="none" stroke="#e4e7ef" stroke-width="0.6"/>
<path d="M1546.6 1015.3 L1553.7 1017.4" fill="none" stroke="#e4e7ef" stroke-width="0.6"/>
<path d="M1530.8 1010.1 L1536.3 1012.1" fill="none" stroke="#e4e7ef" stroke-width="0.6"/>
<path d="M1538.6 1013.5 L1545.7 1014.9" fill="none" stroke="#e4e7ef" stroke-width="0.6"/>
<path d="M1546.6 1017 L1553.7 1019" fill="none" stroke="#e4e7ef" stroke-width="0.6"/>
<path d="M1530.8 1011.7 L1536.3 1013.7" fill="none" stroke="#e4e7ef" stroke-width="0.6"/>
<path d="M1538.6 1015.1 L1545.7 1016.5" fill="none" stroke="#e4e7ef" stroke-width="0.6"/>
<path d="M1546.6 1018.6 L1553.7 1020.6" fill="none" stroke="#e4e7ef" stroke-width="0.6"/>
<path d="M1530.8 1013.3 L1536.3 1015.3" fill="none" stroke="#e4e7ef" stroke-width="0.6"/>
<path d="M1538.6 1016.7 L1545.7 1018.1" fill="none" stroke="#e4e7ef" stroke-width="0.6"/>
<path d="M1546.6 1020.2 L1553.7 1022.2" fill="none" stroke="#e4e7ef" stroke-width="0.6"/>
<path d="M1567 984.4 L1567 916 L1580.5 914.3 L1581.6 919.5 L1591.4 922.3 L1591.4 1006.5" fill="none" stroke="#e4e7ef" stroke-width="1.0"/>
<path d="M1591.4 922.3 L1604 919.5 L1604 1003.7" fill="none" stroke="#e4e7ef" stroke-width="1.0"/>
<path d="M1567 984.4 L1589.4 991.6" fill="none" stroke="#e4e7ef" stroke-width="0.9"/>
<path d="M1580.5 914.3 L1590.8 913.5 L1591.9 917.2 L1604 919.5" fill="none" stroke="#e4e7ef" stroke-width="0.8"/>
<path d="M1581.6 919.5 L1583 916 L1584.6 919.5 L1586.2 916 L1587.8 919.5 L1589.4 916 L1590.8 919.5" fill="none" stroke="#e4e7ef" stroke-width="0.7"/>
<path d="M1593.7 1003.7 L1593.7 953.8 L1596 950.4 L1601.7 950.4 L1603.4 953.8 L1603.4 1003.7" fill="none" stroke="#e4e7ef" stroke-width="0.9"/>
<path d="M1595.4 1007.1 L1595.4 984.8 L1597.7 984.8 L1597.7 1007.1" fill="none" stroke="#e4e7ef" stroke-width="0.8"/>
<path d="M1598.8 1006.5 L1598.8 984.8 L1600.9 984.8 L1600.9 1006.5" fill="none" stroke="#e4e7ef" stroke-width="0.8"/>
<circle cx="1597.1" cy="955.9" r="1.3" fill="none" stroke="#e4e7ef" stroke-width="0.8"/>
<circle cx="1600.5" cy="961.1" r="1.3" fill="none" stroke="#e4e7ef" stroke-width="0.8"/>
<circle cx="1595.6" cy="967" r="1.3" fill="none" stroke="#e4e7ef" stroke-width="0.8"/>
<circle cx="1601.7" cy="972.4" r="1.3" fill="none" stroke="#e4e7ef" stroke-width="0.8"/>
<path d="M1590.8 1007.1 L1603.4 1004.5" fill="none" stroke="#e4e7ef" stroke-width="0.9"/>
<path d="M1587.4 1003.1 L1588.5 1006 L1593.1 1006.3" fill="none" stroke="#e4e7ef" stroke-width="0.7"/>
<path d="M1598.59 1019.11a0.89 0.89 0 1 0 1.77 0a0.89 0.89 0 1 0 -1.77 0zM1617.50 1002.34a0.86 0.86 0 1 0 1.72 0a0.86 0.86 0 1 0 -1.72 0zM1604.79 1006.36a0.99 0.99 0 1 0 1.98 0a0.99 0.99 0 1 0 -1.98 0zM1573.99 1048.27a0.70 0.70 0 1 0 1.41 0a0.70 0.70 0 1 0 -1.41 0zM1629.19 1026.50a0.94 0.94 0 1 0 1.88 0a0.94 0.94 0 1 0 -1.88 0zM1619.35 1029.76a0.87 0.87 0 1 0 1.75 0a0.87 0.87 0 1 0 -1.75 0zM1571.24 1040.37a0.78 0.78 0 1 0 1.57 0a0.78 0.78 0 1 0 -1.57 0zM1611.46 1016.48a0.96 0.96 0 1 0 1.91 0a0.96 0.96 0 1 0 -1.91 0zM1605.25 1020.46a0.72 0.72 0 1 0 1.44 0a0.72 0.72 0 1 0 -1.44 0zM1619.88 1014.38a0.86 0.86 0 1 0 1.71 0a0.86 0.86 0 1 0 -1.71 0zM1560.65 1050.13a1.02 1.02 0 1 0 2.05 0a1.02 1.02 0 1 0 -2.05 0zM1650.17 1000.06a0.66 0.66 0 1 0 1.33 0a0.66 0.66 0 1 0 -1.33 0zM1571.90 1028.49a0.68 0.68 0 1 0 1.37 0a0.68 0.68 0 1 0 -1.37 0zM1589.48 1043.32a0.71 0.71 0 1 0 1.41 0a0.71 0.71 0 1 0 -1.41 0zM1568.92 1025.83a0.80 0.80 0 1 0 1.59 0a0.80 0.80 0 1 0 -1.59 0zM1567.24 1035.39a0.81 0.81 0 1 0 1.63 0a0.81 0.81 0 1 0 -1.63 0zM1571.12 1021.94a0.74 0.74 0 1 0 1.49 0a0.74 0.74 0 1 0 -1.49 0zM1549.75 1038.37a1.04 1.04 0 1 0 2.08 0a1.04 1.04 0 1 0 -2.08 0z" fill="#e6e9f2" stroke="none"/>
<path d="M1516.19 1013.59a0.64 0.64 0 1 0 1.27 0a0.64 0.64 0 1 0 -1.27 0zM1537.78 1029.95a0.81 0.81 0 1 0 1.61 0a0.81 0.81 0 1 0 -1.61 0zM1542.21 1042.85a0.82 0.82 0 1 0 1.64 0a0.82 0.82 0 1 0 -1.64 0zM1511.96 1007.56a0.56 0.56 0 1 0 1.11 0a0.56 0.56 0 1 0 -1.11 0z" fill="#e6e9f2" stroke="none"/>
<text x="1559.6" y="1076.6" font-size="8.4" textLength="57.8" lengthAdjust="spacingAndGlyphs">SIMPSON SSP</text>
<path d="M1559.6 1077.6L1617.6 1077.6" stroke="#e4e7ef" stroke-width="0.7"/>
<path d="M1559.6 1078.7L1617.6 1078.7" stroke="#e4e7ef" stroke-width="0.7"/>
<rect x="1384.3" y="1119.8" width="115.4" height="197.3" fill="none" stroke="#e4e7ef" stroke-width="1.0"/>
<path d="M1407.8 1119.8L1407.8 1252" stroke="#e4e7ef" stroke-width="1.2"/>
<path d="M1425.3 1119.8L1425.3 1194.4" stroke="#e4e7ef" stroke-width="1.2"/>
<path d="M1409 1132L1409 1194" stroke="#e4e7ef" stroke-width="0.7"/>
<rect x="1407.8" y="1186.4" width="17.5" height="8" fill="none" stroke="#e4e7ef" stroke-width="0.9"/>
<path d="M1407.8 1186.4L1425.3 1194.4" stroke="#e4e7ef" stroke-width="0.6"/>
<path d="M1407.8 1194.4L1425.3 1186.4" stroke="#e4e7ef" stroke-width="0.6"/>
<path d="M1407.8 1194.4L1499.7 1194.4" stroke="#e4e7ef" stroke-width="1.2"/>
<path d="M1407.8 1199L1499.7 1199" stroke="#e4e7ef" stroke-width="1.2"/>
<rect x="1407.8" y="1199" width="7.6" height="45.7" fill="none" stroke="#e4e7ef" stroke-width="0.9"/>
<path d="M1407.8 1199L1415.4 1244.7" stroke="#e4e7ef" stroke-width="0.6"/>
<path d="M1415.4 1199L1407.8 1244.7" stroke="#e4e7ef" stroke-width="0.6"/>
<path d="M1407.8 1244.7L1499.7 1244.7" stroke="#e4e7ef" stroke-width="1.2"/>
<rect x="1407.8" y="1244.7" width="27.8" height="7.3" fill="none" stroke="#e4e7ef" stroke-width="0.9"/>
<path d="M1407.8 1244.7L1435.6 1252" stroke="#e4e7ef" stroke-width="0.6"/>
<path d="M1407.8 1252L1435.6 1244.7" stroke="#e4e7ef" stroke-width="0.6"/>
<rect x="1407.8" y="1252" width="7" height="38.5" fill="url(#xh2)" stroke="#e4e7ef" stroke-width="0.9"/>
<rect x="1439.6" y="1252" width="7" height="38.5" fill="url(#xh2)" stroke="#e4e7ef" stroke-width="0.9"/>
<path d="M1407.8 1290.5L1446.6 1290.5" stroke="#e4e7ef" stroke-width="1.2"/>
<path d="M1426.12 1273.43a1.02 1.02 0 1 0 2.03 0a1.02 1.02 0 1 0 -2.03 0zM1422.42 1265.41a0.97 0.97 0 1 0 1.94 0a0.97 0.97 0 1 0 -1.94 0zM1426.10 1266.72a0.85 0.85 0 1 0 1.71 0a0.85 0.85 0 1 0 -1.71 0zM1422.65 1260.20a0.94 0.94 0 1 0 1.89 0a0.94 0.94 0 1 0 -1.89 0zM1434.77 1277.92a0.95 0.95 0 1 0 1.89 0a0.95 0.95 0 1 0 -1.89 0zM1423.01 1269.24a0.75 0.75 0 1 0 1.50 0a0.75 0.75 0 1 0 -1.50 0zM1431.36 1264.58a0.81 0.81 0 1 0 1.61 0a0.81 0.81 0 1 0 -1.61 0zM1436.50 1266.07a1.08 1.08 0 1 0 2.17 0a1.08 1.08 0 1 0 -2.17 0zM1428.84 1280.38a0.94 0.94 0 1 0 1.89 0a0.94 0.94 0 1 0 -1.89 0zM1419.55 1278.74a0.79 0.79 0 1 0 1.59 0a0.79 0.79 0 1 0 -1.59 0zM1424.55 1258.94a0.71 0.71 0 1 0 1.43 0a0.71 0.71 0 1 0 -1.43 0zM1423.56 1254.98a0.85 0.85 0 1 0 1.69 0a0.85 0.85 0 1 0 -1.69 0zM1433.92 1288.45a0.86 0.86 0 1 0 1.72 0a0.86 0.86 0 1 0 -1.72 0zM1418.10 1266.27a0.72 0.72 0 1 0 1.43 0a0.72 0.72 0 1 0 -1.43 0z" fill="#e6e9f2" stroke="none"/>
<path d="M1421.7 1242V1285.5H1428" fill="none" stroke="#d5d8e2" stroke-width="3.4" stroke-linejoin="round"/>
<rect x="1419.3" y="1240.2" width="4.8" height="3.2" fill="none" stroke="#e4e7ef" stroke-width="0.8"/>
<text x="1399.8" y="1334.2" font-size="9.4" textLength="36.8" lengthAdjust="spacingAndGlyphs">SECTION</text>
<path d="M1399.8 1335.4L1436.8 1335.4" stroke="#e4e7ef" stroke-width="0.8"/>
<rect x="1689.7" y="1098.3" width="128.9" height="204.9" fill="none" stroke="#e4e7ef" stroke-width="1.0"/>
<path d="M1748.3 1098.3L1748.3 1243" stroke="#e4e7ef" stroke-width="1.2"/>
<path d="M1756.7 1098.3L1756.7 1244.7" stroke="#e4e7ef" stroke-width="1.2"/>
<path d="M1689.7 1194.4L1818.6 1194.4" stroke="#e4e7ef" stroke-width="1.2"/>
<path d="M1689.7 1199L1818.6 1199" stroke="#e4e7ef" stroke-width="1.2"/>
<path d="M1689.7 1244.7L1818.6 1244.7" stroke="#e4e7ef" stroke-width="1.2"/>
<path d="M1689.7 1252L1818.6 1252" stroke="#e4e7ef" stroke-width="1.2"/>
<path d="M1689.7 1290.2L1818.6 1290.2" stroke="#e4e7ef" stroke-width="1.2"/>
<path d="M1689.7 1293.8L1818.6 1293.8" stroke="#e4e7ef" stroke-width="1.2"/>
<path d="M1714.9 1252L1714.9 1290.2" stroke="#e4e7ef" stroke-width="0.9"/>
<path d="M1717.5 1252L1717.5 1290.2" stroke="#e4e7ef" stroke-width="0.9"/>
<path d="M1795.7 1252L1795.7 1290.2" stroke="#e4e7ef" stroke-width="0.9"/>
<path d="M1798 1252L1798 1290.2" stroke="#e4e7ef" stroke-width="0.9"/>
<path d="M1752.7 1293.8L1752.7 1303.2" stroke="#e4e7ef" stroke-width="0.9"/>
<path d="M1755.3 1293.8L1755.3 1303.2" stroke="#e4e7ef" stroke-width="0.9"/>
<rect x="1749.2" y="1132.7" width="6.8" height="110.7" rx="3" fill="#24293c" stroke="#e4e7ef" stroke-width="1"/>
<path d="M1750.8 1136.1h1.2v1.2h-1.2zM1753.2 1142.1h1.2v1.2h-1.2zM1750.8 1148.2h1.2v1.2h-1.2zM1753.2 1154.2h1.2v1.2h-1.2zM1750.8 1160.3h1.2v1.2h-1.2zM1753.2 1166.3h1.2v1.2h-1.2zM1750.8 1172.3h1.2v1.2h-1.2zM1753.2 1178.4h1.2v1.2h-1.2zM1750.8 1184.4h1.2v1.2h-1.2zM1753.2 1190.5h1.2v1.2h-1.2zM1750.8 1196.5h1.2v1.2h-1.2zM1753.2 1202.6h1.2v1.2h-1.2zM1750.8 1208.6h1.2v1.2h-1.2zM1753.2 1214.6h1.2v1.2h-1.2zM1750.8 1220.7h1.2v1.2h-1.2zM1753.2 1226.7h1.2v1.2h-1.2zM1750.8 1232.8h1.2v1.2h-1.2zM1753.2 1238.8h1.2v1.2h-1.2z" fill="#e6e9f2" stroke="none"/>
<rect x="1732.2" y="1218.3" width="7.2" height="26.4" rx="3" fill="#24293c" stroke="#e4e7ef" stroke-width="1"/>
<path d="M1733.8 1221.7h1.2v1.2h-1.2zM1736.6 1225.4h1.2v1.2h-1.2zM1733.8 1229.1h1.2v1.2h-1.2zM1736.6 1232.7h1.2v1.2h-1.2zM1733.8 1236.4h1.2v1.2h-1.2zM1736.6 1240.1h1.2v1.2h-1.2z" fill="#e6e9f2" stroke="none"/>
<rect x="1733.2" y="1238" width="5.2" height="14" fill="#b9bdcb" stroke="#e4e7ef" stroke-width="0.6"/>
<rect x="1766" y="1218.3" width="7.2" height="26.4" rx="3" fill="#24293c" stroke="#e4e7ef" stroke-width="1"/>
<path d="M1767.6 1221.7h1.2v1.2h-1.2zM1770.4 1225.4h1.2v1.2h-1.2zM1767.6 1229.1h1.2v1.2h-1.2zM1770.4 1232.7h1.2v1.2h-1.2zM1767.6 1236.4h1.2v1.2h-1.2zM1770.4 1240.1h1.2v1.2h-1.2z" fill="#e6e9f2" stroke="none"/>
<rect x="1767" y="1238" width="5.2" height="14" fill="#b9bdcb" stroke="#e4e7ef" stroke-width="0.6"/>
<path d="M1745 1243V1285.5H1752" fill="none" stroke="#d5d8e2" stroke-width="3.4" stroke-linejoin="round"/>
<rect x="1742.4" y="1240.6" width="5.2" height="3.4" fill="none" stroke="#e4e7ef" stroke-width="0.8"/>
<path d="M1722 1312.7L1722 1333.6" stroke="#e4e7ef" stroke-width="0.9"/>
<path d="M1783.8 1312.7L1783.8 1333.6" stroke="#e4e7ef" stroke-width="0.9"/>
<path d="M1718 1330.3L1731 1330.3" stroke="#e4e7ef" stroke-width="0.9"/>
<path d="M1774 1330.3L1788 1330.3" stroke="#e4e7ef" stroke-width="0.9"/>
<path d="M1718.8 1333.5L1725.2 1327.1" stroke="#e4e7ef" stroke-width="1.2"/>
<path d="M1780.6 1333.5L1787 1327.1" stroke="#e4e7ef" stroke-width="1.2"/>
<text x="1752.3" y="1326.2" font-size="9.7" text-anchor="middle">12"</text>
<text x="1752.3" y="1338.7" font-size="9.7" text-anchor="middle">C/L OF</text>
<text x="1752.3" y="1350.7" font-size="9.7" text-anchor="middle">STRAP</text>
<text x="1728.7" y="1363.3" font-size="8.6" textLength="48.5" lengthAdjust="spacingAndGlyphs">ELEVATION</text>
<path d="M1728.7 1364.3L1777.4 1364.3" stroke="#e4e7ef" stroke-width="0.8"/>
<text x="1519.6" y="1101.8" font-size="9.7" textLength="59.7" lengthAdjust="spacingAndGlyphs">HD LOCATION</text>
<text x="1519.6" y="1113.3" font-size="9.7" textLength="57.3" lengthAdjust="spacingAndGlyphs">(1) STUD (MIN)</text>
<text x="1515.6" y="1146.2" font-size="9.7" textLength="133.9" lengthAdjust="spacingAndGlyphs">SIMPSON CS16 STRAP (EXTEND</text>
<text x="1515.6" y="1156.7" font-size="9.7" textLength="123.9" lengthAdjust="spacingAndGlyphs">TO SILL PLATE AND EXTEND</text>
<text x="1515.6" y="1168" font-size="9.7" textLength="53.9" lengthAdjust="spacingAndGlyphs">12" ON STUD)</text>
<text x="1516.6" y="1211.8" font-size="9.7" textLength="97.1" lengthAdjust="spacingAndGlyphs">SIMPSON SSP IN EACH</text>
<text x="1516.6" y="1222.2" font-size="9.7" textLength="68.8" lengthAdjust="spacingAndGlyphs">SIDE OF STRAP</text>
<text x="1516.6" y="1251.2" font-size="9.7" textLength="89.5" lengthAdjust="spacingAndGlyphs">2x6 TRT SILL PLATE</text>
<text x="1519.2" y="1290.4" font-size="9.7" textLength="135.7" lengthAdjust="spacingAndGlyphs">LOCATE ½" DIAMETER ANCHOR</text>
<text x="1519.2" y="1300.7" font-size="9.7" textLength="128.7" lengthAdjust="spacingAndGlyphs">BOLT (OR ½" THREADED ROD</text>
<text x="1519.2" y="1311.3" font-size="9.7" textLength="148.6" lengthAdjust="spacingAndGlyphs">EMBEDDED 5" INTO SOLID FILLED</text>
<text x="1519.2" y="1321.8" font-size="9.7" textLength="143.2" lengthAdjust="spacingAndGlyphs">MASONRY WITH SIMPSON SET-XP</text>
<text x="1519.2" y="1332.6" font-size="9.7" textLength="145.2" lengthAdjust="spacingAndGlyphs">EPOXY (OR EQUAL) WITHIN 12" OF</text>
<text x="1519.2" y="1343.7" font-size="9.7" textLength="126.7" lengthAdjust="spacingAndGlyphs">CENTERLINE OF CS16 STRAP.</text>
<path d="M1515.2 1098.3 L1502.3 1098.3 L1426.7 1132.1" fill="none" stroke="#e4e7ef" stroke-width="1.0"/>
<path d="M1426.7 1132.1L1431.2 1128.8L1432.2 1131Z" fill="#e4e7ef" stroke="none"/>
<path d="M1590.8 1098.3 L1666.4 1098.3 L1747 1113.4" fill="none" stroke="#e4e7ef" stroke-width="1.0"/>
<path d="M1747 1113.4L1741.4 1113.6L1741.8 1111.2Z" fill="#e4e7ef" stroke="none"/>
<path d="M1513.2 1141.7 L1409.8 1141.7" fill="none" stroke="#e4e7ef" stroke-width="1.0"/>
<path d="M1409.8 1141.7L1415.3 1140.5L1415.3 1142.9Z" fill="#e4e7ef" stroke="none"/>
<path d="M1650.5 1141.7 L1747 1141.7" fill="none" stroke="#e4e7ef" stroke-width="1.0"/>
<path d="M1747 1141.7L1741.5 1142.9L1741.5 1140.5Z" fill="#e4e7ef" stroke="none"/>
<path d="M1512.8 1208.3 L1444.6 1208.3 L1409.8 1223.2" fill="none" stroke="#e4e7ef" stroke-width="1.0"/>
<path d="M1620.6 1208.3 L1686.3 1208.3 L1731 1222.8" fill="none" stroke="#e4e7ef" stroke-width="1.0"/>
<path d="M1731 1222.8L1725.4 1222.2L1726.1 1220Z" fill="#e4e7ef" stroke="none"/>
<path d="M1513.2 1248.7 L1437.6 1248.7" fill="none" stroke="#e4e7ef" stroke-width="1.0"/>
<path d="M1437.6 1248.7L1443.1 1247.5L1443.1 1249.9Z" fill="#e4e7ef" stroke="none"/>
<path d="M1617.7 1248.7 L1699.2 1248.7" fill="none" stroke="#e4e7ef" stroke-width="1.0"/>
<path d="M1699.2 1248.7L1693.7 1249.9L1693.7 1247.5Z" fill="#e4e7ef" stroke="none"/>
<path d="M1515.2 1311.2 L1499.3 1311.2 L1426.7 1260" fill="none" stroke="#e4e7ef" stroke-width="1.0"/>
<path d="M1426.7 1260L1431.9 1262.2L1430.5 1264.2Z" fill="#e4e7ef" stroke="none"/>
<path d="M1671.4 1311.2 L1693.3 1311.2 L1743.6 1267.6" fill="none" stroke="#e4e7ef" stroke-width="1.0"/>
<path d="M1743.6 1267.6L1740.2 1272.1L1738.7 1270.3Z" fill="#e4e7ef" stroke="none"/>
<circle cx="1450.5" cy="1379.5" r="15.3" fill="none" stroke="#e4e7ef" stroke-width="1.1"/>
<text x="1450.5" y="1384.9" font-size="14.5" text-anchor="middle" class="ti2">HD</text>
<text x="1471.6" y="1377.2" font-size="14" textLength="158.8" lengthAdjust="spacingAndGlyphs" class="ti2">'HD' HOLD-DOWN DETAIL</text>
<path d="M1471.6 1378.4L1631.6 1378.4" stroke="#e4e7ef" stroke-width="1.0"/>
<text x="1471.6" y="1392.6" font-size="10.2" textLength="105.8" lengthAdjust="spacingAndGlyphs">(OVER WOOD FLOOR)</text>
<text x="1472" y="1411.2" font-size="9.2" textLength="292.2" lengthAdjust="spacingAndGlyphs">NOTE: ALTERNATE HD HOLD-DOWN DEVICES OR SYSTEMS MAY BE</text>
<text x="1472" y="1421.5" font-size="9.2" textLength="292.9" lengthAdjust="spacingAndGlyphs">USED TO MEET THE CODE REQUIRED 800 LB CAPACITY IN LIEU OF</text>
<text x="1472" y="1432" font-size="9.2" textLength="87.3" lengthAdjust="spacingAndGlyphs">THE ABOVE DETAIL.</text>
<g id="notes">
<text x="1865.1" y="198.7" font-size="13.6" textLength="137.9" lengthAdjust="spacingAndGlyphs">STRUCTURAL NOTES</text>
<path d="M1865.1 199.9L2003.4 199.9" stroke="#e4e7ef" stroke-width="0.8"/>
<path d="M1865.1 201.3L2003.4 201.3" stroke="#e4e7ef" stroke-width="0.8"/>
<text x="1865.1" y="211.7" font-size="8.6" textLength="87.2" lengthAdjust="spacingAndGlyphs">Wind: 115-120 mph</text>
<text x="1865.1" y="232.8" font-size="9.1">1.</text>
<text x="1883.8" y="232.8" font-size="9.1" textLength="216" lengthAdjust="spacingAndGlyphs">ENGINEER'S SEAL APPLIES ONLY TO STRUCTURAL</text>
<text x="1883.8" y="243.2" font-size="9.1" textLength="251.3" lengthAdjust="spacingAndGlyphs">COMPONENTS INCLUDING ROOF RAFTERS, HIPS, VALLEYS,</text>
<text x="1883.8" y="253.7" font-size="9.1" textLength="257.5" lengthAdjust="spacingAndGlyphs">RIDGES, FLOORS, WALLS, BEAMS AND HEADERS, COLUMNS,</text>
<text x="1883.8" y="264.1" font-size="9.1" textLength="274.8" lengthAdjust="spacingAndGlyphs">CANTILEVERS, OFFSET LOAD BEARING WALLS, PIER &amp; GIRDER</text>
<text x="1883.8" y="274.9" font-size="9.1" textLength="254.4" lengthAdjust="spacingAndGlyphs">SYSTEM, FOOTING, AND PILING SYSTEM.  ENGINEER'S SEAL</text>
<text x="1883.8" y="285.4" font-size="9.1" textLength="216.7" lengthAdjust="spacingAndGlyphs">DOES NOT CERTIFY DIMENSIONAL ACCURACY OR</text>
<text x="1883.8" y="296" font-size="9.1" textLength="245.2" lengthAdjust="spacingAndGlyphs">ARCHITECTURAL LAYOUT INCLUDING ROOF SYSTEM. ALL</text>
<text x="1883.8" y="306.6" font-size="9.1" textLength="273.3" lengthAdjust="spacingAndGlyphs">REQUIREMENTS FOR PROFESSIONAL CERTIFICATION SHALL BE</text>
<text x="1883.8" y="317" font-size="9.1" textLength="277.4" lengthAdjust="spacingAndGlyphs">PROVIDED BY THE APPROPRIATE PROFESSIONAL.  ENGINEERS,</text>
<text x="1883.8" y="327.5" font-size="9.1" textLength="247.5" lengthAdjust="spacingAndGlyphs">P.A. CERTIFIES ONLY THE STRUCTURAL COMPONENTS AS</text>
<text x="1883.8" y="337.9" font-size="9.1" textLength="103" lengthAdjust="spacingAndGlyphs">SPECIFICALLY STATED.</text>
<text x="1865.1" y="359.3" font-size="9.1">2.</text>
<text x="1883.8" y="359.3" font-size="9.1" textLength="234.9" lengthAdjust="spacingAndGlyphs">ALL CONSTRUCTION SHALL CONFORM TO THE LATEST</text>
<text x="1883.8" y="369.7" font-size="9.1" textLength="249" lengthAdjust="spacingAndGlyphs">REQUIREMENTS OF RESIDENTIAL CODE, PLUS ALL LOCAL</text>
<text x="1883.8" y="380.2" font-size="9.1" textLength="273.3" lengthAdjust="spacingAndGlyphs">CODES AND REGULATIONS. THE STRUCTURAL ENGINEER IS NOT</text>
<text x="1883.8" y="390.8" font-size="9.1" textLength="239" lengthAdjust="spacingAndGlyphs">RESPONSIBLE FOR, AND WILL NOT HAVE CONTROL OF,</text>
<text x="1883.8" y="401.2" font-size="9.1" textLength="272.1" lengthAdjust="spacingAndGlyphs">CONSTRUCTION MEANS, METHODS, TECHNIQUES, SEQUENCES OR</text>
<text x="1883.8" y="411.9" font-size="9.1" textLength="275.9" lengthAdjust="spacingAndGlyphs">PROCEDURES, OR FOR SAFETY PRECAUTIONS AND PROGRAMS</text>
<text x="1883.8" y="422.3" font-size="9.1" textLength="271.3" lengthAdjust="spacingAndGlyphs">IN CONNECTION WITH THE CONSTRUCTION WORK, NOR WILL THE</text>
<text x="1883.8" y="432.8" font-size="9.1" textLength="272.1" lengthAdjust="spacingAndGlyphs">ENGINEER BE RESPONSIBLE FOR THE CONTRACTOR'S FAILURE</text>
<text x="1883.8" y="443.3" font-size="9.1" textLength="261.3" lengthAdjust="spacingAndGlyphs">TO CARRY OUT THE CONSTRUCTION WORK IN ACCORDANCE</text>
<text x="1883.8" y="454" font-size="9.1" textLength="258.2" lengthAdjust="spacingAndGlyphs">WITH THE CONTRACT DOCUMENTS. "CONSTRUCTION REVIEW"</text>
<text x="1883.8" y="464.8" font-size="9.1" textLength="269.8" lengthAdjust="spacingAndGlyphs">SERVICES ARE NOT PART OF OUR CONTRACT. ALL MEMBERS</text>
<text x="1883.8" y="475.2" font-size="9.1" textLength="235.2" lengthAdjust="spacingAndGlyphs">SHALL BE FRAMED ANCHORED, TIED AND BRACED IN</text>
<text x="1883.8" y="485.9" font-size="9.1" textLength="273.3" lengthAdjust="spacingAndGlyphs">ACCORDANCE WITH GOOD CONSTRUCTION PRACTICE AND THE</text>
<text x="1883.8" y="496.5" font-size="9.1" textLength="70.7" lengthAdjust="spacingAndGlyphs">BUILDING CODE.</text>
<text x="1865.1" y="518.1" font-size="9.1">3.</text>
<text x="1883.8" y="518.1" font-size="9.1" textLength="235.9" lengthAdjust="spacingAndGlyphs">DESIGN LOADS (LISTED AS: LIVE LOAD, DEAD LOAD,</text>
<text x="1883.8" y="529.4" font-size="9.1" textLength="56.9" lengthAdjust="spacingAndGlyphs">DEFLECTION)</text>
<circle cx="1866.6" cy="538" r="1.7" fill="#e4e7ef"/>
<text x="1883.8" y="540.9" font-size="9.1" textLength="249.8" lengthAdjust="spacingAndGlyphs">ROOMS OTHER THAN SLEEPING ROOMS: (40 PSF, 10 PSF,</text>
<text x="1883.8" y="552.1" font-size="9.1" textLength="29.2" lengthAdjust="spacingAndGlyphs">L/360)</text>
<circle cx="1866.6" cy="560.6" r="1.7" fill="#e4e7ef"/>
<text x="1883.8" y="563.5" font-size="9.1" textLength="188.3" lengthAdjust="spacingAndGlyphs">SLEEPING ROOMS: (30 PSF, 10 PSF, L/360)</text>
<circle cx="1866.6" cy="572" r="1.7" fill="#e4e7ef"/>
<text x="1883.8" y="574.9" font-size="9.1" textLength="245.2" lengthAdjust="spacingAndGlyphs">ATTIC WITH PERMANENT STAIR: (40 PSF, 10 PSF, L/360)</text>
<circle cx="1866.6" cy="583.3" r="1.7" fill="#e4e7ef"/>
<text x="1883.8" y="586.2" font-size="9.1" textLength="261.3" lengthAdjust="spacingAndGlyphs">ATTIC WITHOUT PERMANENT STAIR: (20 PSF, 10 PSF, L/360)</text>
<circle cx="1866.6" cy="594.7" r="1.7" fill="#e4e7ef"/>
<text x="1883.8" y="597.6" font-size="9.1" textLength="219" lengthAdjust="spacingAndGlyphs">ATTIC WITHOUT STORAGE: (10 PSF, 10 PSF, L/240)</text>
<circle cx="1866.6" cy="606.1" r="1.7" fill="#e4e7ef"/>
<text x="1883.8" y="609" font-size="9.1" textLength="143.7" lengthAdjust="spacingAndGlyphs">STAIRS: (40 PSF, 10 PSF, L/360)</text>
<circle cx="1866.6" cy="617.4" r="1.7" fill="#e4e7ef"/>
<text x="1883.8" y="620.3" font-size="9.1" textLength="208.7" lengthAdjust="spacingAndGlyphs">EXTERIOR BALCONIES: (60 PSF, 10 PSF, L/360)</text>
<circle cx="1866.6" cy="629" r="1.7" fill="#e4e7ef"/>
<text x="1883.8" y="631.9" font-size="9.1" textLength="142.2" lengthAdjust="spacingAndGlyphs">DECKS: (40 PSF, 10 PSF, L/360)</text>
<circle cx="1866.6" cy="640.4" r="1.7" fill="#e4e7ef"/>
<text x="1883.8" y="643.3" font-size="9.1" textLength="184.4" lengthAdjust="spacingAndGlyphs">GUARDRAILS AND HANDRAILS: (200 LBS)</text>
<circle cx="1866.6" cy="651.7" r="1.7" fill="#e4e7ef"/>
<text x="1883.8" y="654.6" font-size="9.1" textLength="256.4" lengthAdjust="spacingAndGlyphs">PASSSENGER VEHICLE GARAGES: (50 PSF, 10 PSF, L/360)</text>
<circle cx="1866.6" cy="663.1" r="1.7" fill="#e4e7ef"/>
<text x="1883.8" y="666" font-size="9.1" textLength="175.5" lengthAdjust="spacingAndGlyphs">FIRE ESCAPES: (40 PSF, 10 PSF, L/360)</text>
<circle cx="1866.6" cy="674.4" r="1.7" fill="#e4e7ef"/>
<text x="1883.8" y="677.3" font-size="9.1" textLength="69.2" lengthAdjust="spacingAndGlyphs">SNOW: (20 PSF)</text>
<text x="1865.1" y="699" font-size="9.1">4.</text>
<text x="1883.8" y="699" font-size="9.1" textLength="252.1" lengthAdjust="spacingAndGlyphs">WALLS SHALL BE BRACED BY SHEATHING WALLS ON ALL</text>
<text x="1883.8" y="709.4" font-size="9.1" textLength="251.3" lengthAdjust="spacingAndGlyphs">STORIES WITH WOOD STRUCTURAL PANELS. SEE FRAMING</text>
<text x="1883.8" y="720.2" font-size="9.1" textLength="230.6" lengthAdjust="spacingAndGlyphs">NOTES FOR THICKNESS AND NAILING REQUIREMENTS.</text>
<text x="1865.1" y="741.7" font-size="9.1">5.</text>
<text x="1883.8" y="741.7" font-size="9.1" textLength="274.8" lengthAdjust="spacingAndGlyphs">SEE APPENDIX M (DCA6) FOR EXTERIOR DECK REQUIREMENTS</text>
<text x="1883.8" y="752.4" font-size="9.1" textLength="212.9" lengthAdjust="spacingAndGlyphs">INCLUDING ATTACHMENTS FOR LATERAL LOADS.</text>
<text x="1865.1" y="773.7" font-size="9.1">6.</text>
<text x="1883.8" y="773.7" font-size="9.1" textLength="255.9" lengthAdjust="spacingAndGlyphs">CONCRETE SHALL HAVE A MINIMUM 28 DAY STRENGTH OF</text>
<text x="1883.8" y="784.3" font-size="9.1" textLength="275.9" lengthAdjust="spacingAndGlyphs">3000 PSI AND A MAXIMUM SLUMP OF 5 INCHES UNLESS NOTED</text>
<text x="1883.8" y="795" font-size="9.1" textLength="252.1" lengthAdjust="spacingAndGlyphs">OTHERWISE (UNO). AIR ENTRAINED PER TABLE 402.2. ALL</text>
<text x="1883.8" y="805.8" font-size="9.1" textLength="245.9" lengthAdjust="spacingAndGlyphs">CONCRETE SHALL BE PROPORTIONED, MIXED, HANDLED,</text>
<text x="1883.8" y="816.5" font-size="9.1" textLength="262.5" lengthAdjust="spacingAndGlyphs">SAMPLED, TESTED, AND PLACED IN ACCORDANCE WITH ACI</text>
<text x="1883.8" y="827" font-size="9.1" textLength="262.8" lengthAdjust="spacingAndGlyphs">STANDARDS. ALL SAMPLES FOR PUMPING SHALL BE TAKEN</text>
<text x="1883.8" y="837.8" font-size="9.1" textLength="274.4" lengthAdjust="spacingAndGlyphs">FROM THE EXIT END OF THE PUMP. CONTROL JOINTS IN SLABS</text>
<text x="1883.8" y="848.5" font-size="9.1" textLength="272.1" lengthAdjust="spacingAndGlyphs">SHALL BE SPACED ON A GRID OF +-30 TIMES THE DEPTH (D).</text>
<text x="1883.8" y="859.7" font-size="9.1" textLength="269.8" lengthAdjust="spacingAndGlyphs">CONTROL JOINTS SHALL BE SAWCUT TO A DEPTH OF 1/D. (I.E.</text>
<text x="1883.8" y="872" font-size="9.1" textLength="269.3" lengthAdjust="spacingAndGlyphs">4" CONCRETE SLABS SHALL HAVE ¼" DEEP CONTROL JOINTS</text>
<text x="1883.8" y="882.3" font-size="9.1" textLength="213.6" lengthAdjust="spacingAndGlyphs">SAWCUT IN SLAB ON A +-10'-0" x +-10'-0" GRID).</text>
<text x="1865.1" y="903.8" font-size="9.1">7.</text>
<text x="1883.8" y="903.8" font-size="9.1" textLength="272.1" lengthAdjust="spacingAndGlyphs">ALLOWABLE SOIL BEARING PRESSURE ASSUMED TO BE 2000</text>
<text x="1883.8" y="914" font-size="9.1" textLength="252.1" lengthAdjust="spacingAndGlyphs">PSF. THE CONTRACTOR MUST CONTACT A GEOTECHNICAL</text>
<text x="1883.8" y="924.8" font-size="9.1" textLength="272.8" lengthAdjust="spacingAndGlyphs">ENGINEER AND THE STRUCTUAL ENGINEER IF UNSATISFACTORY</text>
<text x="1883.8" y="935.3" font-size="9.1" textLength="263.6" lengthAdjust="spacingAndGlyphs">SUBSURFACE CONDITIONS ARE ENCOUNTERED. THE SURFACE</text>
<text x="1883.8" y="945.9" font-size="9.1" textLength="241.8" lengthAdjust="spacingAndGlyphs">AREA ADJACENT TO THE FOUNDATION WALL SHALL BE</text>
<text x="1883.8" y="956.3" font-size="9.1" textLength="239.5" lengthAdjust="spacingAndGlyphs">PROVIDED WITH ADEQUATE DRAINAGE, AND SHALL BE</text>
<text x="1883.8" y="966.8" font-size="9.1" textLength="248.2" lengthAdjust="spacingAndGlyphs">GRADED SO AS TO DRAINSURFACE WATER AWAY FROM</text>
<text x="1883.8" y="977.4" font-size="9.1" textLength="89.1" lengthAdjust="spacingAndGlyphs">FOUNDATION WALLS.</text>
<text x="1865.1" y="999" font-size="9.1">8.</text>
<text x="1883.8" y="999" font-size="9.1" textLength="245.2" lengthAdjust="spacingAndGlyphs">ALL FRAMING LUMBER SHALL BE SPF #2 (Fb = 875 PSI)</text>
<text x="1883.8" y="1010.4" font-size="9.1" textLength="275.9" lengthAdjust="spacingAndGlyphs">UNLESS NOTED OTHERWISE (UNO). ALL TREATED LUMBER SHALL</text>
<text x="1883.8" y="1021.3" font-size="9.1" textLength="259.5" lengthAdjust="spacingAndGlyphs">BE SYP # 2. PLATE MATERIAL MAY BE SPF # 3 OR SYP #3</text>
<text x="1883.8" y="1032.4" font-size="9.1" textLength="118" lengthAdjust="spacingAndGlyphs">(Fc(perp) = 425 PSI - MIN).</text>
<text x="1865.1" y="1054.2" font-size="9.1">9.</text>
<text x="1883.8" y="1054.2" font-size="9.1" textLength="269.8" lengthAdjust="spacingAndGlyphs">L.V.L.  SHALL BE LAMINATED VENEER LUMBER: Fb=2600 PSI,</text>
<text x="1883.8" y="1064.4" font-size="9.1" textLength="114.2" lengthAdjust="spacingAndGlyphs">Fv=285 PSI, E=1.9x10  PSI.</text>
<text x="1871.2" y="1075.1" font-size="9.1">9.1.</text>
<text x="1902.7" y="1075.1" font-size="9.1" textLength="247" lengthAdjust="spacingAndGlyphs">P.S.L.  SHALL BE PARALLEL STRAND LUMBER: Fb=2900</text>
<text x="1902.7" y="1085.4" font-size="9.1" textLength="138.6" lengthAdjust="spacingAndGlyphs">PSI, Fv=290 PSI, E=2.0x10  PSI.</text>
<text x="1871.2" y="1096.2" font-size="9.1">9.2.</text>
<text x="1902.7" y="1096.2" font-size="9.1" textLength="249.3" lengthAdjust="spacingAndGlyphs">L.S.L.  SHALL BE LAMINATED STRAND LUMBER: Fb=2250</text>
<text x="1902.7" y="1106.6" font-size="9.1" textLength="199.4" lengthAdjust="spacingAndGlyphs">PSI, Fv=400 PSI, E=1.55x10  PSI. INSTALL ALL</text>
<text x="1902.7" y="1117.1" font-size="9.1" textLength="224.7" lengthAdjust="spacingAndGlyphs">CONNECTIONS PER MANUFACTURERS INSTRUCTIONS.</text>
<text x="1865.1" y="1138.2" font-size="9.1">10.</text>
<text x="1883.8" y="1138.2" font-size="9.1" textLength="275.1" lengthAdjust="spacingAndGlyphs">ALL ROOF TRUSS AND I-JOIST LAYOUTS SHALL BE PREPARED</text>
<text x="1883.8" y="1148.7" font-size="9.1" textLength="264.4" lengthAdjust="spacingAndGlyphs">IN ACCORDANCE WITH THE SEALED STRUCTURAL DRAWINGS.</text>
<text x="1883.8" y="1159.4" font-size="9.1" textLength="270.5" lengthAdjust="spacingAndGlyphs">TRUSSES AND I-JOISTS SHALL BE INSTALLED ACCORDING TO</text>
<text x="1883.8" y="1169.9" font-size="9.1" textLength="268.2" lengthAdjust="spacingAndGlyphs">THE MANUFACTURE'S SPECIFICATIONS. ANY CHANGE IN TRUSS</text>
<text x="1883.8" y="1180.5" font-size="9.1" textLength="223.6" lengthAdjust="spacingAndGlyphs">OR I-JOIST LAYOUT SHALL BE COORDINATED WITH</text>
<text x="1883.8" y="1190.9" font-size="9.1" textLength="49.2" lengthAdjust="spacingAndGlyphs">ENGINEERS.</text>
<text x="1865.1" y="1212.4" font-size="9.1">11.</text>
<text x="1883.8" y="1212.4" font-size="9.1" textLength="272.1" lengthAdjust="spacingAndGlyphs">ALL STRUCTURAL STEEL SHALL BE ASTM A-36. STEEL BEAMS</text>
<text x="1883.8" y="1222.9" font-size="9.1" textLength="275.1" lengthAdjust="spacingAndGlyphs">SHALL BE SUPPORTED AT EACH END WITH A MINIMUM BEARING</text>
<text x="1883.8" y="1233.5" font-size="9.1" textLength="268.2" lengthAdjust="spacingAndGlyphs">LENGTH OF 3 1/2" INCHES AND FULL FLANGE WIDTH. PROVIDE</text>
<text x="1883.8" y="1244.3" font-size="9.1" textLength="244.4" lengthAdjust="spacingAndGlyphs">SOLID BEARING FROM BEAM SUPPORT TO FOUNDATION.</text>
<text x="1883.8" y="1254.7" font-size="9.1" textLength="257.5" lengthAdjust="spacingAndGlyphs">BEAMS SHALL BE ATTACHED TO EACH SUPPORT WITH TWO</text>
<text x="1883.8" y="1265.5" font-size="9.1" textLength="267.1" lengthAdjust="spacingAndGlyphs">LAG SCREWS (1/2" DIAMETER x 4" LONG). LATERAL SUPPORT</text>
<text x="1883.8" y="1276.2" font-size="9.1" textLength="260.5" lengthAdjust="spacingAndGlyphs">IS CONSIDERED ADEQUATE PROVIDING THE JOIST ARE TOE</text>
<text x="1883.8" y="1286.7" font-size="9.1" textLength="269.8" lengthAdjust="spacingAndGlyphs">NAILED TO THE SOLE PLATE, AND SOLE PLATE IS NAILED OR</text>
<text x="1883.8" y="1297.4" font-size="9.1" textLength="269.3" lengthAdjust="spacingAndGlyphs">BOLTED TO THE BEAM FLANGE @ 48" O.C. ALL STEEL TUBING</text>
<text x="1883.8" y="1307.7" font-size="9.1" textLength="239" lengthAdjust="spacingAndGlyphs">SHALL BE ASTM A500. LAP ALL REBAR SPLICES 30 BAR</text>
<text x="1883.8" y="1318.8" font-size="9.1" textLength="46.1" lengthAdjust="spacingAndGlyphs">DIAMETERS.</text>
<text x="1865.1" y="1340" font-size="9.1">12.</text>
<text x="1883.8" y="1340" font-size="9.1" textLength="257.5" lengthAdjust="spacingAndGlyphs">REBAR SHALL BE DEFORMED STEEL, ASTM615, GRADE 60.</text>
<text x="1865.1" y="1361.7" font-size="9.1">13.</text>
<text x="1883.8" y="1361.7" font-size="9.1" textLength="269.8" lengthAdjust="spacingAndGlyphs">FLITCH BEAMS SHALL BE BOLTED TOGETHER USING (2) ROWS</text>
<text x="1883.8" y="1373" font-size="9.1" textLength="278.2" lengthAdjust="spacingAndGlyphs">OF 1/2" DIAMETER BOLTS (ASTM A325) WITH WASHERS PLACED</text>
<text x="1883.8" y="1383.9" font-size="9.1" textLength="241.8" lengthAdjust="spacingAndGlyphs">UNDER THE THREADED END OF BOLT. BOLTS SHALL BE</text>
<text x="1883.8" y="1394.9" font-size="9.1" textLength="278.2" lengthAdjust="spacingAndGlyphs">SPACED AT 24" O.C. (MAX), AND STAGGERED AT THE TOP AND</text>
<text x="1883.8" y="1406.3" font-size="9.1" textLength="239.5" lengthAdjust="spacingAndGlyphs">BOTTOM OF BEAM (2" EDGE DISTANCE), WITH 2 BOLTS</text>
<text x="1883.8" y="1417.1" font-size="9.1" textLength="149.1" lengthAdjust="spacingAndGlyphs">LOCATED AT 6" FROM EACH END.</text>
<text x="1865.1" y="1439.4" font-size="9.1">14.</text>
<text x="1883.8" y="1439.4" font-size="9.1" textLength="268.2" lengthAdjust="spacingAndGlyphs">BRICK LINTELS (WHEN REQUIRED) SHALL BE 3 1/2"x3 1/2"x1/4"</text>
<text x="1883.8" y="1449.8" font-size="9.1" textLength="265.9" lengthAdjust="spacingAndGlyphs">STEEL ANGLE FOR UP TO 6'-0" SPAN AND 6"x4"x5/16" STEEL</text>
<text x="1883.8" y="1460.6" font-size="9.1" textLength="263.6" lengthAdjust="spacingAndGlyphs">ANGLE WITH 6" LEG VERTICAL FOR SPANS UP TO 9'-0". SEE</text>
<text x="1883.8" y="1471.2" font-size="9.1" textLength="268.2" lengthAdjust="spacingAndGlyphs">PLANS FOR SPANS OVER 9'-0". SEE ALSO SECTION R703.7.3</text>
<text x="1883.8" y="1482.1" font-size="9.1" textLength="36.1" lengthAdjust="spacingAndGlyphs">LINTELS.</text>
</g>
</svg>
</body></html>
